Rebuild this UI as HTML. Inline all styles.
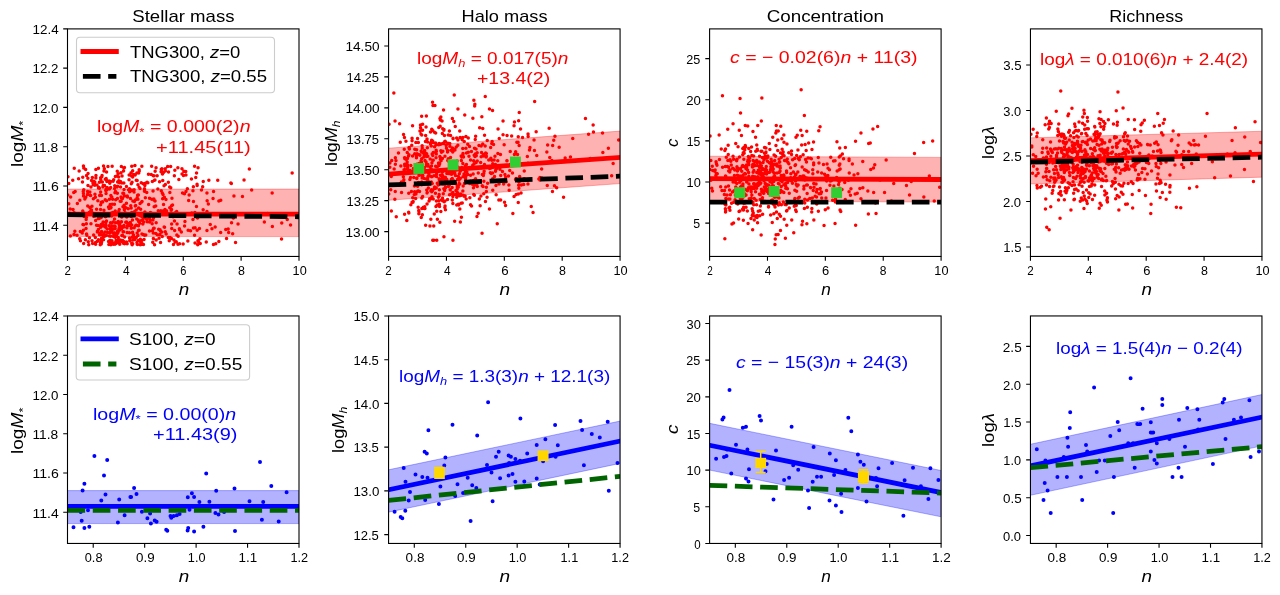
<!DOCTYPE html>
<html><head><meta charset="utf-8"><title>Figure</title>
<style>
html,body{margin:0;padding:0;background:#fff;}
body{width:1280px;height:595px;overflow:hidden;font-family:"Liberation Sans", sans-serif;}
svg{display:block;font-family:"Liberation Sans", sans-serif;will-change:transform;}
</style></head>
<body>
<svg width="1280" height="595" viewBox="0 0 1280 595">
<rect width="1280" height="595" fill="#fff"/>
<defs>
<clipPath id="c00"><rect x="67.5" y="28.9" width="231.5" height="227.55"/></clipPath>
<clipPath id="c01"><rect x="388.57" y="28.9" width="231.5" height="227.55"/></clipPath>
<clipPath id="c02"><rect x="709.6" y="28.9" width="231.5" height="227.55"/></clipPath>
<clipPath id="c03"><rect x="1030.45" y="28.9" width="231.5" height="227.55"/></clipPath>
<clipPath id="c10"><rect x="67.5" y="315.95" width="231.5" height="227.5"/></clipPath>
<clipPath id="c11"><rect x="388.57" y="315.95" width="231.5" height="227.5"/></clipPath>
<clipPath id="c12"><rect x="709.6" y="315.95" width="231.5" height="227.5"/></clipPath>
<clipPath id="c13"><rect x="1030.45" y="315.95" width="231.5" height="227.5"/></clipPath>
</defs>
<path d="M125.2 227.7a1.75 1.75 0 1 0 3.5 0a1.75 1.75 0 1 0 -3.5 0M193.3 227.8a1.75 1.75 0 1 0 3.5 0a1.75 1.75 0 1 0 -3.5 0M165.9 166.5a1.75 1.75 0 1 0 3.5 0a1.75 1.75 0 1 0 -3.5 0M96.2 225.6a1.75 1.75 0 1 0 3.5 0a1.75 1.75 0 1 0 -3.5 0M98.3 233.1a1.75 1.75 0 1 0 3.5 0a1.75 1.75 0 1 0 -3.5 0M184.0 171.5a1.75 1.75 0 1 0 3.5 0a1.75 1.75 0 1 0 -3.5 0M78.0 238.7a1.75 1.75 0 1 0 3.5 0a1.75 1.75 0 1 0 -3.5 0M180.2 168.8a1.75 1.75 0 1 0 3.5 0a1.75 1.75 0 1 0 -3.5 0M153.2 180.1a1.75 1.75 0 1 0 3.5 0a1.75 1.75 0 1 0 -3.5 0M114.0 199.7a1.75 1.75 0 1 0 3.5 0a1.75 1.75 0 1 0 -3.5 0M97.5 218.5a1.75 1.75 0 1 0 3.5 0a1.75 1.75 0 1 0 -3.5 0M101.5 235.2a1.75 1.75 0 1 0 3.5 0a1.75 1.75 0 1 0 -3.5 0M108.0 240.5a1.75 1.75 0 1 0 3.5 0a1.75 1.75 0 1 0 -3.5 0M110.2 240.7a1.75 1.75 0 1 0 3.5 0a1.75 1.75 0 1 0 -3.5 0M126.1 224.6a1.75 1.75 0 1 0 3.5 0a1.75 1.75 0 1 0 -3.5 0M130.7 220.1a1.75 1.75 0 1 0 3.5 0a1.75 1.75 0 1 0 -3.5 0M290.4 173.1a1.75 1.75 0 1 0 3.5 0a1.75 1.75 0 1 0 -3.5 0M163.3 209.5a1.75 1.75 0 1 0 3.5 0a1.75 1.75 0 1 0 -3.5 0M130.0 166.3a1.75 1.75 0 1 0 3.5 0a1.75 1.75 0 1 0 -3.5 0M270.4 192.9a1.75 1.75 0 1 0 3.5 0a1.75 1.75 0 1 0 -3.5 0M99.8 238.3a1.75 1.75 0 1 0 3.5 0a1.75 1.75 0 1 0 -3.5 0M108.9 208.0a1.75 1.75 0 1 0 3.5 0a1.75 1.75 0 1 0 -3.5 0M134.5 237.5a1.75 1.75 0 1 0 3.5 0a1.75 1.75 0 1 0 -3.5 0M81.9 243.6a1.75 1.75 0 1 0 3.5 0a1.75 1.75 0 1 0 -3.5 0M77.4 171.1a1.75 1.75 0 1 0 3.5 0a1.75 1.75 0 1 0 -3.5 0M128.1 225.4a1.75 1.75 0 1 0 3.5 0a1.75 1.75 0 1 0 -3.5 0M120.5 235.7a1.75 1.75 0 1 0 3.5 0a1.75 1.75 0 1 0 -3.5 0M196.2 240.8a1.75 1.75 0 1 0 3.5 0a1.75 1.75 0 1 0 -3.5 0M136.2 199.2a1.75 1.75 0 1 0 3.5 0a1.75 1.75 0 1 0 -3.5 0M126.0 215.8a1.75 1.75 0 1 0 3.5 0a1.75 1.75 0 1 0 -3.5 0M130.2 244.6a1.75 1.75 0 1 0 3.5 0a1.75 1.75 0 1 0 -3.5 0M104.3 193.4a1.75 1.75 0 1 0 3.5 0a1.75 1.75 0 1 0 -3.5 0M73.1 231.3a1.75 1.75 0 1 0 3.5 0a1.75 1.75 0 1 0 -3.5 0M97.1 187.2a1.75 1.75 0 1 0 3.5 0a1.75 1.75 0 1 0 -3.5 0M140.1 213.5a1.75 1.75 0 1 0 3.5 0a1.75 1.75 0 1 0 -3.5 0M98.8 209.5a1.75 1.75 0 1 0 3.5 0a1.75 1.75 0 1 0 -3.5 0M109.9 216.1a1.75 1.75 0 1 0 3.5 0a1.75 1.75 0 1 0 -3.5 0M68.9 197.0a1.75 1.75 0 1 0 3.5 0a1.75 1.75 0 1 0 -3.5 0M168.9 166.4a1.75 1.75 0 1 0 3.5 0a1.75 1.75 0 1 0 -3.5 0M101.4 185.6a1.75 1.75 0 1 0 3.5 0a1.75 1.75 0 1 0 -3.5 0M99.8 242.4a1.75 1.75 0 1 0 3.5 0a1.75 1.75 0 1 0 -3.5 0M190.0 213.0a1.75 1.75 0 1 0 3.5 0a1.75 1.75 0 1 0 -3.5 0M127.7 232.8a1.75 1.75 0 1 0 3.5 0a1.75 1.75 0 1 0 -3.5 0M167.5 240.7a1.75 1.75 0 1 0 3.5 0a1.75 1.75 0 1 0 -3.5 0M142.9 235.3a1.75 1.75 0 1 0 3.5 0a1.75 1.75 0 1 0 -3.5 0M163.5 231.8a1.75 1.75 0 1 0 3.5 0a1.75 1.75 0 1 0 -3.5 0M83.9 169.5a1.75 1.75 0 1 0 3.5 0a1.75 1.75 0 1 0 -3.5 0M129.5 190.6a1.75 1.75 0 1 0 3.5 0a1.75 1.75 0 1 0 -3.5 0M134.5 180.2a1.75 1.75 0 1 0 3.5 0a1.75 1.75 0 1 0 -3.5 0M187.4 194.9a1.75 1.75 0 1 0 3.5 0a1.75 1.75 0 1 0 -3.5 0M122.0 227.1a1.75 1.75 0 1 0 3.5 0a1.75 1.75 0 1 0 -3.5 0M136.9 221.4a1.75 1.75 0 1 0 3.5 0a1.75 1.75 0 1 0 -3.5 0M84.7 217.4a1.75 1.75 0 1 0 3.5 0a1.75 1.75 0 1 0 -3.5 0M119.8 228.7a1.75 1.75 0 1 0 3.5 0a1.75 1.75 0 1 0 -3.5 0M112.8 219.0a1.75 1.75 0 1 0 3.5 0a1.75 1.75 0 1 0 -3.5 0M96.7 188.1a1.75 1.75 0 1 0 3.5 0a1.75 1.75 0 1 0 -3.5 0M173.4 242.1a1.75 1.75 0 1 0 3.5 0a1.75 1.75 0 1 0 -3.5 0M117.9 229.9a1.75 1.75 0 1 0 3.5 0a1.75 1.75 0 1 0 -3.5 0M267.4 214.3a1.75 1.75 0 1 0 3.5 0a1.75 1.75 0 1 0 -3.5 0M125.7 197.0a1.75 1.75 0 1 0 3.5 0a1.75 1.75 0 1 0 -3.5 0M133.9 199.8a1.75 1.75 0 1 0 3.5 0a1.75 1.75 0 1 0 -3.5 0M145.0 192.5a1.75 1.75 0 1 0 3.5 0a1.75 1.75 0 1 0 -3.5 0M140.0 240.6a1.75 1.75 0 1 0 3.5 0a1.75 1.75 0 1 0 -3.5 0M108.8 236.2a1.75 1.75 0 1 0 3.5 0a1.75 1.75 0 1 0 -3.5 0M119.2 227.6a1.75 1.75 0 1 0 3.5 0a1.75 1.75 0 1 0 -3.5 0M96.6 229.5a1.75 1.75 0 1 0 3.5 0a1.75 1.75 0 1 0 -3.5 0M122.3 189.6a1.75 1.75 0 1 0 3.5 0a1.75 1.75 0 1 0 -3.5 0M81.7 166.0a1.75 1.75 0 1 0 3.5 0a1.75 1.75 0 1 0 -3.5 0M240.7 196.4a1.75 1.75 0 1 0 3.5 0a1.75 1.75 0 1 0 -3.5 0M99.5 243.9a1.75 1.75 0 1 0 3.5 0a1.75 1.75 0 1 0 -3.5 0M151.7 228.4a1.75 1.75 0 1 0 3.5 0a1.75 1.75 0 1 0 -3.5 0M95.2 185.1a1.75 1.75 0 1 0 3.5 0a1.75 1.75 0 1 0 -3.5 0M194.8 173.1a1.75 1.75 0 1 0 3.5 0a1.75 1.75 0 1 0 -3.5 0M146.9 204.4a1.75 1.75 0 1 0 3.5 0a1.75 1.75 0 1 0 -3.5 0M81.2 224.6a1.75 1.75 0 1 0 3.5 0a1.75 1.75 0 1 0 -3.5 0M175.3 224.1a1.75 1.75 0 1 0 3.5 0a1.75 1.75 0 1 0 -3.5 0M217.1 200.9a1.75 1.75 0 1 0 3.5 0a1.75 1.75 0 1 0 -3.5 0M189.7 179.1a1.75 1.75 0 1 0 3.5 0a1.75 1.75 0 1 0 -3.5 0M134.3 225.2a1.75 1.75 0 1 0 3.5 0a1.75 1.75 0 1 0 -3.5 0M104.5 235.6a1.75 1.75 0 1 0 3.5 0a1.75 1.75 0 1 0 -3.5 0M109.1 244.8a1.75 1.75 0 1 0 3.5 0a1.75 1.75 0 1 0 -3.5 0M198.2 238.8a1.75 1.75 0 1 0 3.5 0a1.75 1.75 0 1 0 -3.5 0M135.4 180.4a1.75 1.75 0 1 0 3.5 0a1.75 1.75 0 1 0 -3.5 0M100.6 201.7a1.75 1.75 0 1 0 3.5 0a1.75 1.75 0 1 0 -3.5 0M192.8 166.3a1.75 1.75 0 1 0 3.5 0a1.75 1.75 0 1 0 -3.5 0M151.0 242.3a1.75 1.75 0 1 0 3.5 0a1.75 1.75 0 1 0 -3.5 0M138.0 223.3a1.75 1.75 0 1 0 3.5 0a1.75 1.75 0 1 0 -3.5 0M113.0 185.8a1.75 1.75 0 1 0 3.5 0a1.75 1.75 0 1 0 -3.5 0M115.7 198.4a1.75 1.75 0 1 0 3.5 0a1.75 1.75 0 1 0 -3.5 0M108.3 242.5a1.75 1.75 0 1 0 3.5 0a1.75 1.75 0 1 0 -3.5 0M93.9 220.6a1.75 1.75 0 1 0 3.5 0a1.75 1.75 0 1 0 -3.5 0M186.9 200.5a1.75 1.75 0 1 0 3.5 0a1.75 1.75 0 1 0 -3.5 0M122.8 196.0a1.75 1.75 0 1 0 3.5 0a1.75 1.75 0 1 0 -3.5 0M129.5 216.5a1.75 1.75 0 1 0 3.5 0a1.75 1.75 0 1 0 -3.5 0M114.6 235.8a1.75 1.75 0 1 0 3.5 0a1.75 1.75 0 1 0 -3.5 0M163.5 168.8a1.75 1.75 0 1 0 3.5 0a1.75 1.75 0 1 0 -3.5 0M72.6 215.3a1.75 1.75 0 1 0 3.5 0a1.75 1.75 0 1 0 -3.5 0M115.6 193.2a1.75 1.75 0 1 0 3.5 0a1.75 1.75 0 1 0 -3.5 0M71.3 209.6a1.75 1.75 0 1 0 3.5 0a1.75 1.75 0 1 0 -3.5 0M86.5 241.8a1.75 1.75 0 1 0 3.5 0a1.75 1.75 0 1 0 -3.5 0M226.9 232.6a1.75 1.75 0 1 0 3.5 0a1.75 1.75 0 1 0 -3.5 0M139.0 242.6a1.75 1.75 0 1 0 3.5 0a1.75 1.75 0 1 0 -3.5 0M120.1 235.6a1.75 1.75 0 1 0 3.5 0a1.75 1.75 0 1 0 -3.5 0M131.8 235.0a1.75 1.75 0 1 0 3.5 0a1.75 1.75 0 1 0 -3.5 0M191.2 219.5a1.75 1.75 0 1 0 3.5 0a1.75 1.75 0 1 0 -3.5 0M120.8 226.6a1.75 1.75 0 1 0 3.5 0a1.75 1.75 0 1 0 -3.5 0M127.0 223.6a1.75 1.75 0 1 0 3.5 0a1.75 1.75 0 1 0 -3.5 0M141.5 183.7a1.75 1.75 0 1 0 3.5 0a1.75 1.75 0 1 0 -3.5 0M113.2 244.3a1.75 1.75 0 1 0 3.5 0a1.75 1.75 0 1 0 -3.5 0M128.0 240.7a1.75 1.75 0 1 0 3.5 0a1.75 1.75 0 1 0 -3.5 0M163.6 184.6a1.75 1.75 0 1 0 3.5 0a1.75 1.75 0 1 0 -3.5 0M201.4 209.7a1.75 1.75 0 1 0 3.5 0a1.75 1.75 0 1 0 -3.5 0M99.4 217.6a1.75 1.75 0 1 0 3.5 0a1.75 1.75 0 1 0 -3.5 0M205.2 230.5a1.75 1.75 0 1 0 3.5 0a1.75 1.75 0 1 0 -3.5 0M68.4 208.9a1.75 1.75 0 1 0 3.5 0a1.75 1.75 0 1 0 -3.5 0M154.1 233.6a1.75 1.75 0 1 0 3.5 0a1.75 1.75 0 1 0 -3.5 0M177.1 179.6a1.75 1.75 0 1 0 3.5 0a1.75 1.75 0 1 0 -3.5 0M91.2 183.0a1.75 1.75 0 1 0 3.5 0a1.75 1.75 0 1 0 -3.5 0M113.4 226.6a1.75 1.75 0 1 0 3.5 0a1.75 1.75 0 1 0 -3.5 0M176.2 244.2a1.75 1.75 0 1 0 3.5 0a1.75 1.75 0 1 0 -3.5 0M66.2 176.7a1.75 1.75 0 1 0 3.5 0a1.75 1.75 0 1 0 -3.5 0M129.5 228.3a1.75 1.75 0 1 0 3.5 0a1.75 1.75 0 1 0 -3.5 0M160.9 198.8a1.75 1.75 0 1 0 3.5 0a1.75 1.75 0 1 0 -3.5 0M127.3 179.7a1.75 1.75 0 1 0 3.5 0a1.75 1.75 0 1 0 -3.5 0M143.1 185.5a1.75 1.75 0 1 0 3.5 0a1.75 1.75 0 1 0 -3.5 0M103.5 179.2a1.75 1.75 0 1 0 3.5 0a1.75 1.75 0 1 0 -3.5 0M103.2 213.5a1.75 1.75 0 1 0 3.5 0a1.75 1.75 0 1 0 -3.5 0M111.4 181.2a1.75 1.75 0 1 0 3.5 0a1.75 1.75 0 1 0 -3.5 0M104.9 215.8a1.75 1.75 0 1 0 3.5 0a1.75 1.75 0 1 0 -3.5 0M110.3 230.8a1.75 1.75 0 1 0 3.5 0a1.75 1.75 0 1 0 -3.5 0M224.5 214.1a1.75 1.75 0 1 0 3.5 0a1.75 1.75 0 1 0 -3.5 0M126.6 225.6a1.75 1.75 0 1 0 3.5 0a1.75 1.75 0 1 0 -3.5 0M112.8 188.5a1.75 1.75 0 1 0 3.5 0a1.75 1.75 0 1 0 -3.5 0M97.6 182.3a1.75 1.75 0 1 0 3.5 0a1.75 1.75 0 1 0 -3.5 0M224.8 238.6a1.75 1.75 0 1 0 3.5 0a1.75 1.75 0 1 0 -3.5 0M113.3 237.2a1.75 1.75 0 1 0 3.5 0a1.75 1.75 0 1 0 -3.5 0M262.6 221.9a1.75 1.75 0 1 0 3.5 0a1.75 1.75 0 1 0 -3.5 0M138.0 215.6a1.75 1.75 0 1 0 3.5 0a1.75 1.75 0 1 0 -3.5 0M137.4 169.8a1.75 1.75 0 1 0 3.5 0a1.75 1.75 0 1 0 -3.5 0M182.1 171.3a1.75 1.75 0 1 0 3.5 0a1.75 1.75 0 1 0 -3.5 0M160.1 168.7a1.75 1.75 0 1 0 3.5 0a1.75 1.75 0 1 0 -3.5 0M132.3 192.0a1.75 1.75 0 1 0 3.5 0a1.75 1.75 0 1 0 -3.5 0M119.3 196.9a1.75 1.75 0 1 0 3.5 0a1.75 1.75 0 1 0 -3.5 0M186.4 230.3a1.75 1.75 0 1 0 3.5 0a1.75 1.75 0 1 0 -3.5 0M113.9 222.8a1.75 1.75 0 1 0 3.5 0a1.75 1.75 0 1 0 -3.5 0M196.0 244.8a1.75 1.75 0 1 0 3.5 0a1.75 1.75 0 1 0 -3.5 0M80.7 182.1a1.75 1.75 0 1 0 3.5 0a1.75 1.75 0 1 0 -3.5 0M117.1 229.9a1.75 1.75 0 1 0 3.5 0a1.75 1.75 0 1 0 -3.5 0M124.7 241.9a1.75 1.75 0 1 0 3.5 0a1.75 1.75 0 1 0 -3.5 0M213.4 227.1a1.75 1.75 0 1 0 3.5 0a1.75 1.75 0 1 0 -3.5 0M99.5 226.5a1.75 1.75 0 1 0 3.5 0a1.75 1.75 0 1 0 -3.5 0M168.1 192.6a1.75 1.75 0 1 0 3.5 0a1.75 1.75 0 1 0 -3.5 0M138.5 244.7a1.75 1.75 0 1 0 3.5 0a1.75 1.75 0 1 0 -3.5 0M151.5 233.1a1.75 1.75 0 1 0 3.5 0a1.75 1.75 0 1 0 -3.5 0M129.9 175.9a1.75 1.75 0 1 0 3.5 0a1.75 1.75 0 1 0 -3.5 0M242.3 180.0a1.75 1.75 0 1 0 3.5 0a1.75 1.75 0 1 0 -3.5 0M119.4 201.3a1.75 1.75 0 1 0 3.5 0a1.75 1.75 0 1 0 -3.5 0M109.3 207.5a1.75 1.75 0 1 0 3.5 0a1.75 1.75 0 1 0 -3.5 0M98.2 233.6a1.75 1.75 0 1 0 3.5 0a1.75 1.75 0 1 0 -3.5 0M94.1 178.0a1.75 1.75 0 1 0 3.5 0a1.75 1.75 0 1 0 -3.5 0M107.7 189.1a1.75 1.75 0 1 0 3.5 0a1.75 1.75 0 1 0 -3.5 0M205.2 211.5a1.75 1.75 0 1 0 3.5 0a1.75 1.75 0 1 0 -3.5 0M168.4 237.4a1.75 1.75 0 1 0 3.5 0a1.75 1.75 0 1 0 -3.5 0M84.8 234.0a1.75 1.75 0 1 0 3.5 0a1.75 1.75 0 1 0 -3.5 0M124.0 222.3a1.75 1.75 0 1 0 3.5 0a1.75 1.75 0 1 0 -3.5 0M112.3 225.9a1.75 1.75 0 1 0 3.5 0a1.75 1.75 0 1 0 -3.5 0M124.0 242.7a1.75 1.75 0 1 0 3.5 0a1.75 1.75 0 1 0 -3.5 0M139.9 220.2a1.75 1.75 0 1 0 3.5 0a1.75 1.75 0 1 0 -3.5 0M103.8 216.8a1.75 1.75 0 1 0 3.5 0a1.75 1.75 0 1 0 -3.5 0M226.4 229.1a1.75 1.75 0 1 0 3.5 0a1.75 1.75 0 1 0 -3.5 0M111.4 221.9a1.75 1.75 0 1 0 3.5 0a1.75 1.75 0 1 0 -3.5 0M136.7 225.8a1.75 1.75 0 1 0 3.5 0a1.75 1.75 0 1 0 -3.5 0M128.5 222.5a1.75 1.75 0 1 0 3.5 0a1.75 1.75 0 1 0 -3.5 0M99.5 202.2a1.75 1.75 0 1 0 3.5 0a1.75 1.75 0 1 0 -3.5 0M81.5 212.8a1.75 1.75 0 1 0 3.5 0a1.75 1.75 0 1 0 -3.5 0M120.7 235.2a1.75 1.75 0 1 0 3.5 0a1.75 1.75 0 1 0 -3.5 0M162.3 185.8a1.75 1.75 0 1 0 3.5 0a1.75 1.75 0 1 0 -3.5 0M174.9 211.4a1.75 1.75 0 1 0 3.5 0a1.75 1.75 0 1 0 -3.5 0M147.0 216.0a1.75 1.75 0 1 0 3.5 0a1.75 1.75 0 1 0 -3.5 0M81.7 193.6a1.75 1.75 0 1 0 3.5 0a1.75 1.75 0 1 0 -3.5 0M199.7 189.9a1.75 1.75 0 1 0 3.5 0a1.75 1.75 0 1 0 -3.5 0M161.0 180.6a1.75 1.75 0 1 0 3.5 0a1.75 1.75 0 1 0 -3.5 0M195.3 184.3a1.75 1.75 0 1 0 3.5 0a1.75 1.75 0 1 0 -3.5 0M135.4 197.7a1.75 1.75 0 1 0 3.5 0a1.75 1.75 0 1 0 -3.5 0M205.2 192.9a1.75 1.75 0 1 0 3.5 0a1.75 1.75 0 1 0 -3.5 0M87.7 237.7a1.75 1.75 0 1 0 3.5 0a1.75 1.75 0 1 0 -3.5 0M66.0 194.9a1.75 1.75 0 1 0 3.5 0a1.75 1.75 0 1 0 -3.5 0M78.6 231.4a1.75 1.75 0 1 0 3.5 0a1.75 1.75 0 1 0 -3.5 0M95.7 231.2a1.75 1.75 0 1 0 3.5 0a1.75 1.75 0 1 0 -3.5 0M96.6 239.8a1.75 1.75 0 1 0 3.5 0a1.75 1.75 0 1 0 -3.5 0M104.7 220.9a1.75 1.75 0 1 0 3.5 0a1.75 1.75 0 1 0 -3.5 0M135.4 244.3a1.75 1.75 0 1 0 3.5 0a1.75 1.75 0 1 0 -3.5 0M91.6 198.8a1.75 1.75 0 1 0 3.5 0a1.75 1.75 0 1 0 -3.5 0M130.2 190.3a1.75 1.75 0 1 0 3.5 0a1.75 1.75 0 1 0 -3.5 0M97.2 187.7a1.75 1.75 0 1 0 3.5 0a1.75 1.75 0 1 0 -3.5 0M138.6 239.3a1.75 1.75 0 1 0 3.5 0a1.75 1.75 0 1 0 -3.5 0M78.1 200.2a1.75 1.75 0 1 0 3.5 0a1.75 1.75 0 1 0 -3.5 0M108.8 181.6a1.75 1.75 0 1 0 3.5 0a1.75 1.75 0 1 0 -3.5 0M214.0 243.8a1.75 1.75 0 1 0 3.5 0a1.75 1.75 0 1 0 -3.5 0M136.2 235.4a1.75 1.75 0 1 0 3.5 0a1.75 1.75 0 1 0 -3.5 0M172.9 230.5a1.75 1.75 0 1 0 3.5 0a1.75 1.75 0 1 0 -3.5 0M142.6 215.7a1.75 1.75 0 1 0 3.5 0a1.75 1.75 0 1 0 -3.5 0M130.9 236.8a1.75 1.75 0 1 0 3.5 0a1.75 1.75 0 1 0 -3.5 0M94.8 209.2a1.75 1.75 0 1 0 3.5 0a1.75 1.75 0 1 0 -3.5 0M130.0 225.0a1.75 1.75 0 1 0 3.5 0a1.75 1.75 0 1 0 -3.5 0M83.1 199.0a1.75 1.75 0 1 0 3.5 0a1.75 1.75 0 1 0 -3.5 0M162.9 209.9a1.75 1.75 0 1 0 3.5 0a1.75 1.75 0 1 0 -3.5 0M232.2 196.1a1.75 1.75 0 1 0 3.5 0a1.75 1.75 0 1 0 -3.5 0M179.6 232.0a1.75 1.75 0 1 0 3.5 0a1.75 1.75 0 1 0 -3.5 0M93.2 194.2a1.75 1.75 0 1 0 3.5 0a1.75 1.75 0 1 0 -3.5 0M113.7 191.6a1.75 1.75 0 1 0 3.5 0a1.75 1.75 0 1 0 -3.5 0M113.2 192.8a1.75 1.75 0 1 0 3.5 0a1.75 1.75 0 1 0 -3.5 0M93.8 242.4a1.75 1.75 0 1 0 3.5 0a1.75 1.75 0 1 0 -3.5 0M130.9 170.8a1.75 1.75 0 1 0 3.5 0a1.75 1.75 0 1 0 -3.5 0M154.0 205.9a1.75 1.75 0 1 0 3.5 0a1.75 1.75 0 1 0 -3.5 0M109.8 230.2a1.75 1.75 0 1 0 3.5 0a1.75 1.75 0 1 0 -3.5 0M195.8 218.0a1.75 1.75 0 1 0 3.5 0a1.75 1.75 0 1 0 -3.5 0M160.9 211.1a1.75 1.75 0 1 0 3.5 0a1.75 1.75 0 1 0 -3.5 0M81.0 211.0a1.75 1.75 0 1 0 3.5 0a1.75 1.75 0 1 0 -3.5 0M160.0 231.9a1.75 1.75 0 1 0 3.5 0a1.75 1.75 0 1 0 -3.5 0M188.8 230.7a1.75 1.75 0 1 0 3.5 0a1.75 1.75 0 1 0 -3.5 0M101.0 223.5a1.75 1.75 0 1 0 3.5 0a1.75 1.75 0 1 0 -3.5 0M137.4 187.2a1.75 1.75 0 1 0 3.5 0a1.75 1.75 0 1 0 -3.5 0M151.8 217.7a1.75 1.75 0 1 0 3.5 0a1.75 1.75 0 1 0 -3.5 0M125.4 243.7a1.75 1.75 0 1 0 3.5 0a1.75 1.75 0 1 0 -3.5 0M82.4 216.5a1.75 1.75 0 1 0 3.5 0a1.75 1.75 0 1 0 -3.5 0M144.0 234.9a1.75 1.75 0 1 0 3.5 0a1.75 1.75 0 1 0 -3.5 0M135.7 244.6a1.75 1.75 0 1 0 3.5 0a1.75 1.75 0 1 0 -3.5 0M176.1 167.7a1.75 1.75 0 1 0 3.5 0a1.75 1.75 0 1 0 -3.5 0M177.6 228.7a1.75 1.75 0 1 0 3.5 0a1.75 1.75 0 1 0 -3.5 0M117.5 209.4a1.75 1.75 0 1 0 3.5 0a1.75 1.75 0 1 0 -3.5 0M141.1 223.9a1.75 1.75 0 1 0 3.5 0a1.75 1.75 0 1 0 -3.5 0M193.3 243.1a1.75 1.75 0 1 0 3.5 0a1.75 1.75 0 1 0 -3.5 0M181.7 175.4a1.75 1.75 0 1 0 3.5 0a1.75 1.75 0 1 0 -3.5 0M104.8 171.9a1.75 1.75 0 1 0 3.5 0a1.75 1.75 0 1 0 -3.5 0M68.6 235.9a1.75 1.75 0 1 0 3.5 0a1.75 1.75 0 1 0 -3.5 0M144.9 219.2a1.75 1.75 0 1 0 3.5 0a1.75 1.75 0 1 0 -3.5 0M108.8 222.7a1.75 1.75 0 1 0 3.5 0a1.75 1.75 0 1 0 -3.5 0M131.4 237.1a1.75 1.75 0 1 0 3.5 0a1.75 1.75 0 1 0 -3.5 0M211.3 198.4a1.75 1.75 0 1 0 3.5 0a1.75 1.75 0 1 0 -3.5 0M115.4 187.1a1.75 1.75 0 1 0 3.5 0a1.75 1.75 0 1 0 -3.5 0M104.2 189.2a1.75 1.75 0 1 0 3.5 0a1.75 1.75 0 1 0 -3.5 0M110.0 197.1a1.75 1.75 0 1 0 3.5 0a1.75 1.75 0 1 0 -3.5 0M141.7 244.4a1.75 1.75 0 1 0 3.5 0a1.75 1.75 0 1 0 -3.5 0M80.5 233.1a1.75 1.75 0 1 0 3.5 0a1.75 1.75 0 1 0 -3.5 0M117.0 211.3a1.75 1.75 0 1 0 3.5 0a1.75 1.75 0 1 0 -3.5 0M85.7 194.6a1.75 1.75 0 1 0 3.5 0a1.75 1.75 0 1 0 -3.5 0M145.4 221.7a1.75 1.75 0 1 0 3.5 0a1.75 1.75 0 1 0 -3.5 0M171.3 216.7a1.75 1.75 0 1 0 3.5 0a1.75 1.75 0 1 0 -3.5 0M118.7 181.4a1.75 1.75 0 1 0 3.5 0a1.75 1.75 0 1 0 -3.5 0M111.7 244.2a1.75 1.75 0 1 0 3.5 0a1.75 1.75 0 1 0 -3.5 0M136.7 230.4a1.75 1.75 0 1 0 3.5 0a1.75 1.75 0 1 0 -3.5 0M108.6 228.9a1.75 1.75 0 1 0 3.5 0a1.75 1.75 0 1 0 -3.5 0M101.8 166.1a1.75 1.75 0 1 0 3.5 0a1.75 1.75 0 1 0 -3.5 0M115.9 233.2a1.75 1.75 0 1 0 3.5 0a1.75 1.75 0 1 0 -3.5 0M121.6 243.3a1.75 1.75 0 1 0 3.5 0a1.75 1.75 0 1 0 -3.5 0M84.4 219.4a1.75 1.75 0 1 0 3.5 0a1.75 1.75 0 1 0 -3.5 0M164.2 199.5a1.75 1.75 0 1 0 3.5 0a1.75 1.75 0 1 0 -3.5 0M127.8 237.9a1.75 1.75 0 1 0 3.5 0a1.75 1.75 0 1 0 -3.5 0M105.1 181.5a1.75 1.75 0 1 0 3.5 0a1.75 1.75 0 1 0 -3.5 0M85.1 235.2a1.75 1.75 0 1 0 3.5 0a1.75 1.75 0 1 0 -3.5 0M161.3 194.4a1.75 1.75 0 1 0 3.5 0a1.75 1.75 0 1 0 -3.5 0M93.6 237.4a1.75 1.75 0 1 0 3.5 0a1.75 1.75 0 1 0 -3.5 0M81.0 177.3a1.75 1.75 0 1 0 3.5 0a1.75 1.75 0 1 0 -3.5 0M91.9 234.9a1.75 1.75 0 1 0 3.5 0a1.75 1.75 0 1 0 -3.5 0M88.1 191.9a1.75 1.75 0 1 0 3.5 0a1.75 1.75 0 1 0 -3.5 0M201.5 181.6a1.75 1.75 0 1 0 3.5 0a1.75 1.75 0 1 0 -3.5 0M99.8 231.4a1.75 1.75 0 1 0 3.5 0a1.75 1.75 0 1 0 -3.5 0M95.7 241.2a1.75 1.75 0 1 0 3.5 0a1.75 1.75 0 1 0 -3.5 0M170.8 205.1a1.75 1.75 0 1 0 3.5 0a1.75 1.75 0 1 0 -3.5 0M132.6 212.6a1.75 1.75 0 1 0 3.5 0a1.75 1.75 0 1 0 -3.5 0M96.1 214.3a1.75 1.75 0 1 0 3.5 0a1.75 1.75 0 1 0 -3.5 0M118.8 187.1a1.75 1.75 0 1 0 3.5 0a1.75 1.75 0 1 0 -3.5 0M195.4 215.6a1.75 1.75 0 1 0 3.5 0a1.75 1.75 0 1 0 -3.5 0M123.3 212.8a1.75 1.75 0 1 0 3.5 0a1.75 1.75 0 1 0 -3.5 0M151.0 213.6a1.75 1.75 0 1 0 3.5 0a1.75 1.75 0 1 0 -3.5 0M91.9 216.3a1.75 1.75 0 1 0 3.5 0a1.75 1.75 0 1 0 -3.5 0M140.7 220.2a1.75 1.75 0 1 0 3.5 0a1.75 1.75 0 1 0 -3.5 0M166.6 237.4a1.75 1.75 0 1 0 3.5 0a1.75 1.75 0 1 0 -3.5 0M170.0 228.5a1.75 1.75 0 1 0 3.5 0a1.75 1.75 0 1 0 -3.5 0M150.7 230.7a1.75 1.75 0 1 0 3.5 0a1.75 1.75 0 1 0 -3.5 0M121.9 231.8a1.75 1.75 0 1 0 3.5 0a1.75 1.75 0 1 0 -3.5 0M89.2 187.0a1.75 1.75 0 1 0 3.5 0a1.75 1.75 0 1 0 -3.5 0M131.2 240.1a1.75 1.75 0 1 0 3.5 0a1.75 1.75 0 1 0 -3.5 0M155.5 234.7a1.75 1.75 0 1 0 3.5 0a1.75 1.75 0 1 0 -3.5 0M102.2 210.3a1.75 1.75 0 1 0 3.5 0a1.75 1.75 0 1 0 -3.5 0M98.9 227.3a1.75 1.75 0 1 0 3.5 0a1.75 1.75 0 1 0 -3.5 0M125.4 232.4a1.75 1.75 0 1 0 3.5 0a1.75 1.75 0 1 0 -3.5 0M154.4 222.7a1.75 1.75 0 1 0 3.5 0a1.75 1.75 0 1 0 -3.5 0M193.1 212.4a1.75 1.75 0 1 0 3.5 0a1.75 1.75 0 1 0 -3.5 0M93.6 197.2a1.75 1.75 0 1 0 3.5 0a1.75 1.75 0 1 0 -3.5 0M96.7 168.2a1.75 1.75 0 1 0 3.5 0a1.75 1.75 0 1 0 -3.5 0M152.8 180.2a1.75 1.75 0 1 0 3.5 0a1.75 1.75 0 1 0 -3.5 0M141.9 218.3a1.75 1.75 0 1 0 3.5 0a1.75 1.75 0 1 0 -3.5 0M140.0 216.5a1.75 1.75 0 1 0 3.5 0a1.75 1.75 0 1 0 -3.5 0M285.5 219.4a1.75 1.75 0 1 0 3.5 0a1.75 1.75 0 1 0 -3.5 0M218.9 232.5a1.75 1.75 0 1 0 3.5 0a1.75 1.75 0 1 0 -3.5 0M173.1 170.3a1.75 1.75 0 1 0 3.5 0a1.75 1.75 0 1 0 -3.5 0M158.8 242.4a1.75 1.75 0 1 0 3.5 0a1.75 1.75 0 1 0 -3.5 0M112.1 234.7a1.75 1.75 0 1 0 3.5 0a1.75 1.75 0 1 0 -3.5 0M147.7 198.3a1.75 1.75 0 1 0 3.5 0a1.75 1.75 0 1 0 -3.5 0M98.9 204.8a1.75 1.75 0 1 0 3.5 0a1.75 1.75 0 1 0 -3.5 0M158.3 229.7a1.75 1.75 0 1 0 3.5 0a1.75 1.75 0 1 0 -3.5 0M159.3 171.8a1.75 1.75 0 1 0 3.5 0a1.75 1.75 0 1 0 -3.5 0M151.2 219.9a1.75 1.75 0 1 0 3.5 0a1.75 1.75 0 1 0 -3.5 0M112.7 204.2a1.75 1.75 0 1 0 3.5 0a1.75 1.75 0 1 0 -3.5 0M119.6 241.3a1.75 1.75 0 1 0 3.5 0a1.75 1.75 0 1 0 -3.5 0M113.6 176.4a1.75 1.75 0 1 0 3.5 0a1.75 1.75 0 1 0 -3.5 0M78.7 240.7a1.75 1.75 0 1 0 3.5 0a1.75 1.75 0 1 0 -3.5 0M172.7 221.1a1.75 1.75 0 1 0 3.5 0a1.75 1.75 0 1 0 -3.5 0M130.9 176.9a1.75 1.75 0 1 0 3.5 0a1.75 1.75 0 1 0 -3.5 0M121.8 171.0a1.75 1.75 0 1 0 3.5 0a1.75 1.75 0 1 0 -3.5 0M133.4 175.1a1.75 1.75 0 1 0 3.5 0a1.75 1.75 0 1 0 -3.5 0M139.5 182.7a1.75 1.75 0 1 0 3.5 0a1.75 1.75 0 1 0 -3.5 0M111.1 232.8a1.75 1.75 0 1 0 3.5 0a1.75 1.75 0 1 0 -3.5 0M181.4 243.9a1.75 1.75 0 1 0 3.5 0a1.75 1.75 0 1 0 -3.5 0M196.4 216.5a1.75 1.75 0 1 0 3.5 0a1.75 1.75 0 1 0 -3.5 0M113.5 242.6a1.75 1.75 0 1 0 3.5 0a1.75 1.75 0 1 0 -3.5 0M94.1 169.4a1.75 1.75 0 1 0 3.5 0a1.75 1.75 0 1 0 -3.5 0M152.8 244.7a1.75 1.75 0 1 0 3.5 0a1.75 1.75 0 1 0 -3.5 0M270.6 226.4a1.75 1.75 0 1 0 3.5 0a1.75 1.75 0 1 0 -3.5 0M97.8 234.8a1.75 1.75 0 1 0 3.5 0a1.75 1.75 0 1 0 -3.5 0M139.3 244.5a1.75 1.75 0 1 0 3.5 0a1.75 1.75 0 1 0 -3.5 0M173.9 212.6a1.75 1.75 0 1 0 3.5 0a1.75 1.75 0 1 0 -3.5 0M204.5 242.0a1.75 1.75 0 1 0 3.5 0a1.75 1.75 0 1 0 -3.5 0M84.8 175.5a1.75 1.75 0 1 0 3.5 0a1.75 1.75 0 1 0 -3.5 0M81.8 196.0a1.75 1.75 0 1 0 3.5 0a1.75 1.75 0 1 0 -3.5 0M280.0 223.0a1.75 1.75 0 1 0 3.5 0a1.75 1.75 0 1 0 -3.5 0M91.9 181.3a1.75 1.75 0 1 0 3.5 0a1.75 1.75 0 1 0 -3.5 0M102.8 185.6a1.75 1.75 0 1 0 3.5 0a1.75 1.75 0 1 0 -3.5 0M125.6 226.3a1.75 1.75 0 1 0 3.5 0a1.75 1.75 0 1 0 -3.5 0M117.0 180.7a1.75 1.75 0 1 0 3.5 0a1.75 1.75 0 1 0 -3.5 0M161.7 172.5a1.75 1.75 0 1 0 3.5 0a1.75 1.75 0 1 0 -3.5 0M100.9 202.1a1.75 1.75 0 1 0 3.5 0a1.75 1.75 0 1 0 -3.5 0M208.5 224.4a1.75 1.75 0 1 0 3.5 0a1.75 1.75 0 1 0 -3.5 0M100.3 175.4a1.75 1.75 0 1 0 3.5 0a1.75 1.75 0 1 0 -3.5 0M160.0 171.2a1.75 1.75 0 1 0 3.5 0a1.75 1.75 0 1 0 -3.5 0M81.9 224.7a1.75 1.75 0 1 0 3.5 0a1.75 1.75 0 1 0 -3.5 0M117.3 241.5a1.75 1.75 0 1 0 3.5 0a1.75 1.75 0 1 0 -3.5 0M76.8 178.7a1.75 1.75 0 1 0 3.5 0a1.75 1.75 0 1 0 -3.5 0M119.7 198.1a1.75 1.75 0 1 0 3.5 0a1.75 1.75 0 1 0 -3.5 0M112.9 232.9a1.75 1.75 0 1 0 3.5 0a1.75 1.75 0 1 0 -3.5 0M152.4 206.8a1.75 1.75 0 1 0 3.5 0a1.75 1.75 0 1 0 -3.5 0M119.6 227.6a1.75 1.75 0 1 0 3.5 0a1.75 1.75 0 1 0 -3.5 0M86.3 173.6a1.75 1.75 0 1 0 3.5 0a1.75 1.75 0 1 0 -3.5 0M288.8 225.1a1.75 1.75 0 1 0 3.5 0a1.75 1.75 0 1 0 -3.5 0M192.8 235.3a1.75 1.75 0 1 0 3.5 0a1.75 1.75 0 1 0 -3.5 0M198.5 243.5a1.75 1.75 0 1 0 3.5 0a1.75 1.75 0 1 0 -3.5 0M103.9 225.1a1.75 1.75 0 1 0 3.5 0a1.75 1.75 0 1 0 -3.5 0M119.6 166.4a1.75 1.75 0 1 0 3.5 0a1.75 1.75 0 1 0 -3.5 0M102.2 233.8a1.75 1.75 0 1 0 3.5 0a1.75 1.75 0 1 0 -3.5 0M92.9 216.0a1.75 1.75 0 1 0 3.5 0a1.75 1.75 0 1 0 -3.5 0M72.5 168.2a1.75 1.75 0 1 0 3.5 0a1.75 1.75 0 1 0 -3.5 0M130.4 244.7a1.75 1.75 0 1 0 3.5 0a1.75 1.75 0 1 0 -3.5 0M84.3 228.6a1.75 1.75 0 1 0 3.5 0a1.75 1.75 0 1 0 -3.5 0M108.0 183.3a1.75 1.75 0 1 0 3.5 0a1.75 1.75 0 1 0 -3.5 0M186.1 241.1a1.75 1.75 0 1 0 3.5 0a1.75 1.75 0 1 0 -3.5 0M119.2 172.7a1.75 1.75 0 1 0 3.5 0a1.75 1.75 0 1 0 -3.5 0M100.6 182.0a1.75 1.75 0 1 0 3.5 0a1.75 1.75 0 1 0 -3.5 0M151.6 238.5a1.75 1.75 0 1 0 3.5 0a1.75 1.75 0 1 0 -3.5 0M108.4 204.6a1.75 1.75 0 1 0 3.5 0a1.75 1.75 0 1 0 -3.5 0M124.1 207.8a1.75 1.75 0 1 0 3.5 0a1.75 1.75 0 1 0 -3.5 0M109.1 195.4a1.75 1.75 0 1 0 3.5 0a1.75 1.75 0 1 0 -3.5 0M132.4 227.7a1.75 1.75 0 1 0 3.5 0a1.75 1.75 0 1 0 -3.5 0M124.7 221.9a1.75 1.75 0 1 0 3.5 0a1.75 1.75 0 1 0 -3.5 0M130.8 232.3a1.75 1.75 0 1 0 3.5 0a1.75 1.75 0 1 0 -3.5 0M109.9 228.8a1.75 1.75 0 1 0 3.5 0a1.75 1.75 0 1 0 -3.5 0M160.5 236.5a1.75 1.75 0 1 0 3.5 0a1.75 1.75 0 1 0 -3.5 0M184.2 175.1a1.75 1.75 0 1 0 3.5 0a1.75 1.75 0 1 0 -3.5 0M100.0 176.8a1.75 1.75 0 1 0 3.5 0a1.75 1.75 0 1 0 -3.5 0M84.6 223.8a1.75 1.75 0 1 0 3.5 0a1.75 1.75 0 1 0 -3.5 0M88.9 195.5a1.75 1.75 0 1 0 3.5 0a1.75 1.75 0 1 0 -3.5 0M265.7 213.4a1.75 1.75 0 1 0 3.5 0a1.75 1.75 0 1 0 -3.5 0M224.0 229.6a1.75 1.75 0 1 0 3.5 0a1.75 1.75 0 1 0 -3.5 0M99.4 224.6a1.75 1.75 0 1 0 3.5 0a1.75 1.75 0 1 0 -3.5 0M247.6 168.9a1.75 1.75 0 1 0 3.5 0a1.75 1.75 0 1 0 -3.5 0M94.8 225.2a1.75 1.75 0 1 0 3.5 0a1.75 1.75 0 1 0 -3.5 0M129.0 205.8a1.75 1.75 0 1 0 3.5 0a1.75 1.75 0 1 0 -3.5 0M137.5 171.0a1.75 1.75 0 1 0 3.5 0a1.75 1.75 0 1 0 -3.5 0M197.7 228.4a1.75 1.75 0 1 0 3.5 0a1.75 1.75 0 1 0 -3.5 0M92.8 184.5a1.75 1.75 0 1 0 3.5 0a1.75 1.75 0 1 0 -3.5 0M118.6 240.1a1.75 1.75 0 1 0 3.5 0a1.75 1.75 0 1 0 -3.5 0M127.9 191.7a1.75 1.75 0 1 0 3.5 0a1.75 1.75 0 1 0 -3.5 0M91.5 184.7a1.75 1.75 0 1 0 3.5 0a1.75 1.75 0 1 0 -3.5 0M98.9 181.7a1.75 1.75 0 1 0 3.5 0a1.75 1.75 0 1 0 -3.5 0M122.1 167.9a1.75 1.75 0 1 0 3.5 0a1.75 1.75 0 1 0 -3.5 0M182.7 193.8a1.75 1.75 0 1 0 3.5 0a1.75 1.75 0 1 0 -3.5 0M154.3 167.7a1.75 1.75 0 1 0 3.5 0a1.75 1.75 0 1 0 -3.5 0M177.9 229.8a1.75 1.75 0 1 0 3.5 0a1.75 1.75 0 1 0 -3.5 0M159.1 210.7a1.75 1.75 0 1 0 3.5 0a1.75 1.75 0 1 0 -3.5 0M140.2 234.1a1.75 1.75 0 1 0 3.5 0a1.75 1.75 0 1 0 -3.5 0M174.5 241.7a1.75 1.75 0 1 0 3.5 0a1.75 1.75 0 1 0 -3.5 0M142.4 217.6a1.75 1.75 0 1 0 3.5 0a1.75 1.75 0 1 0 -3.5 0M160.5 193.0a1.75 1.75 0 1 0 3.5 0a1.75 1.75 0 1 0 -3.5 0M105.4 187.4a1.75 1.75 0 1 0 3.5 0a1.75 1.75 0 1 0 -3.5 0M107.1 244.4a1.75 1.75 0 1 0 3.5 0a1.75 1.75 0 1 0 -3.5 0M153.4 171.2a1.75 1.75 0 1 0 3.5 0a1.75 1.75 0 1 0 -3.5 0M103.3 231.9a1.75 1.75 0 1 0 3.5 0a1.75 1.75 0 1 0 -3.5 0M210.2 228.8a1.75 1.75 0 1 0 3.5 0a1.75 1.75 0 1 0 -3.5 0M130.3 182.2a1.75 1.75 0 1 0 3.5 0a1.75 1.75 0 1 0 -3.5 0M120.3 176.1a1.75 1.75 0 1 0 3.5 0a1.75 1.75 0 1 0 -3.5 0M211.8 191.4a1.75 1.75 0 1 0 3.5 0a1.75 1.75 0 1 0 -3.5 0M107.3 225.8a1.75 1.75 0 1 0 3.5 0a1.75 1.75 0 1 0 -3.5 0M132.0 215.6a1.75 1.75 0 1 0 3.5 0a1.75 1.75 0 1 0 -3.5 0M93.1 182.0a1.75 1.75 0 1 0 3.5 0a1.75 1.75 0 1 0 -3.5 0M236.3 224.0a1.75 1.75 0 1 0 3.5 0a1.75 1.75 0 1 0 -3.5 0M136.2 184.8a1.75 1.75 0 1 0 3.5 0a1.75 1.75 0 1 0 -3.5 0M167.9 187.1a1.75 1.75 0 1 0 3.5 0a1.75 1.75 0 1 0 -3.5 0M105.0 215.1a1.75 1.75 0 1 0 3.5 0a1.75 1.75 0 1 0 -3.5 0M155.4 175.8a1.75 1.75 0 1 0 3.5 0a1.75 1.75 0 1 0 -3.5 0M141.9 221.9a1.75 1.75 0 1 0 3.5 0a1.75 1.75 0 1 0 -3.5 0M142.8 190.1a1.75 1.75 0 1 0 3.5 0a1.75 1.75 0 1 0 -3.5 0M219.0 200.3a1.75 1.75 0 1 0 3.5 0a1.75 1.75 0 1 0 -3.5 0M118.2 225.9a1.75 1.75 0 1 0 3.5 0a1.75 1.75 0 1 0 -3.5 0M122.6 209.8a1.75 1.75 0 1 0 3.5 0a1.75 1.75 0 1 0 -3.5 0M138.3 203.4a1.75 1.75 0 1 0 3.5 0a1.75 1.75 0 1 0 -3.5 0M169.8 209.4a1.75 1.75 0 1 0 3.5 0a1.75 1.75 0 1 0 -3.5 0M114.4 240.3a1.75 1.75 0 1 0 3.5 0a1.75 1.75 0 1 0 -3.5 0M149.9 166.2a1.75 1.75 0 1 0 3.5 0a1.75 1.75 0 1 0 -3.5 0M102.6 168.8a1.75 1.75 0 1 0 3.5 0a1.75 1.75 0 1 0 -3.5 0M131.0 243.7a1.75 1.75 0 1 0 3.5 0a1.75 1.75 0 1 0 -3.5 0M163.6 171.0a1.75 1.75 0 1 0 3.5 0a1.75 1.75 0 1 0 -3.5 0M89.7 209.9a1.75 1.75 0 1 0 3.5 0a1.75 1.75 0 1 0 -3.5 0M142.3 239.5a1.75 1.75 0 1 0 3.5 0a1.75 1.75 0 1 0 -3.5 0M67.0 183.4a1.75 1.75 0 1 0 3.5 0a1.75 1.75 0 1 0 -3.5 0M231.6 218.1a1.75 1.75 0 1 0 3.5 0a1.75 1.75 0 1 0 -3.5 0M121.9 193.6a1.75 1.75 0 1 0 3.5 0a1.75 1.75 0 1 0 -3.5 0M117.8 182.7a1.75 1.75 0 1 0 3.5 0a1.75 1.75 0 1 0 -3.5 0M138.9 209.3a1.75 1.75 0 1 0 3.5 0a1.75 1.75 0 1 0 -3.5 0M130.0 243.2a1.75 1.75 0 1 0 3.5 0a1.75 1.75 0 1 0 -3.5 0M143.7 183.2a1.75 1.75 0 1 0 3.5 0a1.75 1.75 0 1 0 -3.5 0M88.6 195.4a1.75 1.75 0 1 0 3.5 0a1.75 1.75 0 1 0 -3.5 0M132.1 174.5a1.75 1.75 0 1 0 3.5 0a1.75 1.75 0 1 0 -3.5 0M137.4 230.3a1.75 1.75 0 1 0 3.5 0a1.75 1.75 0 1 0 -3.5 0M200.9 186.8a1.75 1.75 0 1 0 3.5 0a1.75 1.75 0 1 0 -3.5 0M86.1 178.2a1.75 1.75 0 1 0 3.5 0a1.75 1.75 0 1 0 -3.5 0M118.0 224.1a1.75 1.75 0 1 0 3.5 0a1.75 1.75 0 1 0 -3.5 0M136.4 219.9a1.75 1.75 0 1 0 3.5 0a1.75 1.75 0 1 0 -3.5 0M133.8 225.7a1.75 1.75 0 1 0 3.5 0a1.75 1.75 0 1 0 -3.5 0M87.0 244.7a1.75 1.75 0 1 0 3.5 0a1.75 1.75 0 1 0 -3.5 0M135.4 233.0a1.75 1.75 0 1 0 3.5 0a1.75 1.75 0 1 0 -3.5 0M101.7 225.9a1.75 1.75 0 1 0 3.5 0a1.75 1.75 0 1 0 -3.5 0M108.6 240.4a1.75 1.75 0 1 0 3.5 0a1.75 1.75 0 1 0 -3.5 0M185.6 188.7a1.75 1.75 0 1 0 3.5 0a1.75 1.75 0 1 0 -3.5 0M96.5 218.5a1.75 1.75 0 1 0 3.5 0a1.75 1.75 0 1 0 -3.5 0M121.2 206.7a1.75 1.75 0 1 0 3.5 0a1.75 1.75 0 1 0 -3.5 0M156.9 229.3a1.75 1.75 0 1 0 3.5 0a1.75 1.75 0 1 0 -3.5 0M150.4 223.7a1.75 1.75 0 1 0 3.5 0a1.75 1.75 0 1 0 -3.5 0M132.4 189.8a1.75 1.75 0 1 0 3.5 0a1.75 1.75 0 1 0 -3.5 0M174.4 215.1a1.75 1.75 0 1 0 3.5 0a1.75 1.75 0 1 0 -3.5 0M110.4 204.2a1.75 1.75 0 1 0 3.5 0a1.75 1.75 0 1 0 -3.5 0M135.0 218.9a1.75 1.75 0 1 0 3.5 0a1.75 1.75 0 1 0 -3.5 0M168.0 207.7a1.75 1.75 0 1 0 3.5 0a1.75 1.75 0 1 0 -3.5 0M152.1 175.8a1.75 1.75 0 1 0 3.5 0a1.75 1.75 0 1 0 -3.5 0M150.8 230.5a1.75 1.75 0 1 0 3.5 0a1.75 1.75 0 1 0 -3.5 0M113.5 210.9a1.75 1.75 0 1 0 3.5 0a1.75 1.75 0 1 0 -3.5 0M125.5 196.0a1.75 1.75 0 1 0 3.5 0a1.75 1.75 0 1 0 -3.5 0M122.0 241.5a1.75 1.75 0 1 0 3.5 0a1.75 1.75 0 1 0 -3.5 0M159.5 169.2a1.75 1.75 0 1 0 3.5 0a1.75 1.75 0 1 0 -3.5 0M111.0 212.6a1.75 1.75 0 1 0 3.5 0a1.75 1.75 0 1 0 -3.5 0M116.4 232.0a1.75 1.75 0 1 0 3.5 0a1.75 1.75 0 1 0 -3.5 0M156.1 189.1a1.75 1.75 0 1 0 3.5 0a1.75 1.75 0 1 0 -3.5 0M129.5 183.8a1.75 1.75 0 1 0 3.5 0a1.75 1.75 0 1 0 -3.5 0M118.4 201.2a1.75 1.75 0 1 0 3.5 0a1.75 1.75 0 1 0 -3.5 0M180.3 173.9a1.75 1.75 0 1 0 3.5 0a1.75 1.75 0 1 0 -3.5 0M120.7 241.4a1.75 1.75 0 1 0 3.5 0a1.75 1.75 0 1 0 -3.5 0M169.4 210.2a1.75 1.75 0 1 0 3.5 0a1.75 1.75 0 1 0 -3.5 0M159.5 190.8a1.75 1.75 0 1 0 3.5 0a1.75 1.75 0 1 0 -3.5 0M116.3 173.8a1.75 1.75 0 1 0 3.5 0a1.75 1.75 0 1 0 -3.5 0M152.4 200.2a1.75 1.75 0 1 0 3.5 0a1.75 1.75 0 1 0 -3.5 0M67.0 203.7a1.75 1.75 0 1 0 3.5 0a1.75 1.75 0 1 0 -3.5 0M116.5 221.6a1.75 1.75 0 1 0 3.5 0a1.75 1.75 0 1 0 -3.5 0M194.7 206.4a1.75 1.75 0 1 0 3.5 0a1.75 1.75 0 1 0 -3.5 0M129.4 207.9a1.75 1.75 0 1 0 3.5 0a1.75 1.75 0 1 0 -3.5 0M127.4 175.0a1.75 1.75 0 1 0 3.5 0a1.75 1.75 0 1 0 -3.5 0M146.1 182.7a1.75 1.75 0 1 0 3.5 0a1.75 1.75 0 1 0 -3.5 0M142.7 191.3a1.75 1.75 0 1 0 3.5 0a1.75 1.75 0 1 0 -3.5 0M137.0 173.1a1.75 1.75 0 1 0 3.5 0a1.75 1.75 0 1 0 -3.5 0M110.4 242.5a1.75 1.75 0 1 0 3.5 0a1.75 1.75 0 1 0 -3.5 0M97.7 188.3a1.75 1.75 0 1 0 3.5 0a1.75 1.75 0 1 0 -3.5 0M95.9 215.6a1.75 1.75 0 1 0 3.5 0a1.75 1.75 0 1 0 -3.5 0M105.0 190.0a1.75 1.75 0 1 0 3.5 0a1.75 1.75 0 1 0 -3.5 0M113.4 228.5a1.75 1.75 0 1 0 3.5 0a1.75 1.75 0 1 0 -3.5 0M295.8 215.3a1.75 1.75 0 1 0 3.5 0a1.75 1.75 0 1 0 -3.5 0M122.1 183.0a1.75 1.75 0 1 0 3.5 0a1.75 1.75 0 1 0 -3.5 0M122.7 243.8a1.75 1.75 0 1 0 3.5 0a1.75 1.75 0 1 0 -3.5 0M112.9 228.8a1.75 1.75 0 1 0 3.5 0a1.75 1.75 0 1 0 -3.5 0M123.6 213.5a1.75 1.75 0 1 0 3.5 0a1.75 1.75 0 1 0 -3.5 0M216.0 180.3a1.75 1.75 0 1 0 3.5 0a1.75 1.75 0 1 0 -3.5 0M195.4 230.3a1.75 1.75 0 1 0 3.5 0a1.75 1.75 0 1 0 -3.5 0M120.2 183.1a1.75 1.75 0 1 0 3.5 0a1.75 1.75 0 1 0 -3.5 0M95.6 232.1a1.75 1.75 0 1 0 3.5 0a1.75 1.75 0 1 0 -3.5 0M191.7 228.0a1.75 1.75 0 1 0 3.5 0a1.75 1.75 0 1 0 -3.5 0M136.9 208.0a1.75 1.75 0 1 0 3.5 0a1.75 1.75 0 1 0 -3.5 0M152.1 199.1a1.75 1.75 0 1 0 3.5 0a1.75 1.75 0 1 0 -3.5 0M90.6 177.5a1.75 1.75 0 1 0 3.5 0a1.75 1.75 0 1 0 -3.5 0M194.0 177.6a1.75 1.75 0 1 0 3.5 0a1.75 1.75 0 1 0 -3.5 0M121.3 231.7a1.75 1.75 0 1 0 3.5 0a1.75 1.75 0 1 0 -3.5 0M128.8 190.5a1.75 1.75 0 1 0 3.5 0a1.75 1.75 0 1 0 -3.5 0M96.1 200.8a1.75 1.75 0 1 0 3.5 0a1.75 1.75 0 1 0 -3.5 0M119.7 221.8a1.75 1.75 0 1 0 3.5 0a1.75 1.75 0 1 0 -3.5 0M169.0 187.7a1.75 1.75 0 1 0 3.5 0a1.75 1.75 0 1 0 -3.5 0M172.6 175.8a1.75 1.75 0 1 0 3.5 0a1.75 1.75 0 1 0 -3.5 0M123.6 214.3a1.75 1.75 0 1 0 3.5 0a1.75 1.75 0 1 0 -3.5 0M160.7 173.9a1.75 1.75 0 1 0 3.5 0a1.75 1.75 0 1 0 -3.5 0M116.7 239.4a1.75 1.75 0 1 0 3.5 0a1.75 1.75 0 1 0 -3.5 0M122.9 237.1a1.75 1.75 0 1 0 3.5 0a1.75 1.75 0 1 0 -3.5 0M127.7 188.8a1.75 1.75 0 1 0 3.5 0a1.75 1.75 0 1 0 -3.5 0M109.1 227.8a1.75 1.75 0 1 0 3.5 0a1.75 1.75 0 1 0 -3.5 0M122.4 205.2a1.75 1.75 0 1 0 3.5 0a1.75 1.75 0 1 0 -3.5 0M143.4 212.8a1.75 1.75 0 1 0 3.5 0a1.75 1.75 0 1 0 -3.5 0M157.3 238.3a1.75 1.75 0 1 0 3.5 0a1.75 1.75 0 1 0 -3.5 0M82.0 189.7a1.75 1.75 0 1 0 3.5 0a1.75 1.75 0 1 0 -3.5 0M151.3 190.9a1.75 1.75 0 1 0 3.5 0a1.75 1.75 0 1 0 -3.5 0M169.7 238.4a1.75 1.75 0 1 0 3.5 0a1.75 1.75 0 1 0 -3.5 0M109.3 231.0a1.75 1.75 0 1 0 3.5 0a1.75 1.75 0 1 0 -3.5 0M93.1 185.3a1.75 1.75 0 1 0 3.5 0a1.75 1.75 0 1 0 -3.5 0M146.7 174.3a1.75 1.75 0 1 0 3.5 0a1.75 1.75 0 1 0 -3.5 0M104.4 178.5a1.75 1.75 0 1 0 3.5 0a1.75 1.75 0 1 0 -3.5 0M148.7 212.4a1.75 1.75 0 1 0 3.5 0a1.75 1.75 0 1 0 -3.5 0M109.8 223.2a1.75 1.75 0 1 0 3.5 0a1.75 1.75 0 1 0 -3.5 0M125.0 217.1a1.75 1.75 0 1 0 3.5 0a1.75 1.75 0 1 0 -3.5 0M101.9 236.5a1.75 1.75 0 1 0 3.5 0a1.75 1.75 0 1 0 -3.5 0M109.9 212.9a1.75 1.75 0 1 0 3.5 0a1.75 1.75 0 1 0 -3.5 0M130.9 233.0a1.75 1.75 0 1 0 3.5 0a1.75 1.75 0 1 0 -3.5 0M134.3 237.4a1.75 1.75 0 1 0 3.5 0a1.75 1.75 0 1 0 -3.5 0M104.2 222.2a1.75 1.75 0 1 0 3.5 0a1.75 1.75 0 1 0 -3.5 0M233.8 242.6a1.75 1.75 0 1 0 3.5 0a1.75 1.75 0 1 0 -3.5 0M95.4 215.0a1.75 1.75 0 1 0 3.5 0a1.75 1.75 0 1 0 -3.5 0M98.1 195.2a1.75 1.75 0 1 0 3.5 0a1.75 1.75 0 1 0 -3.5 0M107.7 199.3a1.75 1.75 0 1 0 3.5 0a1.75 1.75 0 1 0 -3.5 0M82.0 167.9a1.75 1.75 0 1 0 3.5 0a1.75 1.75 0 1 0 -3.5 0M116.9 176.9a1.75 1.75 0 1 0 3.5 0a1.75 1.75 0 1 0 -3.5 0M153.3 200.9a1.75 1.75 0 1 0 3.5 0a1.75 1.75 0 1 0 -3.5 0M151.7 175.7a1.75 1.75 0 1 0 3.5 0a1.75 1.75 0 1 0 -3.5 0M97.2 217.1a1.75 1.75 0 1 0 3.5 0a1.75 1.75 0 1 0 -3.5 0M86.2 185.5a1.75 1.75 0 1 0 3.5 0a1.75 1.75 0 1 0 -3.5 0M117.1 229.3a1.75 1.75 0 1 0 3.5 0a1.75 1.75 0 1 0 -3.5 0M163.0 210.3a1.75 1.75 0 1 0 3.5 0a1.75 1.75 0 1 0 -3.5 0M122.7 167.4a1.75 1.75 0 1 0 3.5 0a1.75 1.75 0 1 0 -3.5 0M206.6 204.0a1.75 1.75 0 1 0 3.5 0a1.75 1.75 0 1 0 -3.5 0M143.1 212.0a1.75 1.75 0 1 0 3.5 0a1.75 1.75 0 1 0 -3.5 0M124.7 186.6a1.75 1.75 0 1 0 3.5 0a1.75 1.75 0 1 0 -3.5 0M162.8 227.3a1.75 1.75 0 1 0 3.5 0a1.75 1.75 0 1 0 -3.5 0M166.6 182.3a1.75 1.75 0 1 0 3.5 0a1.75 1.75 0 1 0 -3.5 0M109.4 244.4a1.75 1.75 0 1 0 3.5 0a1.75 1.75 0 1 0 -3.5 0M105.9 232.5a1.75 1.75 0 1 0 3.5 0a1.75 1.75 0 1 0 -3.5 0M111.7 236.4a1.75 1.75 0 1 0 3.5 0a1.75 1.75 0 1 0 -3.5 0M115.8 231.2a1.75 1.75 0 1 0 3.5 0a1.75 1.75 0 1 0 -3.5 0M102.2 170.9a1.75 1.75 0 1 0 3.5 0a1.75 1.75 0 1 0 -3.5 0M118.0 244.2a1.75 1.75 0 1 0 3.5 0a1.75 1.75 0 1 0 -3.5 0M152.4 228.3a1.75 1.75 0 1 0 3.5 0a1.75 1.75 0 1 0 -3.5 0M90.2 206.2a1.75 1.75 0 1 0 3.5 0a1.75 1.75 0 1 0 -3.5 0M85.9 194.5a1.75 1.75 0 1 0 3.5 0a1.75 1.75 0 1 0 -3.5 0M105.0 187.9a1.75 1.75 0 1 0 3.5 0a1.75 1.75 0 1 0 -3.5 0M101.4 222.0a1.75 1.75 0 1 0 3.5 0a1.75 1.75 0 1 0 -3.5 0M230.9 233.7a1.75 1.75 0 1 0 3.5 0a1.75 1.75 0 1 0 -3.5 0M71.0 180.2a1.75 1.75 0 1 0 3.5 0a1.75 1.75 0 1 0 -3.5 0M101.8 239.7a1.75 1.75 0 1 0 3.5 0a1.75 1.75 0 1 0 -3.5 0M98.8 242.6a1.75 1.75 0 1 0 3.5 0a1.75 1.75 0 1 0 -3.5 0M112.7 233.0a1.75 1.75 0 1 0 3.5 0a1.75 1.75 0 1 0 -3.5 0M67.9 213.2a1.75 1.75 0 1 0 3.5 0a1.75 1.75 0 1 0 -3.5 0M115.5 171.3a1.75 1.75 0 1 0 3.5 0a1.75 1.75 0 1 0 -3.5 0M98.9 192.1a1.75 1.75 0 1 0 3.5 0a1.75 1.75 0 1 0 -3.5 0M106.8 207.1a1.75 1.75 0 1 0 3.5 0a1.75 1.75 0 1 0 -3.5 0M164.8 210.7a1.75 1.75 0 1 0 3.5 0a1.75 1.75 0 1 0 -3.5 0M99.7 195.4a1.75 1.75 0 1 0 3.5 0a1.75 1.75 0 1 0 -3.5 0M132.6 201.5a1.75 1.75 0 1 0 3.5 0a1.75 1.75 0 1 0 -3.5 0M122.2 225.5a1.75 1.75 0 1 0 3.5 0a1.75 1.75 0 1 0 -3.5 0M114.4 241.2a1.75 1.75 0 1 0 3.5 0a1.75 1.75 0 1 0 -3.5 0M175.1 235.0a1.75 1.75 0 1 0 3.5 0a1.75 1.75 0 1 0 -3.5 0M101.1 187.0a1.75 1.75 0 1 0 3.5 0a1.75 1.75 0 1 0 -3.5 0M205.4 200.8a1.75 1.75 0 1 0 3.5 0a1.75 1.75 0 1 0 -3.5 0M195.4 185.6a1.75 1.75 0 1 0 3.5 0a1.75 1.75 0 1 0 -3.5 0M140.1 243.4a1.75 1.75 0 1 0 3.5 0a1.75 1.75 0 1 0 -3.5 0M94.2 175.4a1.75 1.75 0 1 0 3.5 0a1.75 1.75 0 1 0 -3.5 0M147.7 222.1a1.75 1.75 0 1 0 3.5 0a1.75 1.75 0 1 0 -3.5 0M135.1 172.9a1.75 1.75 0 1 0 3.5 0a1.75 1.75 0 1 0 -3.5 0M161.8 204.4a1.75 1.75 0 1 0 3.5 0a1.75 1.75 0 1 0 -3.5 0M107.3 208.5a1.75 1.75 0 1 0 3.5 0a1.75 1.75 0 1 0 -3.5 0M229.6 183.6a1.75 1.75 0 1 0 3.5 0a1.75 1.75 0 1 0 -3.5 0M191.7 201.6a1.75 1.75 0 1 0 3.5 0a1.75 1.75 0 1 0 -3.5 0M84.0 197.2a1.75 1.75 0 1 0 3.5 0a1.75 1.75 0 1 0 -3.5 0M116.5 237.6a1.75 1.75 0 1 0 3.5 0a1.75 1.75 0 1 0 -3.5 0M75.6 203.5a1.75 1.75 0 1 0 3.5 0a1.75 1.75 0 1 0 -3.5 0M169.9 224.0a1.75 1.75 0 1 0 3.5 0a1.75 1.75 0 1 0 -3.5 0M196.9 242.1a1.75 1.75 0 1 0 3.5 0a1.75 1.75 0 1 0 -3.5 0M279.8 239.0a1.75 1.75 0 1 0 3.5 0a1.75 1.75 0 1 0 -3.5 0M135.3 214.2a1.75 1.75 0 1 0 3.5 0a1.75 1.75 0 1 0 -3.5 0M147.7 230.9a1.75 1.75 0 1 0 3.5 0a1.75 1.75 0 1 0 -3.5 0M142.7 188.7a1.75 1.75 0 1 0 3.5 0a1.75 1.75 0 1 0 -3.5 0M133.1 239.6a1.75 1.75 0 1 0 3.5 0a1.75 1.75 0 1 0 -3.5 0M211.7 244.5a1.75 1.75 0 1 0 3.5 0a1.75 1.75 0 1 0 -3.5 0M133.2 165.6a1.75 1.75 0 1 0 3.5 0a1.75 1.75 0 1 0 -3.5 0M117.5 227.3a1.75 1.75 0 1 0 3.5 0a1.75 1.75 0 1 0 -3.5 0M132.6 211.7a1.75 1.75 0 1 0 3.5 0a1.75 1.75 0 1 0 -3.5 0M72.2 234.4a1.75 1.75 0 1 0 3.5 0a1.75 1.75 0 1 0 -3.5 0M141.4 234.5a1.75 1.75 0 1 0 3.5 0a1.75 1.75 0 1 0 -3.5 0M148.6 220.5a1.75 1.75 0 1 0 3.5 0a1.75 1.75 0 1 0 -3.5 0M115.9 186.3a1.75 1.75 0 1 0 3.5 0a1.75 1.75 0 1 0 -3.5 0M177.8 243.7a1.75 1.75 0 1 0 3.5 0a1.75 1.75 0 1 0 -3.5 0M157.8 181.7a1.75 1.75 0 1 0 3.5 0a1.75 1.75 0 1 0 -3.5 0M110.4 166.3a1.75 1.75 0 1 0 3.5 0a1.75 1.75 0 1 0 -3.5 0M88.1 207.5a1.75 1.75 0 1 0 3.5 0a1.75 1.75 0 1 0 -3.5 0M89.2 223.8a1.75 1.75 0 1 0 3.5 0a1.75 1.75 0 1 0 -3.5 0M108.0 232.8a1.75 1.75 0 1 0 3.5 0a1.75 1.75 0 1 0 -3.5 0M107.5 236.1a1.75 1.75 0 1 0 3.5 0a1.75 1.75 0 1 0 -3.5 0M110.0 226.5a1.75 1.75 0 1 0 3.5 0a1.75 1.75 0 1 0 -3.5 0M207.1 180.3a1.75 1.75 0 1 0 3.5 0a1.75 1.75 0 1 0 -3.5 0M98.5 244.8a1.75 1.75 0 1 0 3.5 0a1.75 1.75 0 1 0 -3.5 0M191.6 186.7a1.75 1.75 0 1 0 3.5 0a1.75 1.75 0 1 0 -3.5 0M143.6 197.8a1.75 1.75 0 1 0 3.5 0a1.75 1.75 0 1 0 -3.5 0M171.7 244.4a1.75 1.75 0 1 0 3.5 0a1.75 1.75 0 1 0 -3.5 0M116.2 242.3a1.75 1.75 0 1 0 3.5 0a1.75 1.75 0 1 0 -3.5 0M73.4 191.5a1.75 1.75 0 1 0 3.5 0a1.75 1.75 0 1 0 -3.5 0M162.6 197.3a1.75 1.75 0 1 0 3.5 0a1.75 1.75 0 1 0 -3.5 0M103.9 227.2a1.75 1.75 0 1 0 3.5 0a1.75 1.75 0 1 0 -3.5 0M104.5 179.4a1.75 1.75 0 1 0 3.5 0a1.75 1.75 0 1 0 -3.5 0M158.1 234.4a1.75 1.75 0 1 0 3.5 0a1.75 1.75 0 1 0 -3.5 0M147.9 218.5a1.75 1.75 0 1 0 3.5 0a1.75 1.75 0 1 0 -3.5 0M99.7 240.1a1.75 1.75 0 1 0 3.5 0a1.75 1.75 0 1 0 -3.5 0M103.5 199.8a1.75 1.75 0 1 0 3.5 0a1.75 1.75 0 1 0 -3.5 0M217.1 241.5a1.75 1.75 0 1 0 3.5 0a1.75 1.75 0 1 0 -3.5 0M102.8 236.3a1.75 1.75 0 1 0 3.5 0a1.75 1.75 0 1 0 -3.5 0M138.3 188.6a1.75 1.75 0 1 0 3.5 0a1.75 1.75 0 1 0 -3.5 0M87.4 212.5a1.75 1.75 0 1 0 3.5 0a1.75 1.75 0 1 0 -3.5 0M170.2 198.3a1.75 1.75 0 1 0 3.5 0a1.75 1.75 0 1 0 -3.5 0M85.8 191.6a1.75 1.75 0 1 0 3.5 0a1.75 1.75 0 1 0 -3.5 0M124.7 203.3a1.75 1.75 0 1 0 3.5 0a1.75 1.75 0 1 0 -3.5 0M75.3 235.2a1.75 1.75 0 1 0 3.5 0a1.75 1.75 0 1 0 -3.5 0M136.6 195.0a1.75 1.75 0 1 0 3.5 0a1.75 1.75 0 1 0 -3.5 0M172.2 240.0a1.75 1.75 0 1 0 3.5 0a1.75 1.75 0 1 0 -3.5 0M81.7 230.3a1.75 1.75 0 1 0 3.5 0a1.75 1.75 0 1 0 -3.5 0M103.7 216.8a1.75 1.75 0 1 0 3.5 0a1.75 1.75 0 1 0 -3.5 0M154.4 240.1a1.75 1.75 0 1 0 3.5 0a1.75 1.75 0 1 0 -3.5 0M136.5 240.5a1.75 1.75 0 1 0 3.5 0a1.75 1.75 0 1 0 -3.5 0M110.9 199.2a1.75 1.75 0 1 0 3.5 0a1.75 1.75 0 1 0 -3.5 0M128.9 190.9a1.75 1.75 0 1 0 3.5 0a1.75 1.75 0 1 0 -3.5 0M116.3 222.9a1.75 1.75 0 1 0 3.5 0a1.75 1.75 0 1 0 -3.5 0M183.2 221.5a1.75 1.75 0 1 0 3.5 0a1.75 1.75 0 1 0 -3.5 0M99.3 234.5a1.75 1.75 0 1 0 3.5 0a1.75 1.75 0 1 0 -3.5 0M156.5 210.7a1.75 1.75 0 1 0 3.5 0a1.75 1.75 0 1 0 -3.5 0M133.9 205.6a1.75 1.75 0 1 0 3.5 0a1.75 1.75 0 1 0 -3.5 0M166.8 172.1a1.75 1.75 0 1 0 3.5 0a1.75 1.75 0 1 0 -3.5 0M114.4 243.6a1.75 1.75 0 1 0 3.5 0a1.75 1.75 0 1 0 -3.5 0M149.5 174.6a1.75 1.75 0 1 0 3.5 0a1.75 1.75 0 1 0 -3.5 0M140.1 166.3a1.75 1.75 0 1 0 3.5 0a1.75 1.75 0 1 0 -3.5 0M117.5 224.8a1.75 1.75 0 1 0 3.5 0a1.75 1.75 0 1 0 -3.5 0M72.0 192.4a1.75 1.75 0 1 0 3.5 0a1.75 1.75 0 1 0 -3.5 0M229.1 182.9a1.75 1.75 0 1 0 3.5 0a1.75 1.75 0 1 0 -3.5 0M150.0 199.3a1.75 1.75 0 1 0 3.5 0a1.75 1.75 0 1 0 -3.5 0M105.5 229.0a1.75 1.75 0 1 0 3.5 0a1.75 1.75 0 1 0 -3.5 0M140.0 201.9a1.75 1.75 0 1 0 3.5 0a1.75 1.75 0 1 0 -3.5 0M98.9 177.8a1.75 1.75 0 1 0 3.5 0a1.75 1.75 0 1 0 -3.5 0M121.0 240.5a1.75 1.75 0 1 0 3.5 0a1.75 1.75 0 1 0 -3.5 0M195.9 214.2a1.75 1.75 0 1 0 3.5 0a1.75 1.75 0 1 0 -3.5 0M118.0 244.3a1.75 1.75 0 1 0 3.5 0a1.75 1.75 0 1 0 -3.5 0M107.3 181.0a1.75 1.75 0 1 0 3.5 0a1.75 1.75 0 1 0 -3.5 0M108.9 187.4a1.75 1.75 0 1 0 3.5 0a1.75 1.75 0 1 0 -3.5 0M90.9 243.4a1.75 1.75 0 1 0 3.5 0a1.75 1.75 0 1 0 -3.5 0M104.0 190.5a1.75 1.75 0 1 0 3.5 0a1.75 1.75 0 1 0 -3.5 0M97.9 195.6a1.75 1.75 0 1 0 3.5 0a1.75 1.75 0 1 0 -3.5 0M100.0 239.4a1.75 1.75 0 1 0 3.5 0a1.75 1.75 0 1 0 -3.5 0M89.2 210.4a1.75 1.75 0 1 0 3.5 0a1.75 1.75 0 1 0 -3.5 0M122.6 195.8a1.75 1.75 0 1 0 3.5 0a1.75 1.75 0 1 0 -3.5 0M99.1 225.6a1.75 1.75 0 1 0 3.5 0a1.75 1.75 0 1 0 -3.5 0M158.3 212.2a1.75 1.75 0 1 0 3.5 0a1.75 1.75 0 1 0 -3.5 0M196.3 167.8a1.75 1.75 0 1 0 3.5 0a1.75 1.75 0 1 0 -3.5 0M104.8 200.7a1.75 1.75 0 1 0 3.5 0a1.75 1.75 0 1 0 -3.5 0M130.0 212.4a1.75 1.75 0 1 0 3.5 0a1.75 1.75 0 1 0 -3.5 0M135.2 242.5a1.75 1.75 0 1 0 3.5 0a1.75 1.75 0 1 0 -3.5 0M83.6 239.7a1.75 1.75 0 1 0 3.5 0a1.75 1.75 0 1 0 -3.5 0M89.8 180.4a1.75 1.75 0 1 0 3.5 0a1.75 1.75 0 1 0 -3.5 0M191.2 190.8a1.75 1.75 0 1 0 3.5 0a1.75 1.75 0 1 0 -3.5 0M115.9 181.9a1.75 1.75 0 1 0 3.5 0a1.75 1.75 0 1 0 -3.5 0M169.8 205.8a1.75 1.75 0 1 0 3.5 0a1.75 1.75 0 1 0 -3.5 0M86.0 206.0a1.75 1.75 0 1 0 3.5 0a1.75 1.75 0 1 0 -3.5 0M134.4 210.0a1.75 1.75 0 1 0 3.5 0a1.75 1.75 0 1 0 -3.5 0M184.2 191.5a1.75 1.75 0 1 0 3.5 0a1.75 1.75 0 1 0 -3.5 0M182.8 226.0a1.75 1.75 0 1 0 3.5 0a1.75 1.75 0 1 0 -3.5 0M72.4 212.8a1.75 1.75 0 1 0 3.5 0a1.75 1.75 0 1 0 -3.5 0M127.0 215.1a1.75 1.75 0 1 0 3.5 0a1.75 1.75 0 1 0 -3.5 0M120.7 198.4a1.75 1.75 0 1 0 3.5 0a1.75 1.75 0 1 0 -3.5 0M164.4 234.0a1.75 1.75 0 1 0 3.5 0a1.75 1.75 0 1 0 -3.5 0M93.9 244.2a1.75 1.75 0 1 0 3.5 0a1.75 1.75 0 1 0 -3.5 0M106.8 241.4a1.75 1.75 0 1 0 3.5 0a1.75 1.75 0 1 0 -3.5 0M176.4 236.3a1.75 1.75 0 1 0 3.5 0a1.75 1.75 0 1 0 -3.5 0M111.9 179.8a1.75 1.75 0 1 0 3.5 0a1.75 1.75 0 1 0 -3.5 0M121.1 193.3a1.75 1.75 0 1 0 3.5 0a1.75 1.75 0 1 0 -3.5 0M249.9 190.1a1.75 1.75 0 1 0 3.5 0a1.75 1.75 0 1 0 -3.5 0M120.0 217.1a1.75 1.75 0 1 0 3.5 0a1.75 1.75 0 1 0 -3.5 0M90.3 240.7a1.75 1.75 0 1 0 3.5 0a1.75 1.75 0 1 0 -3.5 0M121.2 215.4a1.75 1.75 0 1 0 3.5 0a1.75 1.75 0 1 0 -3.5 0M99.0 179.2a1.75 1.75 0 1 0 3.5 0a1.75 1.75 0 1 0 -3.5 0M89.9 211.8a1.75 1.75 0 1 0 3.5 0a1.75 1.75 0 1 0 -3.5 0M131.1 201.1a1.75 1.75 0 1 0 3.5 0a1.75 1.75 0 1 0 -3.5 0M229.8 222.7a1.75 1.75 0 1 0 3.5 0a1.75 1.75 0 1 0 -3.5 0M128.4 238.1a1.75 1.75 0 1 0 3.5 0a1.75 1.75 0 1 0 -3.5 0M140.3 201.5a1.75 1.75 0 1 0 3.5 0a1.75 1.75 0 1 0 -3.5 0M116.3 213.8a1.75 1.75 0 1 0 3.5 0a1.75 1.75 0 1 0 -3.5 0M129.0 224.9a1.75 1.75 0 1 0 3.5 0a1.75 1.75 0 1 0 -3.5 0M158.7 231.1a1.75 1.75 0 1 0 3.5 0a1.75 1.75 0 1 0 -3.5 0M135.9 195.2a1.75 1.75 0 1 0 3.5 0a1.75 1.75 0 1 0 -3.5 0M162.4 226.9a1.75 1.75 0 1 0 3.5 0a1.75 1.75 0 1 0 -3.5 0M133.5 206.0a1.75 1.75 0 1 0 3.5 0a1.75 1.75 0 1 0 -3.5 0M108.9 231.0a1.75 1.75 0 1 0 3.5 0a1.75 1.75 0 1 0 -3.5 0M126.8 189.8a1.75 1.75 0 1 0 3.5 0a1.75 1.75 0 1 0 -3.5 0M116.5 222.6a1.75 1.75 0 1 0 3.5 0a1.75 1.75 0 1 0 -3.5 0M96.0 214.3a1.75 1.75 0 1 0 3.5 0a1.75 1.75 0 1 0 -3.5 0M129.3 172.7a1.75 1.75 0 1 0 3.5 0a1.75 1.75 0 1 0 -3.5 0M180.8 193.1a1.75 1.75 0 1 0 3.5 0a1.75 1.75 0 1 0 -3.5 0M81.5 191.4a1.75 1.75 0 1 0 3.5 0a1.75 1.75 0 1 0 -3.5 0M134.6 225.3a1.75 1.75 0 1 0 3.5 0a1.75 1.75 0 1 0 -3.5 0M150.6 181.4a1.75 1.75 0 1 0 3.5 0a1.75 1.75 0 1 0 -3.5 0M116.5 221.8a1.75 1.75 0 1 0 3.5 0a1.75 1.75 0 1 0 -3.5 0M106.2 166.5a1.75 1.75 0 1 0 3.5 0a1.75 1.75 0 1 0 -3.5 0M115.5 175.9a1.75 1.75 0 1 0 3.5 0a1.75 1.75 0 1 0 -3.5 0M128.7 198.6a1.75 1.75 0 1 0 3.5 0a1.75 1.75 0 1 0 -3.5 0M145.4 182.3a1.75 1.75 0 1 0 3.5 0a1.75 1.75 0 1 0 -3.5 0M126.4 208.8a1.75 1.75 0 1 0 3.5 0a1.75 1.75 0 1 0 -3.5 0" fill="#ff0000" clip-path="url(#c00)"/>
<polygon points="67.5,236.58 299,236.58 299,189.08 67.5,189.08" fill="#ff0000" fill-opacity="0.3" stroke="#ff0000" stroke-opacity="0.3" stroke-width="1" clip-path="url(#c00)"/>
<path d="M67.5 214.01L299 214.01" stroke="#ff0000" stroke-width="4.77" fill="none" stroke-linecap="square" clip-path="url(#c00)"/>
<path d="M67.5 214.6L299 216.76" stroke="#000000" stroke-width="4.77" fill="none" stroke-linecap="butt" stroke-dasharray="17.65 7.63" clip-path="url(#c00)"/>
<path d="M446.2 143.2a1.75 1.75 0 1 0 3.5 0a1.75 1.75 0 1 0 -3.5 0M514.4 178.5a1.75 1.75 0 1 0 3.5 0a1.75 1.75 0 1 0 -3.5 0M487.0 159.9a1.75 1.75 0 1 0 3.5 0a1.75 1.75 0 1 0 -3.5 0M417.2 211.8a1.75 1.75 0 1 0 3.5 0a1.75 1.75 0 1 0 -3.5 0M419.4 151.1a1.75 1.75 0 1 0 3.5 0a1.75 1.75 0 1 0 -3.5 0M505.1 160.7a1.75 1.75 0 1 0 3.5 0a1.75 1.75 0 1 0 -3.5 0M399.1 183.2a1.75 1.75 0 1 0 3.5 0a1.75 1.75 0 1 0 -3.5 0M501.3 134.8a1.75 1.75 0 1 0 3.5 0a1.75 1.75 0 1 0 -3.5 0M474.3 149.0a1.75 1.75 0 1 0 3.5 0a1.75 1.75 0 1 0 -3.5 0M435.0 240.2a1.75 1.75 0 1 0 3.5 0a1.75 1.75 0 1 0 -3.5 0M418.5 169.9a1.75 1.75 0 1 0 3.5 0a1.75 1.75 0 1 0 -3.5 0M422.6 208.5a1.75 1.75 0 1 0 3.5 0a1.75 1.75 0 1 0 -3.5 0M429.1 142.5a1.75 1.75 0 1 0 3.5 0a1.75 1.75 0 1 0 -3.5 0M431.2 105.4a1.75 1.75 0 1 0 3.5 0a1.75 1.75 0 1 0 -3.5 0M447.2 182.4a1.75 1.75 0 1 0 3.5 0a1.75 1.75 0 1 0 -3.5 0M451.7 166.6a1.75 1.75 0 1 0 3.5 0a1.75 1.75 0 1 0 -3.5 0M611.4 163.5a1.75 1.75 0 1 0 3.5 0a1.75 1.75 0 1 0 -3.5 0M484.4 157.1a1.75 1.75 0 1 0 3.5 0a1.75 1.75 0 1 0 -3.5 0M451.0 151.9a1.75 1.75 0 1 0 3.5 0a1.75 1.75 0 1 0 -3.5 0M591.4 125.0a1.75 1.75 0 1 0 3.5 0a1.75 1.75 0 1 0 -3.5 0M420.9 196.5a1.75 1.75 0 1 0 3.5 0a1.75 1.75 0 1 0 -3.5 0M430.0 129.3a1.75 1.75 0 1 0 3.5 0a1.75 1.75 0 1 0 -3.5 0M455.6 192.5a1.75 1.75 0 1 0 3.5 0a1.75 1.75 0 1 0 -3.5 0M403.0 164.9a1.75 1.75 0 1 0 3.5 0a1.75 1.75 0 1 0 -3.5 0M398.5 142.3a1.75 1.75 0 1 0 3.5 0a1.75 1.75 0 1 0 -3.5 0M449.2 150.2a1.75 1.75 0 1 0 3.5 0a1.75 1.75 0 1 0 -3.5 0M441.5 193.7a1.75 1.75 0 1 0 3.5 0a1.75 1.75 0 1 0 -3.5 0M517.2 182.0a1.75 1.75 0 1 0 3.5 0a1.75 1.75 0 1 0 -3.5 0M457.3 180.2a1.75 1.75 0 1 0 3.5 0a1.75 1.75 0 1 0 -3.5 0M447.0 170.2a1.75 1.75 0 1 0 3.5 0a1.75 1.75 0 1 0 -3.5 0M451.3 138.8a1.75 1.75 0 1 0 3.5 0a1.75 1.75 0 1 0 -3.5 0M425.3 204.1a1.75 1.75 0 1 0 3.5 0a1.75 1.75 0 1 0 -3.5 0M394.2 160.6a1.75 1.75 0 1 0 3.5 0a1.75 1.75 0 1 0 -3.5 0M418.2 155.2a1.75 1.75 0 1 0 3.5 0a1.75 1.75 0 1 0 -3.5 0M461.2 153.4a1.75 1.75 0 1 0 3.5 0a1.75 1.75 0 1 0 -3.5 0M419.9 158.8a1.75 1.75 0 1 0 3.5 0a1.75 1.75 0 1 0 -3.5 0M431.0 130.6a1.75 1.75 0 1 0 3.5 0a1.75 1.75 0 1 0 -3.5 0M390.0 160.4a1.75 1.75 0 1 0 3.5 0a1.75 1.75 0 1 0 -3.5 0M490.0 143.5a1.75 1.75 0 1 0 3.5 0a1.75 1.75 0 1 0 -3.5 0M422.5 156.1a1.75 1.75 0 1 0 3.5 0a1.75 1.75 0 1 0 -3.5 0M420.9 124.2a1.75 1.75 0 1 0 3.5 0a1.75 1.75 0 1 0 -3.5 0M511.1 213.6a1.75 1.75 0 1 0 3.5 0a1.75 1.75 0 1 0 -3.5 0M448.8 135.5a1.75 1.75 0 1 0 3.5 0a1.75 1.75 0 1 0 -3.5 0M488.6 172.7a1.75 1.75 0 1 0 3.5 0a1.75 1.75 0 1 0 -3.5 0M464.0 175.0a1.75 1.75 0 1 0 3.5 0a1.75 1.75 0 1 0 -3.5 0M484.6 191.4a1.75 1.75 0 1 0 3.5 0a1.75 1.75 0 1 0 -3.5 0M405.0 220.5a1.75 1.75 0 1 0 3.5 0a1.75 1.75 0 1 0 -3.5 0M450.5 178.6a1.75 1.75 0 1 0 3.5 0a1.75 1.75 0 1 0 -3.5 0M455.6 186.1a1.75 1.75 0 1 0 3.5 0a1.75 1.75 0 1 0 -3.5 0M508.5 151.6a1.75 1.75 0 1 0 3.5 0a1.75 1.75 0 1 0 -3.5 0M443.1 207.5a1.75 1.75 0 1 0 3.5 0a1.75 1.75 0 1 0 -3.5 0M458.0 130.9a1.75 1.75 0 1 0 3.5 0a1.75 1.75 0 1 0 -3.5 0M405.8 164.8a1.75 1.75 0 1 0 3.5 0a1.75 1.75 0 1 0 -3.5 0M440.9 175.8a1.75 1.75 0 1 0 3.5 0a1.75 1.75 0 1 0 -3.5 0M433.9 188.3a1.75 1.75 0 1 0 3.5 0a1.75 1.75 0 1 0 -3.5 0M417.8 191.5a1.75 1.75 0 1 0 3.5 0a1.75 1.75 0 1 0 -3.5 0M494.4 194.8a1.75 1.75 0 1 0 3.5 0a1.75 1.75 0 1 0 -3.5 0M438.9 183.6a1.75 1.75 0 1 0 3.5 0a1.75 1.75 0 1 0 -3.5 0M588.5 158.5a1.75 1.75 0 1 0 3.5 0a1.75 1.75 0 1 0 -3.5 0M446.8 173.5a1.75 1.75 0 1 0 3.5 0a1.75 1.75 0 1 0 -3.5 0M455.0 205.1a1.75 1.75 0 1 0 3.5 0a1.75 1.75 0 1 0 -3.5 0M466.0 174.4a1.75 1.75 0 1 0 3.5 0a1.75 1.75 0 1 0 -3.5 0M461.1 191.1a1.75 1.75 0 1 0 3.5 0a1.75 1.75 0 1 0 -3.5 0M429.8 166.0a1.75 1.75 0 1 0 3.5 0a1.75 1.75 0 1 0 -3.5 0M440.3 120.9a1.75 1.75 0 1 0 3.5 0a1.75 1.75 0 1 0 -3.5 0M417.6 154.8a1.75 1.75 0 1 0 3.5 0a1.75 1.75 0 1 0 -3.5 0M443.3 177.3a1.75 1.75 0 1 0 3.5 0a1.75 1.75 0 1 0 -3.5 0M402.8 214.3a1.75 1.75 0 1 0 3.5 0a1.75 1.75 0 1 0 -3.5 0M561.8 197.3a1.75 1.75 0 1 0 3.5 0a1.75 1.75 0 1 0 -3.5 0M420.6 214.7a1.75 1.75 0 1 0 3.5 0a1.75 1.75 0 1 0 -3.5 0M472.7 148.2a1.75 1.75 0 1 0 3.5 0a1.75 1.75 0 1 0 -3.5 0M416.2 191.0a1.75 1.75 0 1 0 3.5 0a1.75 1.75 0 1 0 -3.5 0M515.9 162.3a1.75 1.75 0 1 0 3.5 0a1.75 1.75 0 1 0 -3.5 0M468.0 183.5a1.75 1.75 0 1 0 3.5 0a1.75 1.75 0 1 0 -3.5 0M402.3 169.8a1.75 1.75 0 1 0 3.5 0a1.75 1.75 0 1 0 -3.5 0M496.3 128.9a1.75 1.75 0 1 0 3.5 0a1.75 1.75 0 1 0 -3.5 0M538.1 180.1a1.75 1.75 0 1 0 3.5 0a1.75 1.75 0 1 0 -3.5 0M510.7 173.1a1.75 1.75 0 1 0 3.5 0a1.75 1.75 0 1 0 -3.5 0M455.4 189.3a1.75 1.75 0 1 0 3.5 0a1.75 1.75 0 1 0 -3.5 0M425.6 147.7a1.75 1.75 0 1 0 3.5 0a1.75 1.75 0 1 0 -3.5 0M430.2 196.8a1.75 1.75 0 1 0 3.5 0a1.75 1.75 0 1 0 -3.5 0M519.3 193.1a1.75 1.75 0 1 0 3.5 0a1.75 1.75 0 1 0 -3.5 0M456.5 204.3a1.75 1.75 0 1 0 3.5 0a1.75 1.75 0 1 0 -3.5 0M421.7 207.3a1.75 1.75 0 1 0 3.5 0a1.75 1.75 0 1 0 -3.5 0M513.9 151.8a1.75 1.75 0 1 0 3.5 0a1.75 1.75 0 1 0 -3.5 0M472.1 100.3a1.75 1.75 0 1 0 3.5 0a1.75 1.75 0 1 0 -3.5 0M459.0 193.9a1.75 1.75 0 1 0 3.5 0a1.75 1.75 0 1 0 -3.5 0M434.1 145.1a1.75 1.75 0 1 0 3.5 0a1.75 1.75 0 1 0 -3.5 0M436.8 163.1a1.75 1.75 0 1 0 3.5 0a1.75 1.75 0 1 0 -3.5 0M429.4 198.8a1.75 1.75 0 1 0 3.5 0a1.75 1.75 0 1 0 -3.5 0M415.0 178.4a1.75 1.75 0 1 0 3.5 0a1.75 1.75 0 1 0 -3.5 0M508.0 170.5a1.75 1.75 0 1 0 3.5 0a1.75 1.75 0 1 0 -3.5 0M443.8 187.1a1.75 1.75 0 1 0 3.5 0a1.75 1.75 0 1 0 -3.5 0M450.6 118.5a1.75 1.75 0 1 0 3.5 0a1.75 1.75 0 1 0 -3.5 0M435.6 219.3a1.75 1.75 0 1 0 3.5 0a1.75 1.75 0 1 0 -3.5 0M484.6 156.3a1.75 1.75 0 1 0 3.5 0a1.75 1.75 0 1 0 -3.5 0M393.6 164.2a1.75 1.75 0 1 0 3.5 0a1.75 1.75 0 1 0 -3.5 0M436.7 184.7a1.75 1.75 0 1 0 3.5 0a1.75 1.75 0 1 0 -3.5 0M392.4 169.0a1.75 1.75 0 1 0 3.5 0a1.75 1.75 0 1 0 -3.5 0M407.6 149.0a1.75 1.75 0 1 0 3.5 0a1.75 1.75 0 1 0 -3.5 0M548.0 157.6a1.75 1.75 0 1 0 3.5 0a1.75 1.75 0 1 0 -3.5 0M460.0 157.1a1.75 1.75 0 1 0 3.5 0a1.75 1.75 0 1 0 -3.5 0M441.1 151.3a1.75 1.75 0 1 0 3.5 0a1.75 1.75 0 1 0 -3.5 0M452.9 221.3a1.75 1.75 0 1 0 3.5 0a1.75 1.75 0 1 0 -3.5 0M512.3 125.8a1.75 1.75 0 1 0 3.5 0a1.75 1.75 0 1 0 -3.5 0M441.8 110.1a1.75 1.75 0 1 0 3.5 0a1.75 1.75 0 1 0 -3.5 0M448.0 143.4a1.75 1.75 0 1 0 3.5 0a1.75 1.75 0 1 0 -3.5 0M462.5 141.4a1.75 1.75 0 1 0 3.5 0a1.75 1.75 0 1 0 -3.5 0M434.2 206.4a1.75 1.75 0 1 0 3.5 0a1.75 1.75 0 1 0 -3.5 0M449.1 171.8a1.75 1.75 0 1 0 3.5 0a1.75 1.75 0 1 0 -3.5 0M484.6 187.3a1.75 1.75 0 1 0 3.5 0a1.75 1.75 0 1 0 -3.5 0M522.5 178.7a1.75 1.75 0 1 0 3.5 0a1.75 1.75 0 1 0 -3.5 0M420.4 145.7a1.75 1.75 0 1 0 3.5 0a1.75 1.75 0 1 0 -3.5 0M526.2 184.0a1.75 1.75 0 1 0 3.5 0a1.75 1.75 0 1 0 -3.5 0M389.5 176.5a1.75 1.75 0 1 0 3.5 0a1.75 1.75 0 1 0 -3.5 0M475.2 216.5a1.75 1.75 0 1 0 3.5 0a1.75 1.75 0 1 0 -3.5 0M498.2 169.3a1.75 1.75 0 1 0 3.5 0a1.75 1.75 0 1 0 -3.5 0M412.2 169.1a1.75 1.75 0 1 0 3.5 0a1.75 1.75 0 1 0 -3.5 0M434.5 188.1a1.75 1.75 0 1 0 3.5 0a1.75 1.75 0 1 0 -3.5 0M497.3 184.0a1.75 1.75 0 1 0 3.5 0a1.75 1.75 0 1 0 -3.5 0M387.3 124.2a1.75 1.75 0 1 0 3.5 0a1.75 1.75 0 1 0 -3.5 0M450.5 200.1a1.75 1.75 0 1 0 3.5 0a1.75 1.75 0 1 0 -3.5 0M482.0 193.7a1.75 1.75 0 1 0 3.5 0a1.75 1.75 0 1 0 -3.5 0M448.4 189.8a1.75 1.75 0 1 0 3.5 0a1.75 1.75 0 1 0 -3.5 0M464.2 136.5a1.75 1.75 0 1 0 3.5 0a1.75 1.75 0 1 0 -3.5 0M424.6 115.9a1.75 1.75 0 1 0 3.5 0a1.75 1.75 0 1 0 -3.5 0M424.3 161.9a1.75 1.75 0 1 0 3.5 0a1.75 1.75 0 1 0 -3.5 0M432.5 188.6a1.75 1.75 0 1 0 3.5 0a1.75 1.75 0 1 0 -3.5 0M426.0 181.6a1.75 1.75 0 1 0 3.5 0a1.75 1.75 0 1 0 -3.5 0M431.4 142.4a1.75 1.75 0 1 0 3.5 0a1.75 1.75 0 1 0 -3.5 0M545.5 185.4a1.75 1.75 0 1 0 3.5 0a1.75 1.75 0 1 0 -3.5 0M447.6 131.1a1.75 1.75 0 1 0 3.5 0a1.75 1.75 0 1 0 -3.5 0M433.9 133.1a1.75 1.75 0 1 0 3.5 0a1.75 1.75 0 1 0 -3.5 0M418.7 169.1a1.75 1.75 0 1 0 3.5 0a1.75 1.75 0 1 0 -3.5 0M545.9 144.9a1.75 1.75 0 1 0 3.5 0a1.75 1.75 0 1 0 -3.5 0M434.4 150.3a1.75 1.75 0 1 0 3.5 0a1.75 1.75 0 1 0 -3.5 0M583.7 118.6a1.75 1.75 0 1 0 3.5 0a1.75 1.75 0 1 0 -3.5 0M459.0 195.4a1.75 1.75 0 1 0 3.5 0a1.75 1.75 0 1 0 -3.5 0M458.4 137.4a1.75 1.75 0 1 0 3.5 0a1.75 1.75 0 1 0 -3.5 0M503.2 174.6a1.75 1.75 0 1 0 3.5 0a1.75 1.75 0 1 0 -3.5 0M481.2 186.4a1.75 1.75 0 1 0 3.5 0a1.75 1.75 0 1 0 -3.5 0M453.4 165.8a1.75 1.75 0 1 0 3.5 0a1.75 1.75 0 1 0 -3.5 0M440.4 175.0a1.75 1.75 0 1 0 3.5 0a1.75 1.75 0 1 0 -3.5 0M507.4 190.2a1.75 1.75 0 1 0 3.5 0a1.75 1.75 0 1 0 -3.5 0M435.0 211.3a1.75 1.75 0 1 0 3.5 0a1.75 1.75 0 1 0 -3.5 0M517.1 188.3a1.75 1.75 0 1 0 3.5 0a1.75 1.75 0 1 0 -3.5 0M401.8 134.5a1.75 1.75 0 1 0 3.5 0a1.75 1.75 0 1 0 -3.5 0M438.2 118.6a1.75 1.75 0 1 0 3.5 0a1.75 1.75 0 1 0 -3.5 0M445.8 152.1a1.75 1.75 0 1 0 3.5 0a1.75 1.75 0 1 0 -3.5 0M534.4 131.7a1.75 1.75 0 1 0 3.5 0a1.75 1.75 0 1 0 -3.5 0M420.6 184.3a1.75 1.75 0 1 0 3.5 0a1.75 1.75 0 1 0 -3.5 0M489.1 167.9a1.75 1.75 0 1 0 3.5 0a1.75 1.75 0 1 0 -3.5 0M459.6 160.6a1.75 1.75 0 1 0 3.5 0a1.75 1.75 0 1 0 -3.5 0M472.6 195.2a1.75 1.75 0 1 0 3.5 0a1.75 1.75 0 1 0 -3.5 0M451.0 194.3a1.75 1.75 0 1 0 3.5 0a1.75 1.75 0 1 0 -3.5 0M563.4 157.9a1.75 1.75 0 1 0 3.5 0a1.75 1.75 0 1 0 -3.5 0M440.5 177.7a1.75 1.75 0 1 0 3.5 0a1.75 1.75 0 1 0 -3.5 0M430.4 197.8a1.75 1.75 0 1 0 3.5 0a1.75 1.75 0 1 0 -3.5 0M419.3 160.9a1.75 1.75 0 1 0 3.5 0a1.75 1.75 0 1 0 -3.5 0M415.2 178.1a1.75 1.75 0 1 0 3.5 0a1.75 1.75 0 1 0 -3.5 0M428.7 143.7a1.75 1.75 0 1 0 3.5 0a1.75 1.75 0 1 0 -3.5 0M526.2 163.3a1.75 1.75 0 1 0 3.5 0a1.75 1.75 0 1 0 -3.5 0M489.4 173.6a1.75 1.75 0 1 0 3.5 0a1.75 1.75 0 1 0 -3.5 0M405.9 168.6a1.75 1.75 0 1 0 3.5 0a1.75 1.75 0 1 0 -3.5 0M445.1 173.5a1.75 1.75 0 1 0 3.5 0a1.75 1.75 0 1 0 -3.5 0M433.4 187.3a1.75 1.75 0 1 0 3.5 0a1.75 1.75 0 1 0 -3.5 0M445.1 179.5a1.75 1.75 0 1 0 3.5 0a1.75 1.75 0 1 0 -3.5 0M461.0 148.4a1.75 1.75 0 1 0 3.5 0a1.75 1.75 0 1 0 -3.5 0M424.9 153.7a1.75 1.75 0 1 0 3.5 0a1.75 1.75 0 1 0 -3.5 0M547.4 128.2a1.75 1.75 0 1 0 3.5 0a1.75 1.75 0 1 0 -3.5 0M432.5 214.0a1.75 1.75 0 1 0 3.5 0a1.75 1.75 0 1 0 -3.5 0M457.8 178.3a1.75 1.75 0 1 0 3.5 0a1.75 1.75 0 1 0 -3.5 0M449.5 179.5a1.75 1.75 0 1 0 3.5 0a1.75 1.75 0 1 0 -3.5 0M420.6 166.4a1.75 1.75 0 1 0 3.5 0a1.75 1.75 0 1 0 -3.5 0M402.5 183.9a1.75 1.75 0 1 0 3.5 0a1.75 1.75 0 1 0 -3.5 0M441.7 182.6a1.75 1.75 0 1 0 3.5 0a1.75 1.75 0 1 0 -3.5 0M483.4 145.9a1.75 1.75 0 1 0 3.5 0a1.75 1.75 0 1 0 -3.5 0M496.0 160.7a1.75 1.75 0 1 0 3.5 0a1.75 1.75 0 1 0 -3.5 0M468.1 197.7a1.75 1.75 0 1 0 3.5 0a1.75 1.75 0 1 0 -3.5 0M402.7 137.5a1.75 1.75 0 1 0 3.5 0a1.75 1.75 0 1 0 -3.5 0M520.8 137.6a1.75 1.75 0 1 0 3.5 0a1.75 1.75 0 1 0 -3.5 0M482.1 181.3a1.75 1.75 0 1 0 3.5 0a1.75 1.75 0 1 0 -3.5 0M516.3 142.3a1.75 1.75 0 1 0 3.5 0a1.75 1.75 0 1 0 -3.5 0M456.5 187.3a1.75 1.75 0 1 0 3.5 0a1.75 1.75 0 1 0 -3.5 0M526.3 133.9a1.75 1.75 0 1 0 3.5 0a1.75 1.75 0 1 0 -3.5 0M408.8 177.4a1.75 1.75 0 1 0 3.5 0a1.75 1.75 0 1 0 -3.5 0M387.0 194.1a1.75 1.75 0 1 0 3.5 0a1.75 1.75 0 1 0 -3.5 0M399.7 182.0a1.75 1.75 0 1 0 3.5 0a1.75 1.75 0 1 0 -3.5 0M416.7 191.0a1.75 1.75 0 1 0 3.5 0a1.75 1.75 0 1 0 -3.5 0M417.6 166.1a1.75 1.75 0 1 0 3.5 0a1.75 1.75 0 1 0 -3.5 0M425.8 165.9a1.75 1.75 0 1 0 3.5 0a1.75 1.75 0 1 0 -3.5 0M456.4 167.3a1.75 1.75 0 1 0 3.5 0a1.75 1.75 0 1 0 -3.5 0M412.7 185.9a1.75 1.75 0 1 0 3.5 0a1.75 1.75 0 1 0 -3.5 0M451.2 240.2a1.75 1.75 0 1 0 3.5 0a1.75 1.75 0 1 0 -3.5 0M418.3 168.6a1.75 1.75 0 1 0 3.5 0a1.75 1.75 0 1 0 -3.5 0M459.7 217.3a1.75 1.75 0 1 0 3.5 0a1.75 1.75 0 1 0 -3.5 0M399.1 166.0a1.75 1.75 0 1 0 3.5 0a1.75 1.75 0 1 0 -3.5 0M429.9 140.8a1.75 1.75 0 1 0 3.5 0a1.75 1.75 0 1 0 -3.5 0M535.0 155.4a1.75 1.75 0 1 0 3.5 0a1.75 1.75 0 1 0 -3.5 0M457.2 178.3a1.75 1.75 0 1 0 3.5 0a1.75 1.75 0 1 0 -3.5 0M493.9 170.2a1.75 1.75 0 1 0 3.5 0a1.75 1.75 0 1 0 -3.5 0M463.7 171.2a1.75 1.75 0 1 0 3.5 0a1.75 1.75 0 1 0 -3.5 0M452.0 182.8a1.75 1.75 0 1 0 3.5 0a1.75 1.75 0 1 0 -3.5 0M415.9 186.3a1.75 1.75 0 1 0 3.5 0a1.75 1.75 0 1 0 -3.5 0M451.1 192.6a1.75 1.75 0 1 0 3.5 0a1.75 1.75 0 1 0 -3.5 0M404.2 141.2a1.75 1.75 0 1 0 3.5 0a1.75 1.75 0 1 0 -3.5 0M483.9 166.6a1.75 1.75 0 1 0 3.5 0a1.75 1.75 0 1 0 -3.5 0M553.2 136.3a1.75 1.75 0 1 0 3.5 0a1.75 1.75 0 1 0 -3.5 0M500.7 171.5a1.75 1.75 0 1 0 3.5 0a1.75 1.75 0 1 0 -3.5 0M414.3 169.4a1.75 1.75 0 1 0 3.5 0a1.75 1.75 0 1 0 -3.5 0M434.8 174.2a1.75 1.75 0 1 0 3.5 0a1.75 1.75 0 1 0 -3.5 0M434.3 157.8a1.75 1.75 0 1 0 3.5 0a1.75 1.75 0 1 0 -3.5 0M414.9 149.8a1.75 1.75 0 1 0 3.5 0a1.75 1.75 0 1 0 -3.5 0M452.0 162.3a1.75 1.75 0 1 0 3.5 0a1.75 1.75 0 1 0 -3.5 0M475.0 184.4a1.75 1.75 0 1 0 3.5 0a1.75 1.75 0 1 0 -3.5 0M430.9 190.4a1.75 1.75 0 1 0 3.5 0a1.75 1.75 0 1 0 -3.5 0M516.9 120.7a1.75 1.75 0 1 0 3.5 0a1.75 1.75 0 1 0 -3.5 0M482.0 173.6a1.75 1.75 0 1 0 3.5 0a1.75 1.75 0 1 0 -3.5 0M402.1 179.7a1.75 1.75 0 1 0 3.5 0a1.75 1.75 0 1 0 -3.5 0M481.0 128.4a1.75 1.75 0 1 0 3.5 0a1.75 1.75 0 1 0 -3.5 0M509.9 136.1a1.75 1.75 0 1 0 3.5 0a1.75 1.75 0 1 0 -3.5 0M422.1 156.9a1.75 1.75 0 1 0 3.5 0a1.75 1.75 0 1 0 -3.5 0M458.5 178.5a1.75 1.75 0 1 0 3.5 0a1.75 1.75 0 1 0 -3.5 0M472.9 105.9a1.75 1.75 0 1 0 3.5 0a1.75 1.75 0 1 0 -3.5 0M446.5 158.7a1.75 1.75 0 1 0 3.5 0a1.75 1.75 0 1 0 -3.5 0M403.5 157.9a1.75 1.75 0 1 0 3.5 0a1.75 1.75 0 1 0 -3.5 0M465.1 172.0a1.75 1.75 0 1 0 3.5 0a1.75 1.75 0 1 0 -3.5 0M456.8 205.0a1.75 1.75 0 1 0 3.5 0a1.75 1.75 0 1 0 -3.5 0M497.1 200.0a1.75 1.75 0 1 0 3.5 0a1.75 1.75 0 1 0 -3.5 0M498.7 154.6a1.75 1.75 0 1 0 3.5 0a1.75 1.75 0 1 0 -3.5 0M438.6 159.3a1.75 1.75 0 1 0 3.5 0a1.75 1.75 0 1 0 -3.5 0M462.2 174.0a1.75 1.75 0 1 0 3.5 0a1.75 1.75 0 1 0 -3.5 0M514.4 194.5a1.75 1.75 0 1 0 3.5 0a1.75 1.75 0 1 0 -3.5 0M502.8 202.3a1.75 1.75 0 1 0 3.5 0a1.75 1.75 0 1 0 -3.5 0M425.9 179.0a1.75 1.75 0 1 0 3.5 0a1.75 1.75 0 1 0 -3.5 0M389.6 210.9a1.75 1.75 0 1 0 3.5 0a1.75 1.75 0 1 0 -3.5 0M466.0 144.2a1.75 1.75 0 1 0 3.5 0a1.75 1.75 0 1 0 -3.5 0M429.9 140.2a1.75 1.75 0 1 0 3.5 0a1.75 1.75 0 1 0 -3.5 0M452.5 95.0a1.75 1.75 0 1 0 3.5 0a1.75 1.75 0 1 0 -3.5 0M532.3 139.9a1.75 1.75 0 1 0 3.5 0a1.75 1.75 0 1 0 -3.5 0M436.4 185.1a1.75 1.75 0 1 0 3.5 0a1.75 1.75 0 1 0 -3.5 0M425.3 193.1a1.75 1.75 0 1 0 3.5 0a1.75 1.75 0 1 0 -3.5 0M431.0 240.2a1.75 1.75 0 1 0 3.5 0a1.75 1.75 0 1 0 -3.5 0M462.8 183.2a1.75 1.75 0 1 0 3.5 0a1.75 1.75 0 1 0 -3.5 0M401.6 176.8a1.75 1.75 0 1 0 3.5 0a1.75 1.75 0 1 0 -3.5 0M438.0 144.4a1.75 1.75 0 1 0 3.5 0a1.75 1.75 0 1 0 -3.5 0M406.8 155.9a1.75 1.75 0 1 0 3.5 0a1.75 1.75 0 1 0 -3.5 0M466.5 152.2a1.75 1.75 0 1 0 3.5 0a1.75 1.75 0 1 0 -3.5 0M492.4 160.1a1.75 1.75 0 1 0 3.5 0a1.75 1.75 0 1 0 -3.5 0M439.7 152.3a1.75 1.75 0 1 0 3.5 0a1.75 1.75 0 1 0 -3.5 0M432.7 132.3a1.75 1.75 0 1 0 3.5 0a1.75 1.75 0 1 0 -3.5 0M457.8 195.8a1.75 1.75 0 1 0 3.5 0a1.75 1.75 0 1 0 -3.5 0M429.6 182.1a1.75 1.75 0 1 0 3.5 0a1.75 1.75 0 1 0 -3.5 0M422.9 206.7a1.75 1.75 0 1 0 3.5 0a1.75 1.75 0 1 0 -3.5 0M437.0 127.6a1.75 1.75 0 1 0 3.5 0a1.75 1.75 0 1 0 -3.5 0M442.7 135.5a1.75 1.75 0 1 0 3.5 0a1.75 1.75 0 1 0 -3.5 0M405.5 152.4a1.75 1.75 0 1 0 3.5 0a1.75 1.75 0 1 0 -3.5 0M485.3 197.3a1.75 1.75 0 1 0 3.5 0a1.75 1.75 0 1 0 -3.5 0M448.9 164.3a1.75 1.75 0 1 0 3.5 0a1.75 1.75 0 1 0 -3.5 0M426.2 176.5a1.75 1.75 0 1 0 3.5 0a1.75 1.75 0 1 0 -3.5 0M406.1 169.8a1.75 1.75 0 1 0 3.5 0a1.75 1.75 0 1 0 -3.5 0M482.4 171.2a1.75 1.75 0 1 0 3.5 0a1.75 1.75 0 1 0 -3.5 0M414.7 157.8a1.75 1.75 0 1 0 3.5 0a1.75 1.75 0 1 0 -3.5 0M402.1 182.4a1.75 1.75 0 1 0 3.5 0a1.75 1.75 0 1 0 -3.5 0M413.0 149.2a1.75 1.75 0 1 0 3.5 0a1.75 1.75 0 1 0 -3.5 0M409.1 165.4a1.75 1.75 0 1 0 3.5 0a1.75 1.75 0 1 0 -3.5 0M522.5 171.0a1.75 1.75 0 1 0 3.5 0a1.75 1.75 0 1 0 -3.5 0M420.8 173.7a1.75 1.75 0 1 0 3.5 0a1.75 1.75 0 1 0 -3.5 0M416.8 182.6a1.75 1.75 0 1 0 3.5 0a1.75 1.75 0 1 0 -3.5 0M491.8 144.5a1.75 1.75 0 1 0 3.5 0a1.75 1.75 0 1 0 -3.5 0M453.7 175.5a1.75 1.75 0 1 0 3.5 0a1.75 1.75 0 1 0 -3.5 0M417.2 163.4a1.75 1.75 0 1 0 3.5 0a1.75 1.75 0 1 0 -3.5 0M439.9 179.6a1.75 1.75 0 1 0 3.5 0a1.75 1.75 0 1 0 -3.5 0M516.5 202.5a1.75 1.75 0 1 0 3.5 0a1.75 1.75 0 1 0 -3.5 0M444.4 145.6a1.75 1.75 0 1 0 3.5 0a1.75 1.75 0 1 0 -3.5 0M472.0 194.6a1.75 1.75 0 1 0 3.5 0a1.75 1.75 0 1 0 -3.5 0M413.0 153.7a1.75 1.75 0 1 0 3.5 0a1.75 1.75 0 1 0 -3.5 0M461.7 156.9a1.75 1.75 0 1 0 3.5 0a1.75 1.75 0 1 0 -3.5 0M487.7 209.0a1.75 1.75 0 1 0 3.5 0a1.75 1.75 0 1 0 -3.5 0M491.0 190.3a1.75 1.75 0 1 0 3.5 0a1.75 1.75 0 1 0 -3.5 0M471.7 180.5a1.75 1.75 0 1 0 3.5 0a1.75 1.75 0 1 0 -3.5 0M442.9 190.5a1.75 1.75 0 1 0 3.5 0a1.75 1.75 0 1 0 -3.5 0M410.3 202.3a1.75 1.75 0 1 0 3.5 0a1.75 1.75 0 1 0 -3.5 0M452.2 149.3a1.75 1.75 0 1 0 3.5 0a1.75 1.75 0 1 0 -3.5 0M476.5 173.0a1.75 1.75 0 1 0 3.5 0a1.75 1.75 0 1 0 -3.5 0M423.3 160.6a1.75 1.75 0 1 0 3.5 0a1.75 1.75 0 1 0 -3.5 0M420.0 182.1a1.75 1.75 0 1 0 3.5 0a1.75 1.75 0 1 0 -3.5 0M446.5 161.0a1.75 1.75 0 1 0 3.5 0a1.75 1.75 0 1 0 -3.5 0M475.5 186.4a1.75 1.75 0 1 0 3.5 0a1.75 1.75 0 1 0 -3.5 0M514.2 164.7a1.75 1.75 0 1 0 3.5 0a1.75 1.75 0 1 0 -3.5 0M414.6 156.1a1.75 1.75 0 1 0 3.5 0a1.75 1.75 0 1 0 -3.5 0M417.8 169.9a1.75 1.75 0 1 0 3.5 0a1.75 1.75 0 1 0 -3.5 0M473.8 178.8a1.75 1.75 0 1 0 3.5 0a1.75 1.75 0 1 0 -3.5 0M463.0 196.0a1.75 1.75 0 1 0 3.5 0a1.75 1.75 0 1 0 -3.5 0M461.1 163.5a1.75 1.75 0 1 0 3.5 0a1.75 1.75 0 1 0 -3.5 0M606.6 148.3a1.75 1.75 0 1 0 3.5 0a1.75 1.75 0 1 0 -3.5 0M539.9 168.9a1.75 1.75 0 1 0 3.5 0a1.75 1.75 0 1 0 -3.5 0M494.2 185.5a1.75 1.75 0 1 0 3.5 0a1.75 1.75 0 1 0 -3.5 0M479.8 152.4a1.75 1.75 0 1 0 3.5 0a1.75 1.75 0 1 0 -3.5 0M433.2 105.4a1.75 1.75 0 1 0 3.5 0a1.75 1.75 0 1 0 -3.5 0M468.8 175.2a1.75 1.75 0 1 0 3.5 0a1.75 1.75 0 1 0 -3.5 0M419.9 162.1a1.75 1.75 0 1 0 3.5 0a1.75 1.75 0 1 0 -3.5 0M479.4 156.8a1.75 1.75 0 1 0 3.5 0a1.75 1.75 0 1 0 -3.5 0M480.3 233.2a1.75 1.75 0 1 0 3.5 0a1.75 1.75 0 1 0 -3.5 0M472.2 163.9a1.75 1.75 0 1 0 3.5 0a1.75 1.75 0 1 0 -3.5 0M433.8 188.2a1.75 1.75 0 1 0 3.5 0a1.75 1.75 0 1 0 -3.5 0M440.6 133.4a1.75 1.75 0 1 0 3.5 0a1.75 1.75 0 1 0 -3.5 0M434.7 176.4a1.75 1.75 0 1 0 3.5 0a1.75 1.75 0 1 0 -3.5 0M399.8 192.6a1.75 1.75 0 1 0 3.5 0a1.75 1.75 0 1 0 -3.5 0M493.8 171.2a1.75 1.75 0 1 0 3.5 0a1.75 1.75 0 1 0 -3.5 0M452.0 164.2a1.75 1.75 0 1 0 3.5 0a1.75 1.75 0 1 0 -3.5 0M442.9 183.8a1.75 1.75 0 1 0 3.5 0a1.75 1.75 0 1 0 -3.5 0M454.4 169.7a1.75 1.75 0 1 0 3.5 0a1.75 1.75 0 1 0 -3.5 0M460.5 203.1a1.75 1.75 0 1 0 3.5 0a1.75 1.75 0 1 0 -3.5 0M432.2 175.8a1.75 1.75 0 1 0 3.5 0a1.75 1.75 0 1 0 -3.5 0M502.4 144.7a1.75 1.75 0 1 0 3.5 0a1.75 1.75 0 1 0 -3.5 0M517.5 112.6a1.75 1.75 0 1 0 3.5 0a1.75 1.75 0 1 0 -3.5 0M434.6 151.5a1.75 1.75 0 1 0 3.5 0a1.75 1.75 0 1 0 -3.5 0M415.2 164.2a1.75 1.75 0 1 0 3.5 0a1.75 1.75 0 1 0 -3.5 0M473.9 136.2a1.75 1.75 0 1 0 3.5 0a1.75 1.75 0 1 0 -3.5 0M591.7 131.9a1.75 1.75 0 1 0 3.5 0a1.75 1.75 0 1 0 -3.5 0M418.8 127.7a1.75 1.75 0 1 0 3.5 0a1.75 1.75 0 1 0 -3.5 0M460.4 139.8a1.75 1.75 0 1 0 3.5 0a1.75 1.75 0 1 0 -3.5 0M494.9 168.5a1.75 1.75 0 1 0 3.5 0a1.75 1.75 0 1 0 -3.5 0M525.6 156.5a1.75 1.75 0 1 0 3.5 0a1.75 1.75 0 1 0 -3.5 0M405.9 167.2a1.75 1.75 0 1 0 3.5 0a1.75 1.75 0 1 0 -3.5 0M402.9 164.3a1.75 1.75 0 1 0 3.5 0a1.75 1.75 0 1 0 -3.5 0M601.1 152.5a1.75 1.75 0 1 0 3.5 0a1.75 1.75 0 1 0 -3.5 0M412.9 191.7a1.75 1.75 0 1 0 3.5 0a1.75 1.75 0 1 0 -3.5 0M423.9 225.3a1.75 1.75 0 1 0 3.5 0a1.75 1.75 0 1 0 -3.5 0M446.7 186.4a1.75 1.75 0 1 0 3.5 0a1.75 1.75 0 1 0 -3.5 0M438.1 222.2a1.75 1.75 0 1 0 3.5 0a1.75 1.75 0 1 0 -3.5 0M482.7 164.5a1.75 1.75 0 1 0 3.5 0a1.75 1.75 0 1 0 -3.5 0M422.0 170.6a1.75 1.75 0 1 0 3.5 0a1.75 1.75 0 1 0 -3.5 0M529.5 206.5a1.75 1.75 0 1 0 3.5 0a1.75 1.75 0 1 0 -3.5 0M421.4 152.9a1.75 1.75 0 1 0 3.5 0a1.75 1.75 0 1 0 -3.5 0M481.0 143.9a1.75 1.75 0 1 0 3.5 0a1.75 1.75 0 1 0 -3.5 0M402.9 169.6a1.75 1.75 0 1 0 3.5 0a1.75 1.75 0 1 0 -3.5 0M438.4 126.2a1.75 1.75 0 1 0 3.5 0a1.75 1.75 0 1 0 -3.5 0M397.9 123.8a1.75 1.75 0 1 0 3.5 0a1.75 1.75 0 1 0 -3.5 0M440.8 200.7a1.75 1.75 0 1 0 3.5 0a1.75 1.75 0 1 0 -3.5 0M433.9 142.9a1.75 1.75 0 1 0 3.5 0a1.75 1.75 0 1 0 -3.5 0M473.5 155.5a1.75 1.75 0 1 0 3.5 0a1.75 1.75 0 1 0 -3.5 0M440.6 158.5a1.75 1.75 0 1 0 3.5 0a1.75 1.75 0 1 0 -3.5 0M407.4 147.5a1.75 1.75 0 1 0 3.5 0a1.75 1.75 0 1 0 -3.5 0M609.9 175.8a1.75 1.75 0 1 0 3.5 0a1.75 1.75 0 1 0 -3.5 0M513.8 179.4a1.75 1.75 0 1 0 3.5 0a1.75 1.75 0 1 0 -3.5 0M519.6 185.1a1.75 1.75 0 1 0 3.5 0a1.75 1.75 0 1 0 -3.5 0M425.0 190.1a1.75 1.75 0 1 0 3.5 0a1.75 1.75 0 1 0 -3.5 0M440.6 171.9a1.75 1.75 0 1 0 3.5 0a1.75 1.75 0 1 0 -3.5 0M423.2 208.4a1.75 1.75 0 1 0 3.5 0a1.75 1.75 0 1 0 -3.5 0M413.9 198.5a1.75 1.75 0 1 0 3.5 0a1.75 1.75 0 1 0 -3.5 0M393.6 157.8a1.75 1.75 0 1 0 3.5 0a1.75 1.75 0 1 0 -3.5 0M451.4 170.4a1.75 1.75 0 1 0 3.5 0a1.75 1.75 0 1 0 -3.5 0M405.4 162.0a1.75 1.75 0 1 0 3.5 0a1.75 1.75 0 1 0 -3.5 0M429.1 219.3a1.75 1.75 0 1 0 3.5 0a1.75 1.75 0 1 0 -3.5 0M507.1 184.9a1.75 1.75 0 1 0 3.5 0a1.75 1.75 0 1 0 -3.5 0M440.3 183.8a1.75 1.75 0 1 0 3.5 0a1.75 1.75 0 1 0 -3.5 0M421.7 169.9a1.75 1.75 0 1 0 3.5 0a1.75 1.75 0 1 0 -3.5 0M472.7 182.3a1.75 1.75 0 1 0 3.5 0a1.75 1.75 0 1 0 -3.5 0M429.5 145.9a1.75 1.75 0 1 0 3.5 0a1.75 1.75 0 1 0 -3.5 0M445.1 170.6a1.75 1.75 0 1 0 3.5 0a1.75 1.75 0 1 0 -3.5 0M430.1 169.7a1.75 1.75 0 1 0 3.5 0a1.75 1.75 0 1 0 -3.5 0M453.4 168.1a1.75 1.75 0 1 0 3.5 0a1.75 1.75 0 1 0 -3.5 0M445.8 150.6a1.75 1.75 0 1 0 3.5 0a1.75 1.75 0 1 0 -3.5 0M451.9 180.8a1.75 1.75 0 1 0 3.5 0a1.75 1.75 0 1 0 -3.5 0M430.9 140.9a1.75 1.75 0 1 0 3.5 0a1.75 1.75 0 1 0 -3.5 0M481.6 154.4a1.75 1.75 0 1 0 3.5 0a1.75 1.75 0 1 0 -3.5 0M505.3 160.7a1.75 1.75 0 1 0 3.5 0a1.75 1.75 0 1 0 -3.5 0M421.1 169.7a1.75 1.75 0 1 0 3.5 0a1.75 1.75 0 1 0 -3.5 0M405.7 158.4a1.75 1.75 0 1 0 3.5 0a1.75 1.75 0 1 0 -3.5 0M410.0 145.2a1.75 1.75 0 1 0 3.5 0a1.75 1.75 0 1 0 -3.5 0M586.8 134.2a1.75 1.75 0 1 0 3.5 0a1.75 1.75 0 1 0 -3.5 0M545.1 152.0a1.75 1.75 0 1 0 3.5 0a1.75 1.75 0 1 0 -3.5 0M420.5 148.1a1.75 1.75 0 1 0 3.5 0a1.75 1.75 0 1 0 -3.5 0M568.7 157.0a1.75 1.75 0 1 0 3.5 0a1.75 1.75 0 1 0 -3.5 0M415.8 138.6a1.75 1.75 0 1 0 3.5 0a1.75 1.75 0 1 0 -3.5 0M450.1 169.4a1.75 1.75 0 1 0 3.5 0a1.75 1.75 0 1 0 -3.5 0M458.6 222.0a1.75 1.75 0 1 0 3.5 0a1.75 1.75 0 1 0 -3.5 0M518.8 128.9a1.75 1.75 0 1 0 3.5 0a1.75 1.75 0 1 0 -3.5 0M413.9 168.5a1.75 1.75 0 1 0 3.5 0a1.75 1.75 0 1 0 -3.5 0M439.7 199.9a1.75 1.75 0 1 0 3.5 0a1.75 1.75 0 1 0 -3.5 0M448.9 173.9a1.75 1.75 0 1 0 3.5 0a1.75 1.75 0 1 0 -3.5 0M412.5 194.4a1.75 1.75 0 1 0 3.5 0a1.75 1.75 0 1 0 -3.5 0M419.9 116.3a1.75 1.75 0 1 0 3.5 0a1.75 1.75 0 1 0 -3.5 0M443.2 156.3a1.75 1.75 0 1 0 3.5 0a1.75 1.75 0 1 0 -3.5 0M503.8 205.5a1.75 1.75 0 1 0 3.5 0a1.75 1.75 0 1 0 -3.5 0M475.4 152.7a1.75 1.75 0 1 0 3.5 0a1.75 1.75 0 1 0 -3.5 0M499.0 175.5a1.75 1.75 0 1 0 3.5 0a1.75 1.75 0 1 0 -3.5 0M480.1 116.7a1.75 1.75 0 1 0 3.5 0a1.75 1.75 0 1 0 -3.5 0M461.3 195.2a1.75 1.75 0 1 0 3.5 0a1.75 1.75 0 1 0 -3.5 0M495.5 223.8a1.75 1.75 0 1 0 3.5 0a1.75 1.75 0 1 0 -3.5 0M463.5 166.0a1.75 1.75 0 1 0 3.5 0a1.75 1.75 0 1 0 -3.5 0M481.6 175.4a1.75 1.75 0 1 0 3.5 0a1.75 1.75 0 1 0 -3.5 0M426.5 181.2a1.75 1.75 0 1 0 3.5 0a1.75 1.75 0 1 0 -3.5 0M428.2 225.9a1.75 1.75 0 1 0 3.5 0a1.75 1.75 0 1 0 -3.5 0M474.5 155.8a1.75 1.75 0 1 0 3.5 0a1.75 1.75 0 1 0 -3.5 0M424.3 127.1a1.75 1.75 0 1 0 3.5 0a1.75 1.75 0 1 0 -3.5 0M531.3 212.4a1.75 1.75 0 1 0 3.5 0a1.75 1.75 0 1 0 -3.5 0M451.3 138.2a1.75 1.75 0 1 0 3.5 0a1.75 1.75 0 1 0 -3.5 0M441.4 184.1a1.75 1.75 0 1 0 3.5 0a1.75 1.75 0 1 0 -3.5 0M532.9 101.6a1.75 1.75 0 1 0 3.5 0a1.75 1.75 0 1 0 -3.5 0M428.4 158.9a1.75 1.75 0 1 0 3.5 0a1.75 1.75 0 1 0 -3.5 0M453.1 173.3a1.75 1.75 0 1 0 3.5 0a1.75 1.75 0 1 0 -3.5 0M414.1 142.6a1.75 1.75 0 1 0 3.5 0a1.75 1.75 0 1 0 -3.5 0M557.4 147.2a1.75 1.75 0 1 0 3.5 0a1.75 1.75 0 1 0 -3.5 0M457.3 183.6a1.75 1.75 0 1 0 3.5 0a1.75 1.75 0 1 0 -3.5 0M488.9 147.4a1.75 1.75 0 1 0 3.5 0a1.75 1.75 0 1 0 -3.5 0M426.1 183.7a1.75 1.75 0 1 0 3.5 0a1.75 1.75 0 1 0 -3.5 0M476.5 213.2a1.75 1.75 0 1 0 3.5 0a1.75 1.75 0 1 0 -3.5 0M463.0 115.0a1.75 1.75 0 1 0 3.5 0a1.75 1.75 0 1 0 -3.5 0M463.9 176.8a1.75 1.75 0 1 0 3.5 0a1.75 1.75 0 1 0 -3.5 0M540.1 178.0a1.75 1.75 0 1 0 3.5 0a1.75 1.75 0 1 0 -3.5 0M439.3 160.7a1.75 1.75 0 1 0 3.5 0a1.75 1.75 0 1 0 -3.5 0M443.7 209.7a1.75 1.75 0 1 0 3.5 0a1.75 1.75 0 1 0 -3.5 0M459.3 203.2a1.75 1.75 0 1 0 3.5 0a1.75 1.75 0 1 0 -3.5 0M490.9 178.7a1.75 1.75 0 1 0 3.5 0a1.75 1.75 0 1 0 -3.5 0M435.5 183.3a1.75 1.75 0 1 0 3.5 0a1.75 1.75 0 1 0 -3.5 0M471.0 165.3a1.75 1.75 0 1 0 3.5 0a1.75 1.75 0 1 0 -3.5 0M423.7 141.4a1.75 1.75 0 1 0 3.5 0a1.75 1.75 0 1 0 -3.5 0M452.1 180.9a1.75 1.75 0 1 0 3.5 0a1.75 1.75 0 1 0 -3.5 0M484.6 153.4a1.75 1.75 0 1 0 3.5 0a1.75 1.75 0 1 0 -3.5 0M410.8 155.9a1.75 1.75 0 1 0 3.5 0a1.75 1.75 0 1 0 -3.5 0M463.4 195.9a1.75 1.75 0 1 0 3.5 0a1.75 1.75 0 1 0 -3.5 0M388.1 167.3a1.75 1.75 0 1 0 3.5 0a1.75 1.75 0 1 0 -3.5 0M552.7 185.7a1.75 1.75 0 1 0 3.5 0a1.75 1.75 0 1 0 -3.5 0M443.0 141.6a1.75 1.75 0 1 0 3.5 0a1.75 1.75 0 1 0 -3.5 0M438.9 157.7a1.75 1.75 0 1 0 3.5 0a1.75 1.75 0 1 0 -3.5 0M459.9 167.5a1.75 1.75 0 1 0 3.5 0a1.75 1.75 0 1 0 -3.5 0M451.1 203.4a1.75 1.75 0 1 0 3.5 0a1.75 1.75 0 1 0 -3.5 0M464.7 164.6a1.75 1.75 0 1 0 3.5 0a1.75 1.75 0 1 0 -3.5 0M409.7 191.6a1.75 1.75 0 1 0 3.5 0a1.75 1.75 0 1 0 -3.5 0M453.2 150.1a1.75 1.75 0 1 0 3.5 0a1.75 1.75 0 1 0 -3.5 0M458.5 171.2a1.75 1.75 0 1 0 3.5 0a1.75 1.75 0 1 0 -3.5 0M521.9 184.6a1.75 1.75 0 1 0 3.5 0a1.75 1.75 0 1 0 -3.5 0M407.2 147.8a1.75 1.75 0 1 0 3.5 0a1.75 1.75 0 1 0 -3.5 0M439.1 150.7a1.75 1.75 0 1 0 3.5 0a1.75 1.75 0 1 0 -3.5 0M457.5 183.6a1.75 1.75 0 1 0 3.5 0a1.75 1.75 0 1 0 -3.5 0M454.9 138.1a1.75 1.75 0 1 0 3.5 0a1.75 1.75 0 1 0 -3.5 0M408.1 179.5a1.75 1.75 0 1 0 3.5 0a1.75 1.75 0 1 0 -3.5 0M456.5 176.3a1.75 1.75 0 1 0 3.5 0a1.75 1.75 0 1 0 -3.5 0M422.8 167.5a1.75 1.75 0 1 0 3.5 0a1.75 1.75 0 1 0 -3.5 0M429.7 189.7a1.75 1.75 0 1 0 3.5 0a1.75 1.75 0 1 0 -3.5 0M506.7 176.1a1.75 1.75 0 1 0 3.5 0a1.75 1.75 0 1 0 -3.5 0M417.6 175.2a1.75 1.75 0 1 0 3.5 0a1.75 1.75 0 1 0 -3.5 0M442.2 129.5a1.75 1.75 0 1 0 3.5 0a1.75 1.75 0 1 0 -3.5 0M477.9 127.7a1.75 1.75 0 1 0 3.5 0a1.75 1.75 0 1 0 -3.5 0M471.4 173.9a1.75 1.75 0 1 0 3.5 0a1.75 1.75 0 1 0 -3.5 0M453.5 126.6a1.75 1.75 0 1 0 3.5 0a1.75 1.75 0 1 0 -3.5 0M495.5 166.5a1.75 1.75 0 1 0 3.5 0a1.75 1.75 0 1 0 -3.5 0M431.5 160.2a1.75 1.75 0 1 0 3.5 0a1.75 1.75 0 1 0 -3.5 0M456.1 145.3a1.75 1.75 0 1 0 3.5 0a1.75 1.75 0 1 0 -3.5 0M489.1 158.3a1.75 1.75 0 1 0 3.5 0a1.75 1.75 0 1 0 -3.5 0M473.1 104.3a1.75 1.75 0 1 0 3.5 0a1.75 1.75 0 1 0 -3.5 0M471.9 160.8a1.75 1.75 0 1 0 3.5 0a1.75 1.75 0 1 0 -3.5 0M434.6 200.9a1.75 1.75 0 1 0 3.5 0a1.75 1.75 0 1 0 -3.5 0M446.5 135.0a1.75 1.75 0 1 0 3.5 0a1.75 1.75 0 1 0 -3.5 0M443.0 179.9a1.75 1.75 0 1 0 3.5 0a1.75 1.75 0 1 0 -3.5 0M480.6 174.4a1.75 1.75 0 1 0 3.5 0a1.75 1.75 0 1 0 -3.5 0M432.0 240.2a1.75 1.75 0 1 0 3.5 0a1.75 1.75 0 1 0 -3.5 0M437.4 143.6a1.75 1.75 0 1 0 3.5 0a1.75 1.75 0 1 0 -3.5 0M477.2 145.5a1.75 1.75 0 1 0 3.5 0a1.75 1.75 0 1 0 -3.5 0M450.6 147.9a1.75 1.75 0 1 0 3.5 0a1.75 1.75 0 1 0 -3.5 0M439.5 144.0a1.75 1.75 0 1 0 3.5 0a1.75 1.75 0 1 0 -3.5 0M501.3 121.0a1.75 1.75 0 1 0 3.5 0a1.75 1.75 0 1 0 -3.5 0M441.8 170.5a1.75 1.75 0 1 0 3.5 0a1.75 1.75 0 1 0 -3.5 0M490.4 141.4a1.75 1.75 0 1 0 3.5 0a1.75 1.75 0 1 0 -3.5 0M480.5 185.8a1.75 1.75 0 1 0 3.5 0a1.75 1.75 0 1 0 -3.5 0M437.3 178.8a1.75 1.75 0 1 0 3.5 0a1.75 1.75 0 1 0 -3.5 0M473.5 139.5a1.75 1.75 0 1 0 3.5 0a1.75 1.75 0 1 0 -3.5 0M388.1 163.0a1.75 1.75 0 1 0 3.5 0a1.75 1.75 0 1 0 -3.5 0M437.6 204.2a1.75 1.75 0 1 0 3.5 0a1.75 1.75 0 1 0 -3.5 0M515.8 154.5a1.75 1.75 0 1 0 3.5 0a1.75 1.75 0 1 0 -3.5 0M450.5 173.4a1.75 1.75 0 1 0 3.5 0a1.75 1.75 0 1 0 -3.5 0M448.5 190.1a1.75 1.75 0 1 0 3.5 0a1.75 1.75 0 1 0 -3.5 0M467.2 156.2a1.75 1.75 0 1 0 3.5 0a1.75 1.75 0 1 0 -3.5 0M463.8 178.2a1.75 1.75 0 1 0 3.5 0a1.75 1.75 0 1 0 -3.5 0M458.1 208.9a1.75 1.75 0 1 0 3.5 0a1.75 1.75 0 1 0 -3.5 0M431.5 198.9a1.75 1.75 0 1 0 3.5 0a1.75 1.75 0 1 0 -3.5 0M418.7 125.0a1.75 1.75 0 1 0 3.5 0a1.75 1.75 0 1 0 -3.5 0M417.0 210.5a1.75 1.75 0 1 0 3.5 0a1.75 1.75 0 1 0 -3.5 0M426.1 164.6a1.75 1.75 0 1 0 3.5 0a1.75 1.75 0 1 0 -3.5 0M434.5 154.0a1.75 1.75 0 1 0 3.5 0a1.75 1.75 0 1 0 -3.5 0M616.9 140.0a1.75 1.75 0 1 0 3.5 0a1.75 1.75 0 1 0 -3.5 0M443.2 201.0a1.75 1.75 0 1 0 3.5 0a1.75 1.75 0 1 0 -3.5 0M443.8 177.5a1.75 1.75 0 1 0 3.5 0a1.75 1.75 0 1 0 -3.5 0M433.9 166.2a1.75 1.75 0 1 0 3.5 0a1.75 1.75 0 1 0 -3.5 0M444.7 148.3a1.75 1.75 0 1 0 3.5 0a1.75 1.75 0 1 0 -3.5 0M537.1 179.1a1.75 1.75 0 1 0 3.5 0a1.75 1.75 0 1 0 -3.5 0M516.5 194.1a1.75 1.75 0 1 0 3.5 0a1.75 1.75 0 1 0 -3.5 0M441.3 143.3a1.75 1.75 0 1 0 3.5 0a1.75 1.75 0 1 0 -3.5 0M416.6 142.4a1.75 1.75 0 1 0 3.5 0a1.75 1.75 0 1 0 -3.5 0M512.7 154.5a1.75 1.75 0 1 0 3.5 0a1.75 1.75 0 1 0 -3.5 0M458.0 183.9a1.75 1.75 0 1 0 3.5 0a1.75 1.75 0 1 0 -3.5 0M473.2 156.4a1.75 1.75 0 1 0 3.5 0a1.75 1.75 0 1 0 -3.5 0M411.6 168.6a1.75 1.75 0 1 0 3.5 0a1.75 1.75 0 1 0 -3.5 0M515.1 142.2a1.75 1.75 0 1 0 3.5 0a1.75 1.75 0 1 0 -3.5 0M442.4 201.7a1.75 1.75 0 1 0 3.5 0a1.75 1.75 0 1 0 -3.5 0M449.9 165.7a1.75 1.75 0 1 0 3.5 0a1.75 1.75 0 1 0 -3.5 0M417.2 175.2a1.75 1.75 0 1 0 3.5 0a1.75 1.75 0 1 0 -3.5 0M440.8 198.2a1.75 1.75 0 1 0 3.5 0a1.75 1.75 0 1 0 -3.5 0M490.1 160.2a1.75 1.75 0 1 0 3.5 0a1.75 1.75 0 1 0 -3.5 0M493.7 164.6a1.75 1.75 0 1 0 3.5 0a1.75 1.75 0 1 0 -3.5 0M444.6 179.7a1.75 1.75 0 1 0 3.5 0a1.75 1.75 0 1 0 -3.5 0M481.7 156.1a1.75 1.75 0 1 0 3.5 0a1.75 1.75 0 1 0 -3.5 0M437.8 206.4a1.75 1.75 0 1 0 3.5 0a1.75 1.75 0 1 0 -3.5 0M443.9 170.5a1.75 1.75 0 1 0 3.5 0a1.75 1.75 0 1 0 -3.5 0M448.8 157.6a1.75 1.75 0 1 0 3.5 0a1.75 1.75 0 1 0 -3.5 0M430.2 162.8a1.75 1.75 0 1 0 3.5 0a1.75 1.75 0 1 0 -3.5 0M443.4 141.2a1.75 1.75 0 1 0 3.5 0a1.75 1.75 0 1 0 -3.5 0M464.4 198.9a1.75 1.75 0 1 0 3.5 0a1.75 1.75 0 1 0 -3.5 0M478.4 205.8a1.75 1.75 0 1 0 3.5 0a1.75 1.75 0 1 0 -3.5 0M403.1 165.9a1.75 1.75 0 1 0 3.5 0a1.75 1.75 0 1 0 -3.5 0M472.4 155.2a1.75 1.75 0 1 0 3.5 0a1.75 1.75 0 1 0 -3.5 0M490.8 110.6a1.75 1.75 0 1 0 3.5 0a1.75 1.75 0 1 0 -3.5 0M430.4 154.1a1.75 1.75 0 1 0 3.5 0a1.75 1.75 0 1 0 -3.5 0M414.2 194.0a1.75 1.75 0 1 0 3.5 0a1.75 1.75 0 1 0 -3.5 0M467.8 146.5a1.75 1.75 0 1 0 3.5 0a1.75 1.75 0 1 0 -3.5 0M425.5 192.5a1.75 1.75 0 1 0 3.5 0a1.75 1.75 0 1 0 -3.5 0M469.8 205.9a1.75 1.75 0 1 0 3.5 0a1.75 1.75 0 1 0 -3.5 0M430.8 102.3a1.75 1.75 0 1 0 3.5 0a1.75 1.75 0 1 0 -3.5 0M446.0 160.5a1.75 1.75 0 1 0 3.5 0a1.75 1.75 0 1 0 -3.5 0M423.0 152.1a1.75 1.75 0 1 0 3.5 0a1.75 1.75 0 1 0 -3.5 0M431.0 155.4a1.75 1.75 0 1 0 3.5 0a1.75 1.75 0 1 0 -3.5 0M452.0 121.5a1.75 1.75 0 1 0 3.5 0a1.75 1.75 0 1 0 -3.5 0M455.3 160.9a1.75 1.75 0 1 0 3.5 0a1.75 1.75 0 1 0 -3.5 0M425.3 138.9a1.75 1.75 0 1 0 3.5 0a1.75 1.75 0 1 0 -3.5 0M554.9 187.8a1.75 1.75 0 1 0 3.5 0a1.75 1.75 0 1 0 -3.5 0M416.4 207.3a1.75 1.75 0 1 0 3.5 0a1.75 1.75 0 1 0 -3.5 0M419.2 133.9a1.75 1.75 0 1 0 3.5 0a1.75 1.75 0 1 0 -3.5 0M428.7 131.9a1.75 1.75 0 1 0 3.5 0a1.75 1.75 0 1 0 -3.5 0M403.1 158.8a1.75 1.75 0 1 0 3.5 0a1.75 1.75 0 1 0 -3.5 0M437.9 163.7a1.75 1.75 0 1 0 3.5 0a1.75 1.75 0 1 0 -3.5 0M474.4 162.6a1.75 1.75 0 1 0 3.5 0a1.75 1.75 0 1 0 -3.5 0M472.8 184.9a1.75 1.75 0 1 0 3.5 0a1.75 1.75 0 1 0 -3.5 0M418.2 131.0a1.75 1.75 0 1 0 3.5 0a1.75 1.75 0 1 0 -3.5 0M407.2 154.7a1.75 1.75 0 1 0 3.5 0a1.75 1.75 0 1 0 -3.5 0M438.1 156.4a1.75 1.75 0 1 0 3.5 0a1.75 1.75 0 1 0 -3.5 0M484.0 156.4a1.75 1.75 0 1 0 3.5 0a1.75 1.75 0 1 0 -3.5 0M443.8 141.9a1.75 1.75 0 1 0 3.5 0a1.75 1.75 0 1 0 -3.5 0M527.7 149.9a1.75 1.75 0 1 0 3.5 0a1.75 1.75 0 1 0 -3.5 0M464.2 148.3a1.75 1.75 0 1 0 3.5 0a1.75 1.75 0 1 0 -3.5 0M445.8 199.4a1.75 1.75 0 1 0 3.5 0a1.75 1.75 0 1 0 -3.5 0M483.9 153.0a1.75 1.75 0 1 0 3.5 0a1.75 1.75 0 1 0 -3.5 0M487.7 109.1a1.75 1.75 0 1 0 3.5 0a1.75 1.75 0 1 0 -3.5 0M430.5 183.6a1.75 1.75 0 1 0 3.5 0a1.75 1.75 0 1 0 -3.5 0M427.0 173.7a1.75 1.75 0 1 0 3.5 0a1.75 1.75 0 1 0 -3.5 0M432.8 146.8a1.75 1.75 0 1 0 3.5 0a1.75 1.75 0 1 0 -3.5 0M436.9 144.8a1.75 1.75 0 1 0 3.5 0a1.75 1.75 0 1 0 -3.5 0M423.3 154.4a1.75 1.75 0 1 0 3.5 0a1.75 1.75 0 1 0 -3.5 0M439.1 211.5a1.75 1.75 0 1 0 3.5 0a1.75 1.75 0 1 0 -3.5 0M473.5 154.0a1.75 1.75 0 1 0 3.5 0a1.75 1.75 0 1 0 -3.5 0M411.2 202.3a1.75 1.75 0 1 0 3.5 0a1.75 1.75 0 1 0 -3.5 0M407.0 193.3a1.75 1.75 0 1 0 3.5 0a1.75 1.75 0 1 0 -3.5 0M426.1 156.2a1.75 1.75 0 1 0 3.5 0a1.75 1.75 0 1 0 -3.5 0M422.5 178.4a1.75 1.75 0 1 0 3.5 0a1.75 1.75 0 1 0 -3.5 0M552.0 140.2a1.75 1.75 0 1 0 3.5 0a1.75 1.75 0 1 0 -3.5 0M392.1 93.0a1.75 1.75 0 1 0 3.5 0a1.75 1.75 0 1 0 -3.5 0M422.9 150.5a1.75 1.75 0 1 0 3.5 0a1.75 1.75 0 1 0 -3.5 0M419.8 152.1a1.75 1.75 0 1 0 3.5 0a1.75 1.75 0 1 0 -3.5 0M433.7 193.2a1.75 1.75 0 1 0 3.5 0a1.75 1.75 0 1 0 -3.5 0M389.0 189.8a1.75 1.75 0 1 0 3.5 0a1.75 1.75 0 1 0 -3.5 0M436.6 197.3a1.75 1.75 0 1 0 3.5 0a1.75 1.75 0 1 0 -3.5 0M420.0 184.7a1.75 1.75 0 1 0 3.5 0a1.75 1.75 0 1 0 -3.5 0M427.9 198.7a1.75 1.75 0 1 0 3.5 0a1.75 1.75 0 1 0 -3.5 0M485.9 183.2a1.75 1.75 0 1 0 3.5 0a1.75 1.75 0 1 0 -3.5 0M420.7 176.2a1.75 1.75 0 1 0 3.5 0a1.75 1.75 0 1 0 -3.5 0M453.7 194.4a1.75 1.75 0 1 0 3.5 0a1.75 1.75 0 1 0 -3.5 0M443.3 206.1a1.75 1.75 0 1 0 3.5 0a1.75 1.75 0 1 0 -3.5 0M435.4 205.1a1.75 1.75 0 1 0 3.5 0a1.75 1.75 0 1 0 -3.5 0M496.1 153.5a1.75 1.75 0 1 0 3.5 0a1.75 1.75 0 1 0 -3.5 0M422.2 169.2a1.75 1.75 0 1 0 3.5 0a1.75 1.75 0 1 0 -3.5 0M526.4 136.5a1.75 1.75 0 1 0 3.5 0a1.75 1.75 0 1 0 -3.5 0M516.5 136.7a1.75 1.75 0 1 0 3.5 0a1.75 1.75 0 1 0 -3.5 0M461.2 176.7a1.75 1.75 0 1 0 3.5 0a1.75 1.75 0 1 0 -3.5 0M415.3 153.8a1.75 1.75 0 1 0 3.5 0a1.75 1.75 0 1 0 -3.5 0M468.8 204.8a1.75 1.75 0 1 0 3.5 0a1.75 1.75 0 1 0 -3.5 0M456.2 108.9a1.75 1.75 0 1 0 3.5 0a1.75 1.75 0 1 0 -3.5 0M482.8 135.2a1.75 1.75 0 1 0 3.5 0a1.75 1.75 0 1 0 -3.5 0M428.3 175.9a1.75 1.75 0 1 0 3.5 0a1.75 1.75 0 1 0 -3.5 0M550.7 191.6a1.75 1.75 0 1 0 3.5 0a1.75 1.75 0 1 0 -3.5 0M512.8 154.3a1.75 1.75 0 1 0 3.5 0a1.75 1.75 0 1 0 -3.5 0M405.1 220.6a1.75 1.75 0 1 0 3.5 0a1.75 1.75 0 1 0 -3.5 0M437.6 189.8a1.75 1.75 0 1 0 3.5 0a1.75 1.75 0 1 0 -3.5 0M396.7 153.1a1.75 1.75 0 1 0 3.5 0a1.75 1.75 0 1 0 -3.5 0M491.0 163.8a1.75 1.75 0 1 0 3.5 0a1.75 1.75 0 1 0 -3.5 0M517.9 176.5a1.75 1.75 0 1 0 3.5 0a1.75 1.75 0 1 0 -3.5 0M600.8 133.0a1.75 1.75 0 1 0 3.5 0a1.75 1.75 0 1 0 -3.5 0M456.4 195.2a1.75 1.75 0 1 0 3.5 0a1.75 1.75 0 1 0 -3.5 0M468.8 159.9a1.75 1.75 0 1 0 3.5 0a1.75 1.75 0 1 0 -3.5 0M463.8 180.6a1.75 1.75 0 1 0 3.5 0a1.75 1.75 0 1 0 -3.5 0M454.2 190.4a1.75 1.75 0 1 0 3.5 0a1.75 1.75 0 1 0 -3.5 0M532.7 150.6a1.75 1.75 0 1 0 3.5 0a1.75 1.75 0 1 0 -3.5 0M454.3 194.2a1.75 1.75 0 1 0 3.5 0a1.75 1.75 0 1 0 -3.5 0M438.6 120.1a1.75 1.75 0 1 0 3.5 0a1.75 1.75 0 1 0 -3.5 0M453.6 183.6a1.75 1.75 0 1 0 3.5 0a1.75 1.75 0 1 0 -3.5 0M393.3 121.1a1.75 1.75 0 1 0 3.5 0a1.75 1.75 0 1 0 -3.5 0M462.4 196.2a1.75 1.75 0 1 0 3.5 0a1.75 1.75 0 1 0 -3.5 0M469.7 151.5a1.75 1.75 0 1 0 3.5 0a1.75 1.75 0 1 0 -3.5 0M436.9 200.8a1.75 1.75 0 1 0 3.5 0a1.75 1.75 0 1 0 -3.5 0M498.9 200.0a1.75 1.75 0 1 0 3.5 0a1.75 1.75 0 1 0 -3.5 0M478.9 162.4a1.75 1.75 0 1 0 3.5 0a1.75 1.75 0 1 0 -3.5 0M431.5 152.4a1.75 1.75 0 1 0 3.5 0a1.75 1.75 0 1 0 -3.5 0M409.1 204.8a1.75 1.75 0 1 0 3.5 0a1.75 1.75 0 1 0 -3.5 0M410.3 140.8a1.75 1.75 0 1 0 3.5 0a1.75 1.75 0 1 0 -3.5 0M429.1 190.9a1.75 1.75 0 1 0 3.5 0a1.75 1.75 0 1 0 -3.5 0M428.6 166.8a1.75 1.75 0 1 0 3.5 0a1.75 1.75 0 1 0 -3.5 0M431.1 160.2a1.75 1.75 0 1 0 3.5 0a1.75 1.75 0 1 0 -3.5 0M528.2 147.6a1.75 1.75 0 1 0 3.5 0a1.75 1.75 0 1 0 -3.5 0M419.5 217.6a1.75 1.75 0 1 0 3.5 0a1.75 1.75 0 1 0 -3.5 0M512.7 122.1a1.75 1.75 0 1 0 3.5 0a1.75 1.75 0 1 0 -3.5 0M464.7 153.0a1.75 1.75 0 1 0 3.5 0a1.75 1.75 0 1 0 -3.5 0M492.8 176.6a1.75 1.75 0 1 0 3.5 0a1.75 1.75 0 1 0 -3.5 0M437.3 196.2a1.75 1.75 0 1 0 3.5 0a1.75 1.75 0 1 0 -3.5 0M394.5 216.7a1.75 1.75 0 1 0 3.5 0a1.75 1.75 0 1 0 -3.5 0M483.7 201.6a1.75 1.75 0 1 0 3.5 0a1.75 1.75 0 1 0 -3.5 0M425.0 156.4a1.75 1.75 0 1 0 3.5 0a1.75 1.75 0 1 0 -3.5 0M425.6 179.3a1.75 1.75 0 1 0 3.5 0a1.75 1.75 0 1 0 -3.5 0M479.2 196.0a1.75 1.75 0 1 0 3.5 0a1.75 1.75 0 1 0 -3.5 0M469.0 181.0a1.75 1.75 0 1 0 3.5 0a1.75 1.75 0 1 0 -3.5 0M420.8 130.2a1.75 1.75 0 1 0 3.5 0a1.75 1.75 0 1 0 -3.5 0M424.5 179.1a1.75 1.75 0 1 0 3.5 0a1.75 1.75 0 1 0 -3.5 0M538.2 177.5a1.75 1.75 0 1 0 3.5 0a1.75 1.75 0 1 0 -3.5 0M423.9 135.5a1.75 1.75 0 1 0 3.5 0a1.75 1.75 0 1 0 -3.5 0M459.4 156.0a1.75 1.75 0 1 0 3.5 0a1.75 1.75 0 1 0 -3.5 0M408.5 170.6a1.75 1.75 0 1 0 3.5 0a1.75 1.75 0 1 0 -3.5 0M491.3 181.5a1.75 1.75 0 1 0 3.5 0a1.75 1.75 0 1 0 -3.5 0M406.9 212.2a1.75 1.75 0 1 0 3.5 0a1.75 1.75 0 1 0 -3.5 0M445.8 199.4a1.75 1.75 0 1 0 3.5 0a1.75 1.75 0 1 0 -3.5 0M396.3 185.1a1.75 1.75 0 1 0 3.5 0a1.75 1.75 0 1 0 -3.5 0M457.6 173.8a1.75 1.75 0 1 0 3.5 0a1.75 1.75 0 1 0 -3.5 0M493.2 156.3a1.75 1.75 0 1 0 3.5 0a1.75 1.75 0 1 0 -3.5 0M402.8 157.8a1.75 1.75 0 1 0 3.5 0a1.75 1.75 0 1 0 -3.5 0M424.7 164.7a1.75 1.75 0 1 0 3.5 0a1.75 1.75 0 1 0 -3.5 0M475.5 161.1a1.75 1.75 0 1 0 3.5 0a1.75 1.75 0 1 0 -3.5 0M457.6 194.3a1.75 1.75 0 1 0 3.5 0a1.75 1.75 0 1 0 -3.5 0M432.0 226.0a1.75 1.75 0 1 0 3.5 0a1.75 1.75 0 1 0 -3.5 0M449.9 182.2a1.75 1.75 0 1 0 3.5 0a1.75 1.75 0 1 0 -3.5 0M437.4 194.4a1.75 1.75 0 1 0 3.5 0a1.75 1.75 0 1 0 -3.5 0M504.3 181.7a1.75 1.75 0 1 0 3.5 0a1.75 1.75 0 1 0 -3.5 0M420.4 178.0a1.75 1.75 0 1 0 3.5 0a1.75 1.75 0 1 0 -3.5 0M477.6 199.0a1.75 1.75 0 1 0 3.5 0a1.75 1.75 0 1 0 -3.5 0M455.0 197.2a1.75 1.75 0 1 0 3.5 0a1.75 1.75 0 1 0 -3.5 0M487.9 168.5a1.75 1.75 0 1 0 3.5 0a1.75 1.75 0 1 0 -3.5 0M435.5 166.7a1.75 1.75 0 1 0 3.5 0a1.75 1.75 0 1 0 -3.5 0M470.6 184.2a1.75 1.75 0 1 0 3.5 0a1.75 1.75 0 1 0 -3.5 0M461.2 154.9a1.75 1.75 0 1 0 3.5 0a1.75 1.75 0 1 0 -3.5 0M438.6 175.2a1.75 1.75 0 1 0 3.5 0a1.75 1.75 0 1 0 -3.5 0M393.1 199.3a1.75 1.75 0 1 0 3.5 0a1.75 1.75 0 1 0 -3.5 0M550.1 160.4a1.75 1.75 0 1 0 3.5 0a1.75 1.75 0 1 0 -3.5 0M471.1 118.3a1.75 1.75 0 1 0 3.5 0a1.75 1.75 0 1 0 -3.5 0M426.6 187.9a1.75 1.75 0 1 0 3.5 0a1.75 1.75 0 1 0 -3.5 0M461.1 137.6a1.75 1.75 0 1 0 3.5 0a1.75 1.75 0 1 0 -3.5 0M420.0 135.1a1.75 1.75 0 1 0 3.5 0a1.75 1.75 0 1 0 -3.5 0M442.1 130.3a1.75 1.75 0 1 0 3.5 0a1.75 1.75 0 1 0 -3.5 0M516.9 185.2a1.75 1.75 0 1 0 3.5 0a1.75 1.75 0 1 0 -3.5 0M439.1 117.1a1.75 1.75 0 1 0 3.5 0a1.75 1.75 0 1 0 -3.5 0M428.4 167.2a1.75 1.75 0 1 0 3.5 0a1.75 1.75 0 1 0 -3.5 0M430.0 176.7a1.75 1.75 0 1 0 3.5 0a1.75 1.75 0 1 0 -3.5 0M412.0 177.4a1.75 1.75 0 1 0 3.5 0a1.75 1.75 0 1 0 -3.5 0M425.1 154.9a1.75 1.75 0 1 0 3.5 0a1.75 1.75 0 1 0 -3.5 0M419.0 169.6a1.75 1.75 0 1 0 3.5 0a1.75 1.75 0 1 0 -3.5 0M421.1 175.4a1.75 1.75 0 1 0 3.5 0a1.75 1.75 0 1 0 -3.5 0M410.3 138.2a1.75 1.75 0 1 0 3.5 0a1.75 1.75 0 1 0 -3.5 0M443.6 187.9a1.75 1.75 0 1 0 3.5 0a1.75 1.75 0 1 0 -3.5 0M420.1 198.0a1.75 1.75 0 1 0 3.5 0a1.75 1.75 0 1 0 -3.5 0M479.4 146.0a1.75 1.75 0 1 0 3.5 0a1.75 1.75 0 1 0 -3.5 0M517.4 145.5a1.75 1.75 0 1 0 3.5 0a1.75 1.75 0 1 0 -3.5 0M425.8 142.0a1.75 1.75 0 1 0 3.5 0a1.75 1.75 0 1 0 -3.5 0M451.1 196.5a1.75 1.75 0 1 0 3.5 0a1.75 1.75 0 1 0 -3.5 0M456.2 140.1a1.75 1.75 0 1 0 3.5 0a1.75 1.75 0 1 0 -3.5 0M404.7 159.5a1.75 1.75 0 1 0 3.5 0a1.75 1.75 0 1 0 -3.5 0M410.8 125.7a1.75 1.75 0 1 0 3.5 0a1.75 1.75 0 1 0 -3.5 0M512.3 196.6a1.75 1.75 0 1 0 3.5 0a1.75 1.75 0 1 0 -3.5 0M436.9 164.0a1.75 1.75 0 1 0 3.5 0a1.75 1.75 0 1 0 -3.5 0M490.8 172.9a1.75 1.75 0 1 0 3.5 0a1.75 1.75 0 1 0 -3.5 0M407.1 213.1a1.75 1.75 0 1 0 3.5 0a1.75 1.75 0 1 0 -3.5 0M455.5 186.9a1.75 1.75 0 1 0 3.5 0a1.75 1.75 0 1 0 -3.5 0M505.3 135.4a1.75 1.75 0 1 0 3.5 0a1.75 1.75 0 1 0 -3.5 0M503.9 177.0a1.75 1.75 0 1 0 3.5 0a1.75 1.75 0 1 0 -3.5 0M393.5 191.6a1.75 1.75 0 1 0 3.5 0a1.75 1.75 0 1 0 -3.5 0M448.1 146.3a1.75 1.75 0 1 0 3.5 0a1.75 1.75 0 1 0 -3.5 0M441.8 143.6a1.75 1.75 0 1 0 3.5 0a1.75 1.75 0 1 0 -3.5 0M485.5 140.5a1.75 1.75 0 1 0 3.5 0a1.75 1.75 0 1 0 -3.5 0M415.0 191.8a1.75 1.75 0 1 0 3.5 0a1.75 1.75 0 1 0 -3.5 0M427.9 171.8a1.75 1.75 0 1 0 3.5 0a1.75 1.75 0 1 0 -3.5 0M497.5 138.5a1.75 1.75 0 1 0 3.5 0a1.75 1.75 0 1 0 -3.5 0M432.9 187.0a1.75 1.75 0 1 0 3.5 0a1.75 1.75 0 1 0 -3.5 0M442.1 188.7a1.75 1.75 0 1 0 3.5 0a1.75 1.75 0 1 0 -3.5 0M571.0 138.4a1.75 1.75 0 1 0 3.5 0a1.75 1.75 0 1 0 -3.5 0M441.0 128.7a1.75 1.75 0 1 0 3.5 0a1.75 1.75 0 1 0 -3.5 0M411.4 201.4a1.75 1.75 0 1 0 3.5 0a1.75 1.75 0 1 0 -3.5 0M442.2 236.8a1.75 1.75 0 1 0 3.5 0a1.75 1.75 0 1 0 -3.5 0M420.1 208.6a1.75 1.75 0 1 0 3.5 0a1.75 1.75 0 1 0 -3.5 0M411.0 197.8a1.75 1.75 0 1 0 3.5 0a1.75 1.75 0 1 0 -3.5 0M452.2 172.1a1.75 1.75 0 1 0 3.5 0a1.75 1.75 0 1 0 -3.5 0M550.9 145.4a1.75 1.75 0 1 0 3.5 0a1.75 1.75 0 1 0 -3.5 0M449.4 172.5a1.75 1.75 0 1 0 3.5 0a1.75 1.75 0 1 0 -3.5 0M461.4 186.1a1.75 1.75 0 1 0 3.5 0a1.75 1.75 0 1 0 -3.5 0M437.3 165.6a1.75 1.75 0 1 0 3.5 0a1.75 1.75 0 1 0 -3.5 0M450.0 193.7a1.75 1.75 0 1 0 3.5 0a1.75 1.75 0 1 0 -3.5 0M479.7 167.8a1.75 1.75 0 1 0 3.5 0a1.75 1.75 0 1 0 -3.5 0M457.0 184.9a1.75 1.75 0 1 0 3.5 0a1.75 1.75 0 1 0 -3.5 0M483.5 96.6a1.75 1.75 0 1 0 3.5 0a1.75 1.75 0 1 0 -3.5 0M454.5 147.1a1.75 1.75 0 1 0 3.5 0a1.75 1.75 0 1 0 -3.5 0M430.0 191.8a1.75 1.75 0 1 0 3.5 0a1.75 1.75 0 1 0 -3.5 0M447.8 194.8a1.75 1.75 0 1 0 3.5 0a1.75 1.75 0 1 0 -3.5 0M437.6 181.0a1.75 1.75 0 1 0 3.5 0a1.75 1.75 0 1 0 -3.5 0M417.1 213.8a1.75 1.75 0 1 0 3.5 0a1.75 1.75 0 1 0 -3.5 0M450.4 187.6a1.75 1.75 0 1 0 3.5 0a1.75 1.75 0 1 0 -3.5 0M501.9 184.1a1.75 1.75 0 1 0 3.5 0a1.75 1.75 0 1 0 -3.5 0M402.5 149.2a1.75 1.75 0 1 0 3.5 0a1.75 1.75 0 1 0 -3.5 0M455.7 179.4a1.75 1.75 0 1 0 3.5 0a1.75 1.75 0 1 0 -3.5 0M471.7 187.7a1.75 1.75 0 1 0 3.5 0a1.75 1.75 0 1 0 -3.5 0M437.6 204.4a1.75 1.75 0 1 0 3.5 0a1.75 1.75 0 1 0 -3.5 0M427.3 200.9a1.75 1.75 0 1 0 3.5 0a1.75 1.75 0 1 0 -3.5 0M436.6 171.4a1.75 1.75 0 1 0 3.5 0a1.75 1.75 0 1 0 -3.5 0M449.8 174.3a1.75 1.75 0 1 0 3.5 0a1.75 1.75 0 1 0 -3.5 0M466.5 138.0a1.75 1.75 0 1 0 3.5 0a1.75 1.75 0 1 0 -3.5 0M447.5 185.2a1.75 1.75 0 1 0 3.5 0a1.75 1.75 0 1 0 -3.5 0" fill="#ff0000" clip-path="url(#c01)"/>
<polygon points="388.57,200.27 620.07,183.57 620.07,131.11 388.57,148.18" fill="#ff0000" fill-opacity="0.3" stroke="#ff0000" stroke-opacity="0.3" stroke-width="1" clip-path="url(#c01)"/>
<path d="M388.57 174.04L620.07 157.34" stroke="#ff0000" stroke-width="4.77" fill="none" stroke-linecap="square" clip-path="url(#c01)"/>
<path d="M388.57 184.93L620.07 176.15" stroke="#000000" stroke-width="4.77" fill="none" stroke-linecap="butt" stroke-dasharray="17.65 7.63" clip-path="url(#c01)"/>
<rect x="413.36" y="163.02" width="10.9" height="10.9" fill="#32cd32" clip-path="url(#c01)"/>
<rect x="447.59" y="159.31" width="10.9" height="10.9" fill="#32cd32" clip-path="url(#c01)"/>
<rect x="509.95" y="156.59" width="10.9" height="10.9" fill="#32cd32" clip-path="url(#c01)"/>
<path d="M767.3 178.7a1.75 1.75 0 1 0 3.5 0a1.75 1.75 0 1 0 -3.5 0M835.4 178.2a1.75 1.75 0 1 0 3.5 0a1.75 1.75 0 1 0 -3.5 0M808.0 198.6a1.75 1.75 0 1 0 3.5 0a1.75 1.75 0 1 0 -3.5 0M738.3 98.5a1.75 1.75 0 1 0 3.5 0a1.75 1.75 0 1 0 -3.5 0M740.4 166.5a1.75 1.75 0 1 0 3.5 0a1.75 1.75 0 1 0 -3.5 0M826.1 175.4a1.75 1.75 0 1 0 3.5 0a1.75 1.75 0 1 0 -3.5 0M720.1 202.6a1.75 1.75 0 1 0 3.5 0a1.75 1.75 0 1 0 -3.5 0M822.3 225.5a1.75 1.75 0 1 0 3.5 0a1.75 1.75 0 1 0 -3.5 0M795.3 185.9a1.75 1.75 0 1 0 3.5 0a1.75 1.75 0 1 0 -3.5 0M756.1 176.8a1.75 1.75 0 1 0 3.5 0a1.75 1.75 0 1 0 -3.5 0M739.6 185.9a1.75 1.75 0 1 0 3.5 0a1.75 1.75 0 1 0 -3.5 0M743.6 189.5a1.75 1.75 0 1 0 3.5 0a1.75 1.75 0 1 0 -3.5 0M750.1 195.1a1.75 1.75 0 1 0 3.5 0a1.75 1.75 0 1 0 -3.5 0M752.3 165.0a1.75 1.75 0 1 0 3.5 0a1.75 1.75 0 1 0 -3.5 0M768.2 181.4a1.75 1.75 0 1 0 3.5 0a1.75 1.75 0 1 0 -3.5 0M772.8 177.7a1.75 1.75 0 1 0 3.5 0a1.75 1.75 0 1 0 -3.5 0M932.5 201.1a1.75 1.75 0 1 0 3.5 0a1.75 1.75 0 1 0 -3.5 0M805.4 193.6a1.75 1.75 0 1 0 3.5 0a1.75 1.75 0 1 0 -3.5 0M772.1 176.8a1.75 1.75 0 1 0 3.5 0a1.75 1.75 0 1 0 -3.5 0M912.5 201.8a1.75 1.75 0 1 0 3.5 0a1.75 1.75 0 1 0 -3.5 0M741.9 207.3a1.75 1.75 0 1 0 3.5 0a1.75 1.75 0 1 0 -3.5 0M751.0 187.4a1.75 1.75 0 1 0 3.5 0a1.75 1.75 0 1 0 -3.5 0M776.6 183.4a1.75 1.75 0 1 0 3.5 0a1.75 1.75 0 1 0 -3.5 0M724.0 176.2a1.75 1.75 0 1 0 3.5 0a1.75 1.75 0 1 0 -3.5 0M719.5 149.1a1.75 1.75 0 1 0 3.5 0a1.75 1.75 0 1 0 -3.5 0M770.2 183.1a1.75 1.75 0 1 0 3.5 0a1.75 1.75 0 1 0 -3.5 0M762.6 187.0a1.75 1.75 0 1 0 3.5 0a1.75 1.75 0 1 0 -3.5 0M838.3 210.1a1.75 1.75 0 1 0 3.5 0a1.75 1.75 0 1 0 -3.5 0M778.3 192.6a1.75 1.75 0 1 0 3.5 0a1.75 1.75 0 1 0 -3.5 0M768.1 149.6a1.75 1.75 0 1 0 3.5 0a1.75 1.75 0 1 0 -3.5 0M772.3 173.3a1.75 1.75 0 1 0 3.5 0a1.75 1.75 0 1 0 -3.5 0M746.4 164.6a1.75 1.75 0 1 0 3.5 0a1.75 1.75 0 1 0 -3.5 0M715.2 165.2a1.75 1.75 0 1 0 3.5 0a1.75 1.75 0 1 0 -3.5 0M739.2 180.5a1.75 1.75 0 1 0 3.5 0a1.75 1.75 0 1 0 -3.5 0M782.2 184.7a1.75 1.75 0 1 0 3.5 0a1.75 1.75 0 1 0 -3.5 0M740.9 177.8a1.75 1.75 0 1 0 3.5 0a1.75 1.75 0 1 0 -3.5 0M752.0 166.0a1.75 1.75 0 1 0 3.5 0a1.75 1.75 0 1 0 -3.5 0M711.0 170.5a1.75 1.75 0 1 0 3.5 0a1.75 1.75 0 1 0 -3.5 0M811.0 169.8a1.75 1.75 0 1 0 3.5 0a1.75 1.75 0 1 0 -3.5 0M743.5 145.4a1.75 1.75 0 1 0 3.5 0a1.75 1.75 0 1 0 -3.5 0M741.9 196.8a1.75 1.75 0 1 0 3.5 0a1.75 1.75 0 1 0 -3.5 0M832.1 185.9a1.75 1.75 0 1 0 3.5 0a1.75 1.75 0 1 0 -3.5 0M769.8 200.5a1.75 1.75 0 1 0 3.5 0a1.75 1.75 0 1 0 -3.5 0M809.6 158.8a1.75 1.75 0 1 0 3.5 0a1.75 1.75 0 1 0 -3.5 0M785.0 225.3a1.75 1.75 0 1 0 3.5 0a1.75 1.75 0 1 0 -3.5 0M805.6 185.0a1.75 1.75 0 1 0 3.5 0a1.75 1.75 0 1 0 -3.5 0M726.0 129.3a1.75 1.75 0 1 0 3.5 0a1.75 1.75 0 1 0 -3.5 0M771.6 187.6a1.75 1.75 0 1 0 3.5 0a1.75 1.75 0 1 0 -3.5 0M776.6 204.6a1.75 1.75 0 1 0 3.5 0a1.75 1.75 0 1 0 -3.5 0M829.5 180.7a1.75 1.75 0 1 0 3.5 0a1.75 1.75 0 1 0 -3.5 0M764.1 152.8a1.75 1.75 0 1 0 3.5 0a1.75 1.75 0 1 0 -3.5 0M779.0 126.2a1.75 1.75 0 1 0 3.5 0a1.75 1.75 0 1 0 -3.5 0M726.8 167.2a1.75 1.75 0 1 0 3.5 0a1.75 1.75 0 1 0 -3.5 0M761.9 178.2a1.75 1.75 0 1 0 3.5 0a1.75 1.75 0 1 0 -3.5 0M754.9 188.3a1.75 1.75 0 1 0 3.5 0a1.75 1.75 0 1 0 -3.5 0M738.8 113.0a1.75 1.75 0 1 0 3.5 0a1.75 1.75 0 1 0 -3.5 0M815.5 178.8a1.75 1.75 0 1 0 3.5 0a1.75 1.75 0 1 0 -3.5 0M760.0 191.8a1.75 1.75 0 1 0 3.5 0a1.75 1.75 0 1 0 -3.5 0M909.5 181.4a1.75 1.75 0 1 0 3.5 0a1.75 1.75 0 1 0 -3.5 0M767.8 172.2a1.75 1.75 0 1 0 3.5 0a1.75 1.75 0 1 0 -3.5 0M776.0 140.1a1.75 1.75 0 1 0 3.5 0a1.75 1.75 0 1 0 -3.5 0M787.1 163.8a1.75 1.75 0 1 0 3.5 0a1.75 1.75 0 1 0 -3.5 0M782.1 177.3a1.75 1.75 0 1 0 3.5 0a1.75 1.75 0 1 0 -3.5 0M750.9 210.9a1.75 1.75 0 1 0 3.5 0a1.75 1.75 0 1 0 -3.5 0M761.3 169.0a1.75 1.75 0 1 0 3.5 0a1.75 1.75 0 1 0 -3.5 0M738.7 186.9a1.75 1.75 0 1 0 3.5 0a1.75 1.75 0 1 0 -3.5 0M764.4 186.4a1.75 1.75 0 1 0 3.5 0a1.75 1.75 0 1 0 -3.5 0M723.8 212.0a1.75 1.75 0 1 0 3.5 0a1.75 1.75 0 1 0 -3.5 0M882.8 192.6a1.75 1.75 0 1 0 3.5 0a1.75 1.75 0 1 0 -3.5 0M741.6 195.9a1.75 1.75 0 1 0 3.5 0a1.75 1.75 0 1 0 -3.5 0M793.8 181.1a1.75 1.75 0 1 0 3.5 0a1.75 1.75 0 1 0 -3.5 0M737.3 211.4a1.75 1.75 0 1 0 3.5 0a1.75 1.75 0 1 0 -3.5 0M836.9 179.2a1.75 1.75 0 1 0 3.5 0a1.75 1.75 0 1 0 -3.5 0M789.0 177.7a1.75 1.75 0 1 0 3.5 0a1.75 1.75 0 1 0 -3.5 0M723.3 204.3a1.75 1.75 0 1 0 3.5 0a1.75 1.75 0 1 0 -3.5 0M817.4 193.7a1.75 1.75 0 1 0 3.5 0a1.75 1.75 0 1 0 -3.5 0M859.2 198.7a1.75 1.75 0 1 0 3.5 0a1.75 1.75 0 1 0 -3.5 0M831.8 160.9a1.75 1.75 0 1 0 3.5 0a1.75 1.75 0 1 0 -3.5 0M776.4 234.4a1.75 1.75 0 1 0 3.5 0a1.75 1.75 0 1 0 -3.5 0M746.6 187.7a1.75 1.75 0 1 0 3.5 0a1.75 1.75 0 1 0 -3.5 0M751.2 215.8a1.75 1.75 0 1 0 3.5 0a1.75 1.75 0 1 0 -3.5 0M840.3 189.6a1.75 1.75 0 1 0 3.5 0a1.75 1.75 0 1 0 -3.5 0M777.5 162.2a1.75 1.75 0 1 0 3.5 0a1.75 1.75 0 1 0 -3.5 0M742.7 193.8a1.75 1.75 0 1 0 3.5 0a1.75 1.75 0 1 0 -3.5 0M834.9 177.4a1.75 1.75 0 1 0 3.5 0a1.75 1.75 0 1 0 -3.5 0M793.1 198.4a1.75 1.75 0 1 0 3.5 0a1.75 1.75 0 1 0 -3.5 0M780.1 138.8a1.75 1.75 0 1 0 3.5 0a1.75 1.75 0 1 0 -3.5 0M755.1 160.8a1.75 1.75 0 1 0 3.5 0a1.75 1.75 0 1 0 -3.5 0M757.8 156.2a1.75 1.75 0 1 0 3.5 0a1.75 1.75 0 1 0 -3.5 0M750.4 208.7a1.75 1.75 0 1 0 3.5 0a1.75 1.75 0 1 0 -3.5 0M736.0 203.9a1.75 1.75 0 1 0 3.5 0a1.75 1.75 0 1 0 -3.5 0M829.0 157.2a1.75 1.75 0 1 0 3.5 0a1.75 1.75 0 1 0 -3.5 0M764.9 184.5a1.75 1.75 0 1 0 3.5 0a1.75 1.75 0 1 0 -3.5 0M771.6 185.8a1.75 1.75 0 1 0 3.5 0a1.75 1.75 0 1 0 -3.5 0M756.7 173.2a1.75 1.75 0 1 0 3.5 0a1.75 1.75 0 1 0 -3.5 0M805.6 207.2a1.75 1.75 0 1 0 3.5 0a1.75 1.75 0 1 0 -3.5 0M714.7 163.8a1.75 1.75 0 1 0 3.5 0a1.75 1.75 0 1 0 -3.5 0M757.7 179.9a1.75 1.75 0 1 0 3.5 0a1.75 1.75 0 1 0 -3.5 0M713.4 170.1a1.75 1.75 0 1 0 3.5 0a1.75 1.75 0 1 0 -3.5 0M728.6 194.7a1.75 1.75 0 1 0 3.5 0a1.75 1.75 0 1 0 -3.5 0M869.0 169.4a1.75 1.75 0 1 0 3.5 0a1.75 1.75 0 1 0 -3.5 0M781.1 154.7a1.75 1.75 0 1 0 3.5 0a1.75 1.75 0 1 0 -3.5 0M762.2 159.9a1.75 1.75 0 1 0 3.5 0a1.75 1.75 0 1 0 -3.5 0M773.9 156.2a1.75 1.75 0 1 0 3.5 0a1.75 1.75 0 1 0 -3.5 0M833.3 160.8a1.75 1.75 0 1 0 3.5 0a1.75 1.75 0 1 0 -3.5 0M762.9 169.3a1.75 1.75 0 1 0 3.5 0a1.75 1.75 0 1 0 -3.5 0M769.1 166.8a1.75 1.75 0 1 0 3.5 0a1.75 1.75 0 1 0 -3.5 0M783.6 238.2a1.75 1.75 0 1 0 3.5 0a1.75 1.75 0 1 0 -3.5 0M755.3 162.5a1.75 1.75 0 1 0 3.5 0a1.75 1.75 0 1 0 -3.5 0M770.1 186.2a1.75 1.75 0 1 0 3.5 0a1.75 1.75 0 1 0 -3.5 0M805.7 178.3a1.75 1.75 0 1 0 3.5 0a1.75 1.75 0 1 0 -3.5 0M843.5 199.5a1.75 1.75 0 1 0 3.5 0a1.75 1.75 0 1 0 -3.5 0M741.5 210.1a1.75 1.75 0 1 0 3.5 0a1.75 1.75 0 1 0 -3.5 0M847.3 191.8a1.75 1.75 0 1 0 3.5 0a1.75 1.75 0 1 0 -3.5 0M710.5 166.2a1.75 1.75 0 1 0 3.5 0a1.75 1.75 0 1 0 -3.5 0M796.2 150.0a1.75 1.75 0 1 0 3.5 0a1.75 1.75 0 1 0 -3.5 0M819.2 193.6a1.75 1.75 0 1 0 3.5 0a1.75 1.75 0 1 0 -3.5 0M733.3 199.7a1.75 1.75 0 1 0 3.5 0a1.75 1.75 0 1 0 -3.5 0M755.5 149.3a1.75 1.75 0 1 0 3.5 0a1.75 1.75 0 1 0 -3.5 0M818.3 126.7a1.75 1.75 0 1 0 3.5 0a1.75 1.75 0 1 0 -3.5 0M708.3 136.0a1.75 1.75 0 1 0 3.5 0a1.75 1.75 0 1 0 -3.5 0M771.6 179.2a1.75 1.75 0 1 0 3.5 0a1.75 1.75 0 1 0 -3.5 0M803.0 199.2a1.75 1.75 0 1 0 3.5 0a1.75 1.75 0 1 0 -3.5 0M769.4 159.3a1.75 1.75 0 1 0 3.5 0a1.75 1.75 0 1 0 -3.5 0M785.2 144.1a1.75 1.75 0 1 0 3.5 0a1.75 1.75 0 1 0 -3.5 0M745.6 211.0a1.75 1.75 0 1 0 3.5 0a1.75 1.75 0 1 0 -3.5 0M745.3 190.2a1.75 1.75 0 1 0 3.5 0a1.75 1.75 0 1 0 -3.5 0M753.5 186.3a1.75 1.75 0 1 0 3.5 0a1.75 1.75 0 1 0 -3.5 0M747.0 148.5a1.75 1.75 0 1 0 3.5 0a1.75 1.75 0 1 0 -3.5 0M752.4 188.5a1.75 1.75 0 1 0 3.5 0a1.75 1.75 0 1 0 -3.5 0M866.6 214.1a1.75 1.75 0 1 0 3.5 0a1.75 1.75 0 1 0 -3.5 0M768.7 169.6a1.75 1.75 0 1 0 3.5 0a1.75 1.75 0 1 0 -3.5 0M754.9 160.5a1.75 1.75 0 1 0 3.5 0a1.75 1.75 0 1 0 -3.5 0M739.7 135.5a1.75 1.75 0 1 0 3.5 0a1.75 1.75 0 1 0 -3.5 0M866.9 143.5a1.75 1.75 0 1 0 3.5 0a1.75 1.75 0 1 0 -3.5 0M755.4 165.5a1.75 1.75 0 1 0 3.5 0a1.75 1.75 0 1 0 -3.5 0M904.7 185.4a1.75 1.75 0 1 0 3.5 0a1.75 1.75 0 1 0 -3.5 0M780.1 191.5a1.75 1.75 0 1 0 3.5 0a1.75 1.75 0 1 0 -3.5 0M779.5 186.6a1.75 1.75 0 1 0 3.5 0a1.75 1.75 0 1 0 -3.5 0M824.2 198.1a1.75 1.75 0 1 0 3.5 0a1.75 1.75 0 1 0 -3.5 0M802.2 186.2a1.75 1.75 0 1 0 3.5 0a1.75 1.75 0 1 0 -3.5 0M774.4 234.7a1.75 1.75 0 1 0 3.5 0a1.75 1.75 0 1 0 -3.5 0M761.4 176.5a1.75 1.75 0 1 0 3.5 0a1.75 1.75 0 1 0 -3.5 0M828.5 180.9a1.75 1.75 0 1 0 3.5 0a1.75 1.75 0 1 0 -3.5 0M756.0 125.5a1.75 1.75 0 1 0 3.5 0a1.75 1.75 0 1 0 -3.5 0M838.1 164.1a1.75 1.75 0 1 0 3.5 0a1.75 1.75 0 1 0 -3.5 0M722.8 190.6a1.75 1.75 0 1 0 3.5 0a1.75 1.75 0 1 0 -3.5 0M759.2 168.2a1.75 1.75 0 1 0 3.5 0a1.75 1.75 0 1 0 -3.5 0M766.8 206.5a1.75 1.75 0 1 0 3.5 0a1.75 1.75 0 1 0 -3.5 0M855.5 193.2a1.75 1.75 0 1 0 3.5 0a1.75 1.75 0 1 0 -3.5 0M741.6 220.3a1.75 1.75 0 1 0 3.5 0a1.75 1.75 0 1 0 -3.5 0M810.2 149.6a1.75 1.75 0 1 0 3.5 0a1.75 1.75 0 1 0 -3.5 0M780.6 191.7a1.75 1.75 0 1 0 3.5 0a1.75 1.75 0 1 0 -3.5 0M793.6 205.5a1.75 1.75 0 1 0 3.5 0a1.75 1.75 0 1 0 -3.5 0M772.0 181.6a1.75 1.75 0 1 0 3.5 0a1.75 1.75 0 1 0 -3.5 0M884.4 160.0a1.75 1.75 0 1 0 3.5 0a1.75 1.75 0 1 0 -3.5 0M761.5 169.7a1.75 1.75 0 1 0 3.5 0a1.75 1.75 0 1 0 -3.5 0M751.4 172.2a1.75 1.75 0 1 0 3.5 0a1.75 1.75 0 1 0 -3.5 0M740.3 198.7a1.75 1.75 0 1 0 3.5 0a1.75 1.75 0 1 0 -3.5 0M736.2 194.0a1.75 1.75 0 1 0 3.5 0a1.75 1.75 0 1 0 -3.5 0M749.8 147.1a1.75 1.75 0 1 0 3.5 0a1.75 1.75 0 1 0 -3.5 0M847.3 160.6a1.75 1.75 0 1 0 3.5 0a1.75 1.75 0 1 0 -3.5 0M810.5 198.1a1.75 1.75 0 1 0 3.5 0a1.75 1.75 0 1 0 -3.5 0M726.9 199.1a1.75 1.75 0 1 0 3.5 0a1.75 1.75 0 1 0 -3.5 0M766.1 155.9a1.75 1.75 0 1 0 3.5 0a1.75 1.75 0 1 0 -3.5 0M754.4 200.2a1.75 1.75 0 1 0 3.5 0a1.75 1.75 0 1 0 -3.5 0M766.1 157.3a1.75 1.75 0 1 0 3.5 0a1.75 1.75 0 1 0 -3.5 0M782.0 175.1a1.75 1.75 0 1 0 3.5 0a1.75 1.75 0 1 0 -3.5 0M745.9 161.5a1.75 1.75 0 1 0 3.5 0a1.75 1.75 0 1 0 -3.5 0M868.5 143.0a1.75 1.75 0 1 0 3.5 0a1.75 1.75 0 1 0 -3.5 0M753.5 165.6a1.75 1.75 0 1 0 3.5 0a1.75 1.75 0 1 0 -3.5 0M778.8 153.1a1.75 1.75 0 1 0 3.5 0a1.75 1.75 0 1 0 -3.5 0M770.6 200.0a1.75 1.75 0 1 0 3.5 0a1.75 1.75 0 1 0 -3.5 0M741.6 195.2a1.75 1.75 0 1 0 3.5 0a1.75 1.75 0 1 0 -3.5 0M723.6 166.6a1.75 1.75 0 1 0 3.5 0a1.75 1.75 0 1 0 -3.5 0M762.8 147.5a1.75 1.75 0 1 0 3.5 0a1.75 1.75 0 1 0 -3.5 0M804.4 150.6a1.75 1.75 0 1 0 3.5 0a1.75 1.75 0 1 0 -3.5 0M817.0 130.8a1.75 1.75 0 1 0 3.5 0a1.75 1.75 0 1 0 -3.5 0M789.1 173.7a1.75 1.75 0 1 0 3.5 0a1.75 1.75 0 1 0 -3.5 0M723.8 176.0a1.75 1.75 0 1 0 3.5 0a1.75 1.75 0 1 0 -3.5 0M841.8 158.8a1.75 1.75 0 1 0 3.5 0a1.75 1.75 0 1 0 -3.5 0M803.1 179.9a1.75 1.75 0 1 0 3.5 0a1.75 1.75 0 1 0 -3.5 0M837.4 181.7a1.75 1.75 0 1 0 3.5 0a1.75 1.75 0 1 0 -3.5 0M777.5 202.7a1.75 1.75 0 1 0 3.5 0a1.75 1.75 0 1 0 -3.5 0M847.3 159.1a1.75 1.75 0 1 0 3.5 0a1.75 1.75 0 1 0 -3.5 0M729.8 203.3a1.75 1.75 0 1 0 3.5 0a1.75 1.75 0 1 0 -3.5 0M708.1 169.4a1.75 1.75 0 1 0 3.5 0a1.75 1.75 0 1 0 -3.5 0M720.7 95.7a1.75 1.75 0 1 0 3.5 0a1.75 1.75 0 1 0 -3.5 0M737.8 156.9a1.75 1.75 0 1 0 3.5 0a1.75 1.75 0 1 0 -3.5 0M738.7 202.3a1.75 1.75 0 1 0 3.5 0a1.75 1.75 0 1 0 -3.5 0M746.8 162.3a1.75 1.75 0 1 0 3.5 0a1.75 1.75 0 1 0 -3.5 0M777.5 214.3a1.75 1.75 0 1 0 3.5 0a1.75 1.75 0 1 0 -3.5 0M733.7 189.7a1.75 1.75 0 1 0 3.5 0a1.75 1.75 0 1 0 -3.5 0M772.3 155.1a1.75 1.75 0 1 0 3.5 0a1.75 1.75 0 1 0 -3.5 0M739.3 197.5a1.75 1.75 0 1 0 3.5 0a1.75 1.75 0 1 0 -3.5 0M780.7 178.9a1.75 1.75 0 1 0 3.5 0a1.75 1.75 0 1 0 -3.5 0M720.2 190.6a1.75 1.75 0 1 0 3.5 0a1.75 1.75 0 1 0 -3.5 0M750.9 229.7a1.75 1.75 0 1 0 3.5 0a1.75 1.75 0 1 0 -3.5 0M856.1 173.7a1.75 1.75 0 1 0 3.5 0a1.75 1.75 0 1 0 -3.5 0M778.3 171.1a1.75 1.75 0 1 0 3.5 0a1.75 1.75 0 1 0 -3.5 0M815.0 204.0a1.75 1.75 0 1 0 3.5 0a1.75 1.75 0 1 0 -3.5 0M784.7 187.7a1.75 1.75 0 1 0 3.5 0a1.75 1.75 0 1 0 -3.5 0M773.0 197.3a1.75 1.75 0 1 0 3.5 0a1.75 1.75 0 1 0 -3.5 0M736.9 201.8a1.75 1.75 0 1 0 3.5 0a1.75 1.75 0 1 0 -3.5 0M772.1 180.2a1.75 1.75 0 1 0 3.5 0a1.75 1.75 0 1 0 -3.5 0M725.2 194.9a1.75 1.75 0 1 0 3.5 0a1.75 1.75 0 1 0 -3.5 0M805.0 131.3a1.75 1.75 0 1 0 3.5 0a1.75 1.75 0 1 0 -3.5 0M874.3 213.6a1.75 1.75 0 1 0 3.5 0a1.75 1.75 0 1 0 -3.5 0M821.7 164.5a1.75 1.75 0 1 0 3.5 0a1.75 1.75 0 1 0 -3.5 0M735.3 159.2a1.75 1.75 0 1 0 3.5 0a1.75 1.75 0 1 0 -3.5 0M755.8 222.7a1.75 1.75 0 1 0 3.5 0a1.75 1.75 0 1 0 -3.5 0M755.3 217.4a1.75 1.75 0 1 0 3.5 0a1.75 1.75 0 1 0 -3.5 0M735.9 168.3a1.75 1.75 0 1 0 3.5 0a1.75 1.75 0 1 0 -3.5 0M773.0 190.6a1.75 1.75 0 1 0 3.5 0a1.75 1.75 0 1 0 -3.5 0M796.1 172.1a1.75 1.75 0 1 0 3.5 0a1.75 1.75 0 1 0 -3.5 0M751.9 156.0a1.75 1.75 0 1 0 3.5 0a1.75 1.75 0 1 0 -3.5 0M837.9 188.3a1.75 1.75 0 1 0 3.5 0a1.75 1.75 0 1 0 -3.5 0M803.0 203.1a1.75 1.75 0 1 0 3.5 0a1.75 1.75 0 1 0 -3.5 0M723.1 238.7a1.75 1.75 0 1 0 3.5 0a1.75 1.75 0 1 0 -3.5 0M802.1 176.0a1.75 1.75 0 1 0 3.5 0a1.75 1.75 0 1 0 -3.5 0M830.9 200.2a1.75 1.75 0 1 0 3.5 0a1.75 1.75 0 1 0 -3.5 0M743.1 173.6a1.75 1.75 0 1 0 3.5 0a1.75 1.75 0 1 0 -3.5 0M779.5 175.4a1.75 1.75 0 1 0 3.5 0a1.75 1.75 0 1 0 -3.5 0M793.9 209.9a1.75 1.75 0 1 0 3.5 0a1.75 1.75 0 1 0 -3.5 0M767.5 143.5a1.75 1.75 0 1 0 3.5 0a1.75 1.75 0 1 0 -3.5 0M724.5 157.2a1.75 1.75 0 1 0 3.5 0a1.75 1.75 0 1 0 -3.5 0M786.1 162.2a1.75 1.75 0 1 0 3.5 0a1.75 1.75 0 1 0 -3.5 0M777.8 166.8a1.75 1.75 0 1 0 3.5 0a1.75 1.75 0 1 0 -3.5 0M818.2 189.0a1.75 1.75 0 1 0 3.5 0a1.75 1.75 0 1 0 -3.5 0M819.7 192.0a1.75 1.75 0 1 0 3.5 0a1.75 1.75 0 1 0 -3.5 0M759.6 189.2a1.75 1.75 0 1 0 3.5 0a1.75 1.75 0 1 0 -3.5 0M783.2 204.4a1.75 1.75 0 1 0 3.5 0a1.75 1.75 0 1 0 -3.5 0M835.4 171.0a1.75 1.75 0 1 0 3.5 0a1.75 1.75 0 1 0 -3.5 0M823.8 175.4a1.75 1.75 0 1 0 3.5 0a1.75 1.75 0 1 0 -3.5 0M746.9 172.5a1.75 1.75 0 1 0 3.5 0a1.75 1.75 0 1 0 -3.5 0M710.7 191.1a1.75 1.75 0 1 0 3.5 0a1.75 1.75 0 1 0 -3.5 0M787.0 152.7a1.75 1.75 0 1 0 3.5 0a1.75 1.75 0 1 0 -3.5 0M750.9 176.3a1.75 1.75 0 1 0 3.5 0a1.75 1.75 0 1 0 -3.5 0M773.5 238.9a1.75 1.75 0 1 0 3.5 0a1.75 1.75 0 1 0 -3.5 0M853.4 194.0a1.75 1.75 0 1 0 3.5 0a1.75 1.75 0 1 0 -3.5 0M757.5 181.5a1.75 1.75 0 1 0 3.5 0a1.75 1.75 0 1 0 -3.5 0M746.3 159.7a1.75 1.75 0 1 0 3.5 0a1.75 1.75 0 1 0 -3.5 0M752.1 186.8a1.75 1.75 0 1 0 3.5 0a1.75 1.75 0 1 0 -3.5 0M783.8 185.7a1.75 1.75 0 1 0 3.5 0a1.75 1.75 0 1 0 -3.5 0M722.6 194.5a1.75 1.75 0 1 0 3.5 0a1.75 1.75 0 1 0 -3.5 0M759.1 166.1a1.75 1.75 0 1 0 3.5 0a1.75 1.75 0 1 0 -3.5 0M727.8 189.9a1.75 1.75 0 1 0 3.5 0a1.75 1.75 0 1 0 -3.5 0M787.5 193.2a1.75 1.75 0 1 0 3.5 0a1.75 1.75 0 1 0 -3.5 0M813.4 196.2a1.75 1.75 0 1 0 3.5 0a1.75 1.75 0 1 0 -3.5 0M760.8 168.4a1.75 1.75 0 1 0 3.5 0a1.75 1.75 0 1 0 -3.5 0M753.8 191.7a1.75 1.75 0 1 0 3.5 0a1.75 1.75 0 1 0 -3.5 0M778.8 216.2a1.75 1.75 0 1 0 3.5 0a1.75 1.75 0 1 0 -3.5 0M750.7 167.0a1.75 1.75 0 1 0 3.5 0a1.75 1.75 0 1 0 -3.5 0M743.9 195.3a1.75 1.75 0 1 0 3.5 0a1.75 1.75 0 1 0 -3.5 0M758.0 172.7a1.75 1.75 0 1 0 3.5 0a1.75 1.75 0 1 0 -3.5 0M763.7 172.3a1.75 1.75 0 1 0 3.5 0a1.75 1.75 0 1 0 -3.5 0M726.5 154.6a1.75 1.75 0 1 0 3.5 0a1.75 1.75 0 1 0 -3.5 0M806.3 158.0a1.75 1.75 0 1 0 3.5 0a1.75 1.75 0 1 0 -3.5 0M769.9 192.6a1.75 1.75 0 1 0 3.5 0a1.75 1.75 0 1 0 -3.5 0M747.2 183.9a1.75 1.75 0 1 0 3.5 0a1.75 1.75 0 1 0 -3.5 0M727.2 207.9a1.75 1.75 0 1 0 3.5 0a1.75 1.75 0 1 0 -3.5 0M803.4 144.5a1.75 1.75 0 1 0 3.5 0a1.75 1.75 0 1 0 -3.5 0M735.7 170.9a1.75 1.75 0 1 0 3.5 0a1.75 1.75 0 1 0 -3.5 0M723.1 150.5a1.75 1.75 0 1 0 3.5 0a1.75 1.75 0 1 0 -3.5 0M734.0 187.1a1.75 1.75 0 1 0 3.5 0a1.75 1.75 0 1 0 -3.5 0M730.2 224.1a1.75 1.75 0 1 0 3.5 0a1.75 1.75 0 1 0 -3.5 0M843.6 147.6a1.75 1.75 0 1 0 3.5 0a1.75 1.75 0 1 0 -3.5 0M741.9 178.3a1.75 1.75 0 1 0 3.5 0a1.75 1.75 0 1 0 -3.5 0M737.8 177.5a1.75 1.75 0 1 0 3.5 0a1.75 1.75 0 1 0 -3.5 0M812.9 179.1a1.75 1.75 0 1 0 3.5 0a1.75 1.75 0 1 0 -3.5 0M774.7 131.1a1.75 1.75 0 1 0 3.5 0a1.75 1.75 0 1 0 -3.5 0M738.2 168.9a1.75 1.75 0 1 0 3.5 0a1.75 1.75 0 1 0 -3.5 0M760.9 214.3a1.75 1.75 0 1 0 3.5 0a1.75 1.75 0 1 0 -3.5 0M837.5 157.1a1.75 1.75 0 1 0 3.5 0a1.75 1.75 0 1 0 -3.5 0M765.4 191.6a1.75 1.75 0 1 0 3.5 0a1.75 1.75 0 1 0 -3.5 0M793.1 190.3a1.75 1.75 0 1 0 3.5 0a1.75 1.75 0 1 0 -3.5 0M734.0 143.4a1.75 1.75 0 1 0 3.5 0a1.75 1.75 0 1 0 -3.5 0M782.8 160.6a1.75 1.75 0 1 0 3.5 0a1.75 1.75 0 1 0 -3.5 0M808.7 187.6a1.75 1.75 0 1 0 3.5 0a1.75 1.75 0 1 0 -3.5 0M812.1 220.0a1.75 1.75 0 1 0 3.5 0a1.75 1.75 0 1 0 -3.5 0M792.8 176.9a1.75 1.75 0 1 0 3.5 0a1.75 1.75 0 1 0 -3.5 0M764.0 168.8a1.75 1.75 0 1 0 3.5 0a1.75 1.75 0 1 0 -3.5 0M731.3 182.0a1.75 1.75 0 1 0 3.5 0a1.75 1.75 0 1 0 -3.5 0M773.3 207.0a1.75 1.75 0 1 0 3.5 0a1.75 1.75 0 1 0 -3.5 0M797.6 197.2a1.75 1.75 0 1 0 3.5 0a1.75 1.75 0 1 0 -3.5 0M744.3 207.2a1.75 1.75 0 1 0 3.5 0a1.75 1.75 0 1 0 -3.5 0M741.0 175.7a1.75 1.75 0 1 0 3.5 0a1.75 1.75 0 1 0 -3.5 0M767.5 162.8a1.75 1.75 0 1 0 3.5 0a1.75 1.75 0 1 0 -3.5 0M796.5 158.4a1.75 1.75 0 1 0 3.5 0a1.75 1.75 0 1 0 -3.5 0M835.2 141.7a1.75 1.75 0 1 0 3.5 0a1.75 1.75 0 1 0 -3.5 0M735.7 175.3a1.75 1.75 0 1 0 3.5 0a1.75 1.75 0 1 0 -3.5 0M738.8 168.5a1.75 1.75 0 1 0 3.5 0a1.75 1.75 0 1 0 -3.5 0M794.9 191.3a1.75 1.75 0 1 0 3.5 0a1.75 1.75 0 1 0 -3.5 0M784.0 183.3a1.75 1.75 0 1 0 3.5 0a1.75 1.75 0 1 0 -3.5 0M782.1 134.9a1.75 1.75 0 1 0 3.5 0a1.75 1.75 0 1 0 -3.5 0M927.6 175.9a1.75 1.75 0 1 0 3.5 0a1.75 1.75 0 1 0 -3.5 0M861.0 161.4a1.75 1.75 0 1 0 3.5 0a1.75 1.75 0 1 0 -3.5 0M815.2 189.6a1.75 1.75 0 1 0 3.5 0a1.75 1.75 0 1 0 -3.5 0M800.9 179.4a1.75 1.75 0 1 0 3.5 0a1.75 1.75 0 1 0 -3.5 0M754.2 217.0a1.75 1.75 0 1 0 3.5 0a1.75 1.75 0 1 0 -3.5 0M789.8 180.9a1.75 1.75 0 1 0 3.5 0a1.75 1.75 0 1 0 -3.5 0M741.0 154.8a1.75 1.75 0 1 0 3.5 0a1.75 1.75 0 1 0 -3.5 0M800.4 135.4a1.75 1.75 0 1 0 3.5 0a1.75 1.75 0 1 0 -3.5 0M801.4 154.7a1.75 1.75 0 1 0 3.5 0a1.75 1.75 0 1 0 -3.5 0M793.3 165.6a1.75 1.75 0 1 0 3.5 0a1.75 1.75 0 1 0 -3.5 0M754.8 179.2a1.75 1.75 0 1 0 3.5 0a1.75 1.75 0 1 0 -3.5 0M761.7 193.2a1.75 1.75 0 1 0 3.5 0a1.75 1.75 0 1 0 -3.5 0M755.7 183.8a1.75 1.75 0 1 0 3.5 0a1.75 1.75 0 1 0 -3.5 0M720.8 167.2a1.75 1.75 0 1 0 3.5 0a1.75 1.75 0 1 0 -3.5 0M814.8 197.1a1.75 1.75 0 1 0 3.5 0a1.75 1.75 0 1 0 -3.5 0M773.0 160.4a1.75 1.75 0 1 0 3.5 0a1.75 1.75 0 1 0 -3.5 0M763.9 201.4a1.75 1.75 0 1 0 3.5 0a1.75 1.75 0 1 0 -3.5 0M775.5 218.4a1.75 1.75 0 1 0 3.5 0a1.75 1.75 0 1 0 -3.5 0M781.6 202.0a1.75 1.75 0 1 0 3.5 0a1.75 1.75 0 1 0 -3.5 0M753.2 215.9a1.75 1.75 0 1 0 3.5 0a1.75 1.75 0 1 0 -3.5 0M823.5 209.7a1.75 1.75 0 1 0 3.5 0a1.75 1.75 0 1 0 -3.5 0M838.5 156.1a1.75 1.75 0 1 0 3.5 0a1.75 1.75 0 1 0 -3.5 0M755.6 184.6a1.75 1.75 0 1 0 3.5 0a1.75 1.75 0 1 0 -3.5 0M736.2 195.2a1.75 1.75 0 1 0 3.5 0a1.75 1.75 0 1 0 -3.5 0M794.9 155.6a1.75 1.75 0 1 0 3.5 0a1.75 1.75 0 1 0 -3.5 0M912.7 153.4a1.75 1.75 0 1 0 3.5 0a1.75 1.75 0 1 0 -3.5 0M739.9 191.1a1.75 1.75 0 1 0 3.5 0a1.75 1.75 0 1 0 -3.5 0M781.4 151.9a1.75 1.75 0 1 0 3.5 0a1.75 1.75 0 1 0 -3.5 0M816.0 172.1a1.75 1.75 0 1 0 3.5 0a1.75 1.75 0 1 0 -3.5 0M846.6 180.3a1.75 1.75 0 1 0 3.5 0a1.75 1.75 0 1 0 -3.5 0M726.9 170.9a1.75 1.75 0 1 0 3.5 0a1.75 1.75 0 1 0 -3.5 0M723.9 210.8a1.75 1.75 0 1 0 3.5 0a1.75 1.75 0 1 0 -3.5 0M922.1 197.1a1.75 1.75 0 1 0 3.5 0a1.75 1.75 0 1 0 -3.5 0M734.0 182.6a1.75 1.75 0 1 0 3.5 0a1.75 1.75 0 1 0 -3.5 0M744.9 167.3a1.75 1.75 0 1 0 3.5 0a1.75 1.75 0 1 0 -3.5 0M767.7 188.3a1.75 1.75 0 1 0 3.5 0a1.75 1.75 0 1 0 -3.5 0M759.1 183.0a1.75 1.75 0 1 0 3.5 0a1.75 1.75 0 1 0 -3.5 0M803.8 159.6a1.75 1.75 0 1 0 3.5 0a1.75 1.75 0 1 0 -3.5 0M743.0 150.1a1.75 1.75 0 1 0 3.5 0a1.75 1.75 0 1 0 -3.5 0M850.6 163.9a1.75 1.75 0 1 0 3.5 0a1.75 1.75 0 1 0 -3.5 0M742.4 153.2a1.75 1.75 0 1 0 3.5 0a1.75 1.75 0 1 0 -3.5 0M802.1 189.0a1.75 1.75 0 1 0 3.5 0a1.75 1.75 0 1 0 -3.5 0M724.0 186.9a1.75 1.75 0 1 0 3.5 0a1.75 1.75 0 1 0 -3.5 0M759.4 235.1a1.75 1.75 0 1 0 3.5 0a1.75 1.75 0 1 0 -3.5 0M718.9 186.8a1.75 1.75 0 1 0 3.5 0a1.75 1.75 0 1 0 -3.5 0M761.8 191.2a1.75 1.75 0 1 0 3.5 0a1.75 1.75 0 1 0 -3.5 0M755.0 145.0a1.75 1.75 0 1 0 3.5 0a1.75 1.75 0 1 0 -3.5 0M794.5 184.6a1.75 1.75 0 1 0 3.5 0a1.75 1.75 0 1 0 -3.5 0M761.7 201.0a1.75 1.75 0 1 0 3.5 0a1.75 1.75 0 1 0 -3.5 0M728.4 169.9a1.75 1.75 0 1 0 3.5 0a1.75 1.75 0 1 0 -3.5 0M930.9 141.1a1.75 1.75 0 1 0 3.5 0a1.75 1.75 0 1 0 -3.5 0M834.9 178.6a1.75 1.75 0 1 0 3.5 0a1.75 1.75 0 1 0 -3.5 0M840.6 154.0a1.75 1.75 0 1 0 3.5 0a1.75 1.75 0 1 0 -3.5 0M746.0 189.7a1.75 1.75 0 1 0 3.5 0a1.75 1.75 0 1 0 -3.5 0M761.7 190.8a1.75 1.75 0 1 0 3.5 0a1.75 1.75 0 1 0 -3.5 0M744.3 195.1a1.75 1.75 0 1 0 3.5 0a1.75 1.75 0 1 0 -3.5 0M735.0 183.4a1.75 1.75 0 1 0 3.5 0a1.75 1.75 0 1 0 -3.5 0M714.6 173.6a1.75 1.75 0 1 0 3.5 0a1.75 1.75 0 1 0 -3.5 0M772.5 205.0a1.75 1.75 0 1 0 3.5 0a1.75 1.75 0 1 0 -3.5 0M726.4 145.3a1.75 1.75 0 1 0 3.5 0a1.75 1.75 0 1 0 -3.5 0M750.1 201.9a1.75 1.75 0 1 0 3.5 0a1.75 1.75 0 1 0 -3.5 0M828.2 185.3a1.75 1.75 0 1 0 3.5 0a1.75 1.75 0 1 0 -3.5 0M761.3 162.5a1.75 1.75 0 1 0 3.5 0a1.75 1.75 0 1 0 -3.5 0M742.7 166.8a1.75 1.75 0 1 0 3.5 0a1.75 1.75 0 1 0 -3.5 0M793.7 174.3a1.75 1.75 0 1 0 3.5 0a1.75 1.75 0 1 0 -3.5 0M750.5 215.6a1.75 1.75 0 1 0 3.5 0a1.75 1.75 0 1 0 -3.5 0M766.2 172.6a1.75 1.75 0 1 0 3.5 0a1.75 1.75 0 1 0 -3.5 0M751.2 202.2a1.75 1.75 0 1 0 3.5 0a1.75 1.75 0 1 0 -3.5 0M774.5 125.4a1.75 1.75 0 1 0 3.5 0a1.75 1.75 0 1 0 -3.5 0M766.8 184.9a1.75 1.75 0 1 0 3.5 0a1.75 1.75 0 1 0 -3.5 0M772.9 176.3a1.75 1.75 0 1 0 3.5 0a1.75 1.75 0 1 0 -3.5 0M752.0 204.8a1.75 1.75 0 1 0 3.5 0a1.75 1.75 0 1 0 -3.5 0M802.6 115.6a1.75 1.75 0 1 0 3.5 0a1.75 1.75 0 1 0 -3.5 0M826.3 207.9a1.75 1.75 0 1 0 3.5 0a1.75 1.75 0 1 0 -3.5 0M742.1 159.3a1.75 1.75 0 1 0 3.5 0a1.75 1.75 0 1 0 -3.5 0M726.7 185.9a1.75 1.75 0 1 0 3.5 0a1.75 1.75 0 1 0 -3.5 0M731.0 168.3a1.75 1.75 0 1 0 3.5 0a1.75 1.75 0 1 0 -3.5 0M907.8 195.0a1.75 1.75 0 1 0 3.5 0a1.75 1.75 0 1 0 -3.5 0M866.1 191.0a1.75 1.75 0 1 0 3.5 0a1.75 1.75 0 1 0 -3.5 0M741.5 152.8a1.75 1.75 0 1 0 3.5 0a1.75 1.75 0 1 0 -3.5 0M889.7 201.1a1.75 1.75 0 1 0 3.5 0a1.75 1.75 0 1 0 -3.5 0M736.9 218.9a1.75 1.75 0 1 0 3.5 0a1.75 1.75 0 1 0 -3.5 0M771.1 171.6a1.75 1.75 0 1 0 3.5 0a1.75 1.75 0 1 0 -3.5 0M779.6 204.7a1.75 1.75 0 1 0 3.5 0a1.75 1.75 0 1 0 -3.5 0M839.8 189.7a1.75 1.75 0 1 0 3.5 0a1.75 1.75 0 1 0 -3.5 0M734.9 160.8a1.75 1.75 0 1 0 3.5 0a1.75 1.75 0 1 0 -3.5 0M760.7 197.8a1.75 1.75 0 1 0 3.5 0a1.75 1.75 0 1 0 -3.5 0M770.0 161.5a1.75 1.75 0 1 0 3.5 0a1.75 1.75 0 1 0 -3.5 0M733.6 194.9a1.75 1.75 0 1 0 3.5 0a1.75 1.75 0 1 0 -3.5 0M741.0 148.4a1.75 1.75 0 1 0 3.5 0a1.75 1.75 0 1 0 -3.5 0M764.2 152.0a1.75 1.75 0 1 0 3.5 0a1.75 1.75 0 1 0 -3.5 0M824.8 190.4a1.75 1.75 0 1 0 3.5 0a1.75 1.75 0 1 0 -3.5 0M796.4 184.9a1.75 1.75 0 1 0 3.5 0a1.75 1.75 0 1 0 -3.5 0M820.0 198.1a1.75 1.75 0 1 0 3.5 0a1.75 1.75 0 1 0 -3.5 0M801.2 176.0a1.75 1.75 0 1 0 3.5 0a1.75 1.75 0 1 0 -3.5 0M782.3 155.8a1.75 1.75 0 1 0 3.5 0a1.75 1.75 0 1 0 -3.5 0M816.6 211.3a1.75 1.75 0 1 0 3.5 0a1.75 1.75 0 1 0 -3.5 0M784.5 160.7a1.75 1.75 0 1 0 3.5 0a1.75 1.75 0 1 0 -3.5 0M802.6 208.6a1.75 1.75 0 1 0 3.5 0a1.75 1.75 0 1 0 -3.5 0M747.5 198.7a1.75 1.75 0 1 0 3.5 0a1.75 1.75 0 1 0 -3.5 0M749.2 218.6a1.75 1.75 0 1 0 3.5 0a1.75 1.75 0 1 0 -3.5 0M795.5 135.3a1.75 1.75 0 1 0 3.5 0a1.75 1.75 0 1 0 -3.5 0M745.4 179.1a1.75 1.75 0 1 0 3.5 0a1.75 1.75 0 1 0 -3.5 0M852.3 175.1a1.75 1.75 0 1 0 3.5 0a1.75 1.75 0 1 0 -3.5 0M772.4 194.8a1.75 1.75 0 1 0 3.5 0a1.75 1.75 0 1 0 -3.5 0M762.4 157.5a1.75 1.75 0 1 0 3.5 0a1.75 1.75 0 1 0 -3.5 0M853.9 225.3a1.75 1.75 0 1 0 3.5 0a1.75 1.75 0 1 0 -3.5 0M749.4 179.8a1.75 1.75 0 1 0 3.5 0a1.75 1.75 0 1 0 -3.5 0M774.1 133.1a1.75 1.75 0 1 0 3.5 0a1.75 1.75 0 1 0 -3.5 0M735.2 188.5a1.75 1.75 0 1 0 3.5 0a1.75 1.75 0 1 0 -3.5 0M878.4 180.0a1.75 1.75 0 1 0 3.5 0a1.75 1.75 0 1 0 -3.5 0M778.3 165.9a1.75 1.75 0 1 0 3.5 0a1.75 1.75 0 1 0 -3.5 0M810.0 212.0a1.75 1.75 0 1 0 3.5 0a1.75 1.75 0 1 0 -3.5 0M747.1 179.8a1.75 1.75 0 1 0 3.5 0a1.75 1.75 0 1 0 -3.5 0M797.5 159.8a1.75 1.75 0 1 0 3.5 0a1.75 1.75 0 1 0 -3.5 0M784.0 188.3a1.75 1.75 0 1 0 3.5 0a1.75 1.75 0 1 0 -3.5 0M784.9 172.4a1.75 1.75 0 1 0 3.5 0a1.75 1.75 0 1 0 -3.5 0M861.1 187.8a1.75 1.75 0 1 0 3.5 0a1.75 1.75 0 1 0 -3.5 0M760.3 173.6a1.75 1.75 0 1 0 3.5 0a1.75 1.75 0 1 0 -3.5 0M764.7 179.1a1.75 1.75 0 1 0 3.5 0a1.75 1.75 0 1 0 -3.5 0M780.4 149.2a1.75 1.75 0 1 0 3.5 0a1.75 1.75 0 1 0 -3.5 0M811.9 164.8a1.75 1.75 0 1 0 3.5 0a1.75 1.75 0 1 0 -3.5 0M756.5 185.5a1.75 1.75 0 1 0 3.5 0a1.75 1.75 0 1 0 -3.5 0M792.0 232.7a1.75 1.75 0 1 0 3.5 0a1.75 1.75 0 1 0 -3.5 0M744.7 165.0a1.75 1.75 0 1 0 3.5 0a1.75 1.75 0 1 0 -3.5 0M773.1 164.2a1.75 1.75 0 1 0 3.5 0a1.75 1.75 0 1 0 -3.5 0M805.7 199.9a1.75 1.75 0 1 0 3.5 0a1.75 1.75 0 1 0 -3.5 0M731.8 223.1a1.75 1.75 0 1 0 3.5 0a1.75 1.75 0 1 0 -3.5 0M784.4 204.7a1.75 1.75 0 1 0 3.5 0a1.75 1.75 0 1 0 -3.5 0M709.1 160.5a1.75 1.75 0 1 0 3.5 0a1.75 1.75 0 1 0 -3.5 0M873.7 203.1a1.75 1.75 0 1 0 3.5 0a1.75 1.75 0 1 0 -3.5 0M764.0 190.2a1.75 1.75 0 1 0 3.5 0a1.75 1.75 0 1 0 -3.5 0M759.9 175.6a1.75 1.75 0 1 0 3.5 0a1.75 1.75 0 1 0 -3.5 0M781.0 154.1a1.75 1.75 0 1 0 3.5 0a1.75 1.75 0 1 0 -3.5 0M772.1 180.7a1.75 1.75 0 1 0 3.5 0a1.75 1.75 0 1 0 -3.5 0M785.8 182.5a1.75 1.75 0 1 0 3.5 0a1.75 1.75 0 1 0 -3.5 0M730.7 192.1a1.75 1.75 0 1 0 3.5 0a1.75 1.75 0 1 0 -3.5 0M774.2 145.5a1.75 1.75 0 1 0 3.5 0a1.75 1.75 0 1 0 -3.5 0M779.5 157.5a1.75 1.75 0 1 0 3.5 0a1.75 1.75 0 1 0 -3.5 0M843.0 182.4a1.75 1.75 0 1 0 3.5 0a1.75 1.75 0 1 0 -3.5 0M728.2 210.2a1.75 1.75 0 1 0 3.5 0a1.75 1.75 0 1 0 -3.5 0M760.1 151.2a1.75 1.75 0 1 0 3.5 0a1.75 1.75 0 1 0 -3.5 0M778.5 167.9a1.75 1.75 0 1 0 3.5 0a1.75 1.75 0 1 0 -3.5 0M775.9 195.8a1.75 1.75 0 1 0 3.5 0a1.75 1.75 0 1 0 -3.5 0M729.1 161.2a1.75 1.75 0 1 0 3.5 0a1.75 1.75 0 1 0 -3.5 0M777.5 172.6a1.75 1.75 0 1 0 3.5 0a1.75 1.75 0 1 0 -3.5 0M743.8 174.1a1.75 1.75 0 1 0 3.5 0a1.75 1.75 0 1 0 -3.5 0M750.7 166.4a1.75 1.75 0 1 0 3.5 0a1.75 1.75 0 1 0 -3.5 0M827.7 169.7a1.75 1.75 0 1 0 3.5 0a1.75 1.75 0 1 0 -3.5 0M738.6 198.6a1.75 1.75 0 1 0 3.5 0a1.75 1.75 0 1 0 -3.5 0M763.3 187.3a1.75 1.75 0 1 0 3.5 0a1.75 1.75 0 1 0 -3.5 0M799.0 130.3a1.75 1.75 0 1 0 3.5 0a1.75 1.75 0 1 0 -3.5 0M792.5 206.2a1.75 1.75 0 1 0 3.5 0a1.75 1.75 0 1 0 -3.5 0M774.5 203.6a1.75 1.75 0 1 0 3.5 0a1.75 1.75 0 1 0 -3.5 0M816.5 157.5a1.75 1.75 0 1 0 3.5 0a1.75 1.75 0 1 0 -3.5 0M752.5 183.7a1.75 1.75 0 1 0 3.5 0a1.75 1.75 0 1 0 -3.5 0M777.1 197.7a1.75 1.75 0 1 0 3.5 0a1.75 1.75 0 1 0 -3.5 0M810.1 208.6a1.75 1.75 0 1 0 3.5 0a1.75 1.75 0 1 0 -3.5 0M794.2 137.3a1.75 1.75 0 1 0 3.5 0a1.75 1.75 0 1 0 -3.5 0M792.9 158.5a1.75 1.75 0 1 0 3.5 0a1.75 1.75 0 1 0 -3.5 0M755.6 150.4a1.75 1.75 0 1 0 3.5 0a1.75 1.75 0 1 0 -3.5 0M767.6 179.2a1.75 1.75 0 1 0 3.5 0a1.75 1.75 0 1 0 -3.5 0M764.1 158.0a1.75 1.75 0 1 0 3.5 0a1.75 1.75 0 1 0 -3.5 0M801.6 202.4a1.75 1.75 0 1 0 3.5 0a1.75 1.75 0 1 0 -3.5 0M753.1 176.7a1.75 1.75 0 1 0 3.5 0a1.75 1.75 0 1 0 -3.5 0M758.5 194.8a1.75 1.75 0 1 0 3.5 0a1.75 1.75 0 1 0 -3.5 0M798.2 176.6a1.75 1.75 0 1 0 3.5 0a1.75 1.75 0 1 0 -3.5 0M771.6 164.3a1.75 1.75 0 1 0 3.5 0a1.75 1.75 0 1 0 -3.5 0M760.5 157.4a1.75 1.75 0 1 0 3.5 0a1.75 1.75 0 1 0 -3.5 0M822.4 201.5a1.75 1.75 0 1 0 3.5 0a1.75 1.75 0 1 0 -3.5 0M762.8 153.2a1.75 1.75 0 1 0 3.5 0a1.75 1.75 0 1 0 -3.5 0M811.5 190.5a1.75 1.75 0 1 0 3.5 0a1.75 1.75 0 1 0 -3.5 0M801.6 202.3a1.75 1.75 0 1 0 3.5 0a1.75 1.75 0 1 0 -3.5 0M758.4 184.0a1.75 1.75 0 1 0 3.5 0a1.75 1.75 0 1 0 -3.5 0M794.5 211.6a1.75 1.75 0 1 0 3.5 0a1.75 1.75 0 1 0 -3.5 0M709.1 180.2a1.75 1.75 0 1 0 3.5 0a1.75 1.75 0 1 0 -3.5 0M758.6 174.1a1.75 1.75 0 1 0 3.5 0a1.75 1.75 0 1 0 -3.5 0M836.8 184.6a1.75 1.75 0 1 0 3.5 0a1.75 1.75 0 1 0 -3.5 0M771.5 168.9a1.75 1.75 0 1 0 3.5 0a1.75 1.75 0 1 0 -3.5 0M769.5 187.1a1.75 1.75 0 1 0 3.5 0a1.75 1.75 0 1 0 -3.5 0M788.2 180.2a1.75 1.75 0 1 0 3.5 0a1.75 1.75 0 1 0 -3.5 0M784.8 211.1a1.75 1.75 0 1 0 3.5 0a1.75 1.75 0 1 0 -3.5 0M779.1 179.4a1.75 1.75 0 1 0 3.5 0a1.75 1.75 0 1 0 -3.5 0M752.5 198.5a1.75 1.75 0 1 0 3.5 0a1.75 1.75 0 1 0 -3.5 0M739.8 189.9a1.75 1.75 0 1 0 3.5 0a1.75 1.75 0 1 0 -3.5 0M738.0 182.3a1.75 1.75 0 1 0 3.5 0a1.75 1.75 0 1 0 -3.5 0M747.1 176.2a1.75 1.75 0 1 0 3.5 0a1.75 1.75 0 1 0 -3.5 0M755.5 215.5a1.75 1.75 0 1 0 3.5 0a1.75 1.75 0 1 0 -3.5 0M937.9 187.3a1.75 1.75 0 1 0 3.5 0a1.75 1.75 0 1 0 -3.5 0M764.2 147.9a1.75 1.75 0 1 0 3.5 0a1.75 1.75 0 1 0 -3.5 0M764.8 170.2a1.75 1.75 0 1 0 3.5 0a1.75 1.75 0 1 0 -3.5 0M755.0 172.6a1.75 1.75 0 1 0 3.5 0a1.75 1.75 0 1 0 -3.5 0M765.7 161.2a1.75 1.75 0 1 0 3.5 0a1.75 1.75 0 1 0 -3.5 0M858.1 188.6a1.75 1.75 0 1 0 3.5 0a1.75 1.75 0 1 0 -3.5 0M837.5 169.7a1.75 1.75 0 1 0 3.5 0a1.75 1.75 0 1 0 -3.5 0M762.3 180.8a1.75 1.75 0 1 0 3.5 0a1.75 1.75 0 1 0 -3.5 0M737.7 202.4a1.75 1.75 0 1 0 3.5 0a1.75 1.75 0 1 0 -3.5 0M833.8 200.6a1.75 1.75 0 1 0 3.5 0a1.75 1.75 0 1 0 -3.5 0M779.0 190.3a1.75 1.75 0 1 0 3.5 0a1.75 1.75 0 1 0 -3.5 0M794.2 174.6a1.75 1.75 0 1 0 3.5 0a1.75 1.75 0 1 0 -3.5 0M732.7 175.6a1.75 1.75 0 1 0 3.5 0a1.75 1.75 0 1 0 -3.5 0M836.1 180.2a1.75 1.75 0 1 0 3.5 0a1.75 1.75 0 1 0 -3.5 0M763.4 183.6a1.75 1.75 0 1 0 3.5 0a1.75 1.75 0 1 0 -3.5 0M770.9 166.8a1.75 1.75 0 1 0 3.5 0a1.75 1.75 0 1 0 -3.5 0M738.2 175.9a1.75 1.75 0 1 0 3.5 0a1.75 1.75 0 1 0 -3.5 0M761.8 174.0a1.75 1.75 0 1 0 3.5 0a1.75 1.75 0 1 0 -3.5 0M811.1 173.7a1.75 1.75 0 1 0 3.5 0a1.75 1.75 0 1 0 -3.5 0M814.7 192.0a1.75 1.75 0 1 0 3.5 0a1.75 1.75 0 1 0 -3.5 0M765.7 202.4a1.75 1.75 0 1 0 3.5 0a1.75 1.75 0 1 0 -3.5 0M802.8 169.8a1.75 1.75 0 1 0 3.5 0a1.75 1.75 0 1 0 -3.5 0M758.8 171.4a1.75 1.75 0 1 0 3.5 0a1.75 1.75 0 1 0 -3.5 0M765.0 185.0a1.75 1.75 0 1 0 3.5 0a1.75 1.75 0 1 0 -3.5 0M769.8 189.2a1.75 1.75 0 1 0 3.5 0a1.75 1.75 0 1 0 -3.5 0M751.2 131.6a1.75 1.75 0 1 0 3.5 0a1.75 1.75 0 1 0 -3.5 0M764.5 166.6a1.75 1.75 0 1 0 3.5 0a1.75 1.75 0 1 0 -3.5 0M785.5 159.1a1.75 1.75 0 1 0 3.5 0a1.75 1.75 0 1 0 -3.5 0M799.4 89.8a1.75 1.75 0 1 0 3.5 0a1.75 1.75 0 1 0 -3.5 0M724.1 205.0a1.75 1.75 0 1 0 3.5 0a1.75 1.75 0 1 0 -3.5 0M793.4 177.8a1.75 1.75 0 1 0 3.5 0a1.75 1.75 0 1 0 -3.5 0M811.8 141.9a1.75 1.75 0 1 0 3.5 0a1.75 1.75 0 1 0 -3.5 0M751.4 160.4a1.75 1.75 0 1 0 3.5 0a1.75 1.75 0 1 0 -3.5 0M735.2 166.8a1.75 1.75 0 1 0 3.5 0a1.75 1.75 0 1 0 -3.5 0M788.8 167.7a1.75 1.75 0 1 0 3.5 0a1.75 1.75 0 1 0 -3.5 0M746.5 177.9a1.75 1.75 0 1 0 3.5 0a1.75 1.75 0 1 0 -3.5 0M790.8 159.8a1.75 1.75 0 1 0 3.5 0a1.75 1.75 0 1 0 -3.5 0M751.9 183.7a1.75 1.75 0 1 0 3.5 0a1.75 1.75 0 1 0 -3.5 0M767.1 189.4a1.75 1.75 0 1 0 3.5 0a1.75 1.75 0 1 0 -3.5 0M744.0 178.1a1.75 1.75 0 1 0 3.5 0a1.75 1.75 0 1 0 -3.5 0M752.0 161.0a1.75 1.75 0 1 0 3.5 0a1.75 1.75 0 1 0 -3.5 0M773.0 173.3a1.75 1.75 0 1 0 3.5 0a1.75 1.75 0 1 0 -3.5 0M776.4 165.9a1.75 1.75 0 1 0 3.5 0a1.75 1.75 0 1 0 -3.5 0M746.3 223.6a1.75 1.75 0 1 0 3.5 0a1.75 1.75 0 1 0 -3.5 0M875.9 126.6a1.75 1.75 0 1 0 3.5 0a1.75 1.75 0 1 0 -3.5 0M737.5 130.3a1.75 1.75 0 1 0 3.5 0a1.75 1.75 0 1 0 -3.5 0M740.2 197.7a1.75 1.75 0 1 0 3.5 0a1.75 1.75 0 1 0 -3.5 0M749.8 187.1a1.75 1.75 0 1 0 3.5 0a1.75 1.75 0 1 0 -3.5 0M724.1 198.5a1.75 1.75 0 1 0 3.5 0a1.75 1.75 0 1 0 -3.5 0M759.0 174.4a1.75 1.75 0 1 0 3.5 0a1.75 1.75 0 1 0 -3.5 0M795.4 201.4a1.75 1.75 0 1 0 3.5 0a1.75 1.75 0 1 0 -3.5 0M793.8 164.8a1.75 1.75 0 1 0 3.5 0a1.75 1.75 0 1 0 -3.5 0M739.3 191.6a1.75 1.75 0 1 0 3.5 0a1.75 1.75 0 1 0 -3.5 0M728.3 159.8a1.75 1.75 0 1 0 3.5 0a1.75 1.75 0 1 0 -3.5 0M759.2 151.2a1.75 1.75 0 1 0 3.5 0a1.75 1.75 0 1 0 -3.5 0M805.1 223.8a1.75 1.75 0 1 0 3.5 0a1.75 1.75 0 1 0 -3.5 0M764.8 174.1a1.75 1.75 0 1 0 3.5 0a1.75 1.75 0 1 0 -3.5 0M848.7 195.3a1.75 1.75 0 1 0 3.5 0a1.75 1.75 0 1 0 -3.5 0M785.2 210.5a1.75 1.75 0 1 0 3.5 0a1.75 1.75 0 1 0 -3.5 0M766.8 193.5a1.75 1.75 0 1 0 3.5 0a1.75 1.75 0 1 0 -3.5 0M804.9 185.0a1.75 1.75 0 1 0 3.5 0a1.75 1.75 0 1 0 -3.5 0M808.7 158.2a1.75 1.75 0 1 0 3.5 0a1.75 1.75 0 1 0 -3.5 0M751.5 212.9a1.75 1.75 0 1 0 3.5 0a1.75 1.75 0 1 0 -3.5 0M748.0 157.9a1.75 1.75 0 1 0 3.5 0a1.75 1.75 0 1 0 -3.5 0M753.8 137.2a1.75 1.75 0 1 0 3.5 0a1.75 1.75 0 1 0 -3.5 0M757.9 167.5a1.75 1.75 0 1 0 3.5 0a1.75 1.75 0 1 0 -3.5 0M744.3 168.7a1.75 1.75 0 1 0 3.5 0a1.75 1.75 0 1 0 -3.5 0M760.1 98.1a1.75 1.75 0 1 0 3.5 0a1.75 1.75 0 1 0 -3.5 0M794.5 205.5a1.75 1.75 0 1 0 3.5 0a1.75 1.75 0 1 0 -3.5 0M732.3 168.9a1.75 1.75 0 1 0 3.5 0a1.75 1.75 0 1 0 -3.5 0M728.0 172.1a1.75 1.75 0 1 0 3.5 0a1.75 1.75 0 1 0 -3.5 0M747.1 164.7a1.75 1.75 0 1 0 3.5 0a1.75 1.75 0 1 0 -3.5 0M743.5 125.4a1.75 1.75 0 1 0 3.5 0a1.75 1.75 0 1 0 -3.5 0M873.0 164.8a1.75 1.75 0 1 0 3.5 0a1.75 1.75 0 1 0 -3.5 0M713.1 171.2a1.75 1.75 0 1 0 3.5 0a1.75 1.75 0 1 0 -3.5 0M743.9 146.9a1.75 1.75 0 1 0 3.5 0a1.75 1.75 0 1 0 -3.5 0M740.9 209.1a1.75 1.75 0 1 0 3.5 0a1.75 1.75 0 1 0 -3.5 0M754.8 204.8a1.75 1.75 0 1 0 3.5 0a1.75 1.75 0 1 0 -3.5 0M710.0 188.3a1.75 1.75 0 1 0 3.5 0a1.75 1.75 0 1 0 -3.5 0M757.6 194.3a1.75 1.75 0 1 0 3.5 0a1.75 1.75 0 1 0 -3.5 0M741.0 165.5a1.75 1.75 0 1 0 3.5 0a1.75 1.75 0 1 0 -3.5 0M748.9 187.1a1.75 1.75 0 1 0 3.5 0a1.75 1.75 0 1 0 -3.5 0M806.9 143.1a1.75 1.75 0 1 0 3.5 0a1.75 1.75 0 1 0 -3.5 0M741.8 147.8a1.75 1.75 0 1 0 3.5 0a1.75 1.75 0 1 0 -3.5 0M774.7 163.9a1.75 1.75 0 1 0 3.5 0a1.75 1.75 0 1 0 -3.5 0M764.3 188.6a1.75 1.75 0 1 0 3.5 0a1.75 1.75 0 1 0 -3.5 0M756.5 170.2a1.75 1.75 0 1 0 3.5 0a1.75 1.75 0 1 0 -3.5 0M817.2 163.0a1.75 1.75 0 1 0 3.5 0a1.75 1.75 0 1 0 -3.5 0M743.2 203.1a1.75 1.75 0 1 0 3.5 0a1.75 1.75 0 1 0 -3.5 0M847.5 172.9a1.75 1.75 0 1 0 3.5 0a1.75 1.75 0 1 0 -3.5 0M837.5 165.2a1.75 1.75 0 1 0 3.5 0a1.75 1.75 0 1 0 -3.5 0M782.2 175.7a1.75 1.75 0 1 0 3.5 0a1.75 1.75 0 1 0 -3.5 0M736.3 146.7a1.75 1.75 0 1 0 3.5 0a1.75 1.75 0 1 0 -3.5 0M789.8 154.4a1.75 1.75 0 1 0 3.5 0a1.75 1.75 0 1 0 -3.5 0M777.2 198.0a1.75 1.75 0 1 0 3.5 0a1.75 1.75 0 1 0 -3.5 0M803.9 177.7a1.75 1.75 0 1 0 3.5 0a1.75 1.75 0 1 0 -3.5 0M749.4 198.2a1.75 1.75 0 1 0 3.5 0a1.75 1.75 0 1 0 -3.5 0M871.7 167.9a1.75 1.75 0 1 0 3.5 0a1.75 1.75 0 1 0 -3.5 0M833.8 198.9a1.75 1.75 0 1 0 3.5 0a1.75 1.75 0 1 0 -3.5 0M726.1 160.6a1.75 1.75 0 1 0 3.5 0a1.75 1.75 0 1 0 -3.5 0M758.6 172.0a1.75 1.75 0 1 0 3.5 0a1.75 1.75 0 1 0 -3.5 0M717.7 159.6a1.75 1.75 0 1 0 3.5 0a1.75 1.75 0 1 0 -3.5 0M812.0 183.4a1.75 1.75 0 1 0 3.5 0a1.75 1.75 0 1 0 -3.5 0M839.0 211.5a1.75 1.75 0 1 0 3.5 0a1.75 1.75 0 1 0 -3.5 0M921.9 142.6a1.75 1.75 0 1 0 3.5 0a1.75 1.75 0 1 0 -3.5 0M777.4 184.0a1.75 1.75 0 1 0 3.5 0a1.75 1.75 0 1 0 -3.5 0M789.8 150.9a1.75 1.75 0 1 0 3.5 0a1.75 1.75 0 1 0 -3.5 0M784.8 171.1a1.75 1.75 0 1 0 3.5 0a1.75 1.75 0 1 0 -3.5 0M775.2 165.9a1.75 1.75 0 1 0 3.5 0a1.75 1.75 0 1 0 -3.5 0M853.8 141.2a1.75 1.75 0 1 0 3.5 0a1.75 1.75 0 1 0 -3.5 0M775.3 173.0a1.75 1.75 0 1 0 3.5 0a1.75 1.75 0 1 0 -3.5 0M759.6 121.1a1.75 1.75 0 1 0 3.5 0a1.75 1.75 0 1 0 -3.5 0M774.7 212.1a1.75 1.75 0 1 0 3.5 0a1.75 1.75 0 1 0 -3.5 0M714.3 161.7a1.75 1.75 0 1 0 3.5 0a1.75 1.75 0 1 0 -3.5 0M783.5 185.5a1.75 1.75 0 1 0 3.5 0a1.75 1.75 0 1 0 -3.5 0M790.7 183.2a1.75 1.75 0 1 0 3.5 0a1.75 1.75 0 1 0 -3.5 0M758.0 180.1a1.75 1.75 0 1 0 3.5 0a1.75 1.75 0 1 0 -3.5 0M819.9 172.9a1.75 1.75 0 1 0 3.5 0a1.75 1.75 0 1 0 -3.5 0M799.9 144.9a1.75 1.75 0 1 0 3.5 0a1.75 1.75 0 1 0 -3.5 0M752.5 220.0a1.75 1.75 0 1 0 3.5 0a1.75 1.75 0 1 0 -3.5 0M730.2 179.4a1.75 1.75 0 1 0 3.5 0a1.75 1.75 0 1 0 -3.5 0M731.3 123.8a1.75 1.75 0 1 0 3.5 0a1.75 1.75 0 1 0 -3.5 0M750.1 155.4a1.75 1.75 0 1 0 3.5 0a1.75 1.75 0 1 0 -3.5 0M749.6 189.4a1.75 1.75 0 1 0 3.5 0a1.75 1.75 0 1 0 -3.5 0M752.1 170.6a1.75 1.75 0 1 0 3.5 0a1.75 1.75 0 1 0 -3.5 0M849.2 188.8a1.75 1.75 0 1 0 3.5 0a1.75 1.75 0 1 0 -3.5 0M740.6 166.0a1.75 1.75 0 1 0 3.5 0a1.75 1.75 0 1 0 -3.5 0M833.7 202.0a1.75 1.75 0 1 0 3.5 0a1.75 1.75 0 1 0 -3.5 0M785.7 188.8a1.75 1.75 0 1 0 3.5 0a1.75 1.75 0 1 0 -3.5 0M813.8 179.3a1.75 1.75 0 1 0 3.5 0a1.75 1.75 0 1 0 -3.5 0M758.3 210.7a1.75 1.75 0 1 0 3.5 0a1.75 1.75 0 1 0 -3.5 0M715.5 173.8a1.75 1.75 0 1 0 3.5 0a1.75 1.75 0 1 0 -3.5 0M804.7 162.0a1.75 1.75 0 1 0 3.5 0a1.75 1.75 0 1 0 -3.5 0M746.0 125.9a1.75 1.75 0 1 0 3.5 0a1.75 1.75 0 1 0 -3.5 0M746.6 156.4a1.75 1.75 0 1 0 3.5 0a1.75 1.75 0 1 0 -3.5 0M800.2 224.7a1.75 1.75 0 1 0 3.5 0a1.75 1.75 0 1 0 -3.5 0M790.0 219.9a1.75 1.75 0 1 0 3.5 0a1.75 1.75 0 1 0 -3.5 0M741.8 210.0a1.75 1.75 0 1 0 3.5 0a1.75 1.75 0 1 0 -3.5 0M745.6 190.7a1.75 1.75 0 1 0 3.5 0a1.75 1.75 0 1 0 -3.5 0M859.2 133.1a1.75 1.75 0 1 0 3.5 0a1.75 1.75 0 1 0 -3.5 0M744.9 182.0a1.75 1.75 0 1 0 3.5 0a1.75 1.75 0 1 0 -3.5 0M780.4 181.8a1.75 1.75 0 1 0 3.5 0a1.75 1.75 0 1 0 -3.5 0M729.5 164.9a1.75 1.75 0 1 0 3.5 0a1.75 1.75 0 1 0 -3.5 0M812.3 187.2a1.75 1.75 0 1 0 3.5 0a1.75 1.75 0 1 0 -3.5 0M727.9 207.3a1.75 1.75 0 1 0 3.5 0a1.75 1.75 0 1 0 -3.5 0M766.8 206.9a1.75 1.75 0 1 0 3.5 0a1.75 1.75 0 1 0 -3.5 0M717.4 135.1a1.75 1.75 0 1 0 3.5 0a1.75 1.75 0 1 0 -3.5 0M778.7 230.6a1.75 1.75 0 1 0 3.5 0a1.75 1.75 0 1 0 -3.5 0M814.3 184.1a1.75 1.75 0 1 0 3.5 0a1.75 1.75 0 1 0 -3.5 0M723.8 149.1a1.75 1.75 0 1 0 3.5 0a1.75 1.75 0 1 0 -3.5 0M745.8 170.0a1.75 1.75 0 1 0 3.5 0a1.75 1.75 0 1 0 -3.5 0M796.5 198.1a1.75 1.75 0 1 0 3.5 0a1.75 1.75 0 1 0 -3.5 0M778.6 180.3a1.75 1.75 0 1 0 3.5 0a1.75 1.75 0 1 0 -3.5 0M753.0 161.9a1.75 1.75 0 1 0 3.5 0a1.75 1.75 0 1 0 -3.5 0M771.0 137.2a1.75 1.75 0 1 0 3.5 0a1.75 1.75 0 1 0 -3.5 0M758.4 199.6a1.75 1.75 0 1 0 3.5 0a1.75 1.75 0 1 0 -3.5 0M825.3 164.1a1.75 1.75 0 1 0 3.5 0a1.75 1.75 0 1 0 -3.5 0M741.4 174.9a1.75 1.75 0 1 0 3.5 0a1.75 1.75 0 1 0 -3.5 0M798.6 156.7a1.75 1.75 0 1 0 3.5 0a1.75 1.75 0 1 0 -3.5 0M776.0 150.6a1.75 1.75 0 1 0 3.5 0a1.75 1.75 0 1 0 -3.5 0M808.9 187.7a1.75 1.75 0 1 0 3.5 0a1.75 1.75 0 1 0 -3.5 0M756.5 211.3a1.75 1.75 0 1 0 3.5 0a1.75 1.75 0 1 0 -3.5 0M791.6 171.9a1.75 1.75 0 1 0 3.5 0a1.75 1.75 0 1 0 -3.5 0M782.2 142.3a1.75 1.75 0 1 0 3.5 0a1.75 1.75 0 1 0 -3.5 0M759.6 165.7a1.75 1.75 0 1 0 3.5 0a1.75 1.75 0 1 0 -3.5 0M714.1 175.4a1.75 1.75 0 1 0 3.5 0a1.75 1.75 0 1 0 -3.5 0M871.2 129.0a1.75 1.75 0 1 0 3.5 0a1.75 1.75 0 1 0 -3.5 0M792.1 202.6a1.75 1.75 0 1 0 3.5 0a1.75 1.75 0 1 0 -3.5 0M747.6 161.0a1.75 1.75 0 1 0 3.5 0a1.75 1.75 0 1 0 -3.5 0M782.1 192.5a1.75 1.75 0 1 0 3.5 0a1.75 1.75 0 1 0 -3.5 0M741.0 179.3a1.75 1.75 0 1 0 3.5 0a1.75 1.75 0 1 0 -3.5 0M763.1 178.4a1.75 1.75 0 1 0 3.5 0a1.75 1.75 0 1 0 -3.5 0M838.0 147.9a1.75 1.75 0 1 0 3.5 0a1.75 1.75 0 1 0 -3.5 0M760.1 200.3a1.75 1.75 0 1 0 3.5 0a1.75 1.75 0 1 0 -3.5 0M749.4 191.8a1.75 1.75 0 1 0 3.5 0a1.75 1.75 0 1 0 -3.5 0M751.0 214.4a1.75 1.75 0 1 0 3.5 0a1.75 1.75 0 1 0 -3.5 0M733.0 169.9a1.75 1.75 0 1 0 3.5 0a1.75 1.75 0 1 0 -3.5 0M746.1 190.1a1.75 1.75 0 1 0 3.5 0a1.75 1.75 0 1 0 -3.5 0M740.0 171.3a1.75 1.75 0 1 0 3.5 0a1.75 1.75 0 1 0 -3.5 0M742.1 203.3a1.75 1.75 0 1 0 3.5 0a1.75 1.75 0 1 0 -3.5 0M731.3 156.2a1.75 1.75 0 1 0 3.5 0a1.75 1.75 0 1 0 -3.5 0M764.7 158.1a1.75 1.75 0 1 0 3.5 0a1.75 1.75 0 1 0 -3.5 0M741.2 184.1a1.75 1.75 0 1 0 3.5 0a1.75 1.75 0 1 0 -3.5 0M800.4 166.9a1.75 1.75 0 1 0 3.5 0a1.75 1.75 0 1 0 -3.5 0M838.4 169.0a1.75 1.75 0 1 0 3.5 0a1.75 1.75 0 1 0 -3.5 0M746.9 187.9a1.75 1.75 0 1 0 3.5 0a1.75 1.75 0 1 0 -3.5 0M772.1 213.7a1.75 1.75 0 1 0 3.5 0a1.75 1.75 0 1 0 -3.5 0M777.3 159.3a1.75 1.75 0 1 0 3.5 0a1.75 1.75 0 1 0 -3.5 0M725.7 166.4a1.75 1.75 0 1 0 3.5 0a1.75 1.75 0 1 0 -3.5 0M731.9 159.3a1.75 1.75 0 1 0 3.5 0a1.75 1.75 0 1 0 -3.5 0M833.3 223.4a1.75 1.75 0 1 0 3.5 0a1.75 1.75 0 1 0 -3.5 0M758.0 215.7a1.75 1.75 0 1 0 3.5 0a1.75 1.75 0 1 0 -3.5 0M811.9 163.1a1.75 1.75 0 1 0 3.5 0a1.75 1.75 0 1 0 -3.5 0M728.1 199.1a1.75 1.75 0 1 0 3.5 0a1.75 1.75 0 1 0 -3.5 0M776.5 131.0a1.75 1.75 0 1 0 3.5 0a1.75 1.75 0 1 0 -3.5 0M826.3 168.2a1.75 1.75 0 1 0 3.5 0a1.75 1.75 0 1 0 -3.5 0M824.9 181.1a1.75 1.75 0 1 0 3.5 0a1.75 1.75 0 1 0 -3.5 0M714.5 177.5a1.75 1.75 0 1 0 3.5 0a1.75 1.75 0 1 0 -3.5 0M769.1 164.1a1.75 1.75 0 1 0 3.5 0a1.75 1.75 0 1 0 -3.5 0M762.8 186.8a1.75 1.75 0 1 0 3.5 0a1.75 1.75 0 1 0 -3.5 0M806.5 171.9a1.75 1.75 0 1 0 3.5 0a1.75 1.75 0 1 0 -3.5 0M736.0 190.4a1.75 1.75 0 1 0 3.5 0a1.75 1.75 0 1 0 -3.5 0M748.9 151.6a1.75 1.75 0 1 0 3.5 0a1.75 1.75 0 1 0 -3.5 0M818.5 188.6a1.75 1.75 0 1 0 3.5 0a1.75 1.75 0 1 0 -3.5 0M754.0 151.3a1.75 1.75 0 1 0 3.5 0a1.75 1.75 0 1 0 -3.5 0M763.2 188.8a1.75 1.75 0 1 0 3.5 0a1.75 1.75 0 1 0 -3.5 0M892.0 183.4a1.75 1.75 0 1 0 3.5 0a1.75 1.75 0 1 0 -3.5 0M762.1 193.3a1.75 1.75 0 1 0 3.5 0a1.75 1.75 0 1 0 -3.5 0M732.4 190.7a1.75 1.75 0 1 0 3.5 0a1.75 1.75 0 1 0 -3.5 0M763.3 156.3a1.75 1.75 0 1 0 3.5 0a1.75 1.75 0 1 0 -3.5 0M741.1 186.1a1.75 1.75 0 1 0 3.5 0a1.75 1.75 0 1 0 -3.5 0M732.0 202.2a1.75 1.75 0 1 0 3.5 0a1.75 1.75 0 1 0 -3.5 0M773.2 244.5a1.75 1.75 0 1 0 3.5 0a1.75 1.75 0 1 0 -3.5 0M871.9 192.6a1.75 1.75 0 1 0 3.5 0a1.75 1.75 0 1 0 -3.5 0M770.5 222.4a1.75 1.75 0 1 0 3.5 0a1.75 1.75 0 1 0 -3.5 0M782.4 219.3a1.75 1.75 0 1 0 3.5 0a1.75 1.75 0 1 0 -3.5 0M758.4 163.3a1.75 1.75 0 1 0 3.5 0a1.75 1.75 0 1 0 -3.5 0M771.1 165.2a1.75 1.75 0 1 0 3.5 0a1.75 1.75 0 1 0 -3.5 0M800.8 221.3a1.75 1.75 0 1 0 3.5 0a1.75 1.75 0 1 0 -3.5 0M778.0 162.1a1.75 1.75 0 1 0 3.5 0a1.75 1.75 0 1 0 -3.5 0M804.5 170.5a1.75 1.75 0 1 0 3.5 0a1.75 1.75 0 1 0 -3.5 0M775.6 197.1a1.75 1.75 0 1 0 3.5 0a1.75 1.75 0 1 0 -3.5 0M751.0 164.6a1.75 1.75 0 1 0 3.5 0a1.75 1.75 0 1 0 -3.5 0M768.9 215.1a1.75 1.75 0 1 0 3.5 0a1.75 1.75 0 1 0 -3.5 0M758.6 206.1a1.75 1.75 0 1 0 3.5 0a1.75 1.75 0 1 0 -3.5 0M738.1 211.1a1.75 1.75 0 1 0 3.5 0a1.75 1.75 0 1 0 -3.5 0M771.4 204.1a1.75 1.75 0 1 0 3.5 0a1.75 1.75 0 1 0 -3.5 0M822.9 174.3a1.75 1.75 0 1 0 3.5 0a1.75 1.75 0 1 0 -3.5 0M723.6 208.8a1.75 1.75 0 1 0 3.5 0a1.75 1.75 0 1 0 -3.5 0M776.7 204.9a1.75 1.75 0 1 0 3.5 0a1.75 1.75 0 1 0 -3.5 0M792.7 200.7a1.75 1.75 0 1 0 3.5 0a1.75 1.75 0 1 0 -3.5 0M758.6 165.7a1.75 1.75 0 1 0 3.5 0a1.75 1.75 0 1 0 -3.5 0M748.3 187.6a1.75 1.75 0 1 0 3.5 0a1.75 1.75 0 1 0 -3.5 0M757.6 161.9a1.75 1.75 0 1 0 3.5 0a1.75 1.75 0 1 0 -3.5 0M770.8 195.5a1.75 1.75 0 1 0 3.5 0a1.75 1.75 0 1 0 -3.5 0M787.5 207.9a1.75 1.75 0 1 0 3.5 0a1.75 1.75 0 1 0 -3.5 0M768.5 191.1a1.75 1.75 0 1 0 3.5 0a1.75 1.75 0 1 0 -3.5 0" fill="#ff0000" clip-path="url(#c02)"/>
<polygon points="709.6,200.97 941.1,202.12 941.1,157.38 709.6,156.23" fill="#ff0000" fill-opacity="0.3" stroke="#ff0000" stroke-opacity="0.3" stroke-width="1" clip-path="url(#c02)"/>
<path d="M709.6 178.68L941.1 179.5" stroke="#ff0000" stroke-width="4.77" fill="none" stroke-linecap="square" clip-path="url(#c02)"/>
<path d="M709.6 202.12L941.1 202.12" stroke="#000000" stroke-width="4.77" fill="none" stroke-linecap="butt" stroke-dasharray="17.65 7.63" clip-path="url(#c02)"/>
<rect x="734.25" y="187.21" width="10.9" height="10.9" fill="#32cd32" clip-path="url(#c02)"/>
<rect x="768.68" y="185.98" width="10.9" height="10.9" fill="#32cd32" clip-path="url(#c02)"/>
<rect x="831.19" y="187.21" width="10.9" height="10.9" fill="#32cd32" clip-path="url(#c02)"/>
<path d="M1088.1 158.9a1.75 1.75 0 1 0 3.5 0a1.75 1.75 0 1 0 -3.5 0M1156.3 144.8a1.75 1.75 0 1 0 3.5 0a1.75 1.75 0 1 0 -3.5 0M1128.9 146.6a1.75 1.75 0 1 0 3.5 0a1.75 1.75 0 1 0 -3.5 0M1059.1 167.2a1.75 1.75 0 1 0 3.5 0a1.75 1.75 0 1 0 -3.5 0M1061.2 141.6a1.75 1.75 0 1 0 3.5 0a1.75 1.75 0 1 0 -3.5 0M1147.0 163.4a1.75 1.75 0 1 0 3.5 0a1.75 1.75 0 1 0 -3.5 0M1041.0 148.3a1.75 1.75 0 1 0 3.5 0a1.75 1.75 0 1 0 -3.5 0M1143.2 179.3a1.75 1.75 0 1 0 3.5 0a1.75 1.75 0 1 0 -3.5 0M1116.2 157.2a1.75 1.75 0 1 0 3.5 0a1.75 1.75 0 1 0 -3.5 0M1076.9 151.5a1.75 1.75 0 1 0 3.5 0a1.75 1.75 0 1 0 -3.5 0M1060.4 178.4a1.75 1.75 0 1 0 3.5 0a1.75 1.75 0 1 0 -3.5 0M1064.4 170.1a1.75 1.75 0 1 0 3.5 0a1.75 1.75 0 1 0 -3.5 0M1071.0 172.4a1.75 1.75 0 1 0 3.5 0a1.75 1.75 0 1 0 -3.5 0M1073.1 144.8a1.75 1.75 0 1 0 3.5 0a1.75 1.75 0 1 0 -3.5 0M1089.1 175.9a1.75 1.75 0 1 0 3.5 0a1.75 1.75 0 1 0 -3.5 0M1093.6 150.4a1.75 1.75 0 1 0 3.5 0a1.75 1.75 0 1 0 -3.5 0M1253.3 121.7a1.75 1.75 0 1 0 3.5 0a1.75 1.75 0 1 0 -3.5 0M1126.3 151.2a1.75 1.75 0 1 0 3.5 0a1.75 1.75 0 1 0 -3.5 0M1092.9 195.2a1.75 1.75 0 1 0 3.5 0a1.75 1.75 0 1 0 -3.5 0M1233.3 152.8a1.75 1.75 0 1 0 3.5 0a1.75 1.75 0 1 0 -3.5 0M1062.8 138.2a1.75 1.75 0 1 0 3.5 0a1.75 1.75 0 1 0 -3.5 0M1071.8 166.9a1.75 1.75 0 1 0 3.5 0a1.75 1.75 0 1 0 -3.5 0M1097.4 135.6a1.75 1.75 0 1 0 3.5 0a1.75 1.75 0 1 0 -3.5 0M1044.9 148.0a1.75 1.75 0 1 0 3.5 0a1.75 1.75 0 1 0 -3.5 0M1040.4 152.4a1.75 1.75 0 1 0 3.5 0a1.75 1.75 0 1 0 -3.5 0M1091.1 165.7a1.75 1.75 0 1 0 3.5 0a1.75 1.75 0 1 0 -3.5 0M1083.4 171.4a1.75 1.75 0 1 0 3.5 0a1.75 1.75 0 1 0 -3.5 0M1159.1 163.5a1.75 1.75 0 1 0 3.5 0a1.75 1.75 0 1 0 -3.5 0M1099.2 158.4a1.75 1.75 0 1 0 3.5 0a1.75 1.75 0 1 0 -3.5 0M1088.9 148.6a1.75 1.75 0 1 0 3.5 0a1.75 1.75 0 1 0 -3.5 0M1093.2 150.7a1.75 1.75 0 1 0 3.5 0a1.75 1.75 0 1 0 -3.5 0M1067.2 167.3a1.75 1.75 0 1 0 3.5 0a1.75 1.75 0 1 0 -3.5 0M1036.0 160.3a1.75 1.75 0 1 0 3.5 0a1.75 1.75 0 1 0 -3.5 0M1060.0 152.5a1.75 1.75 0 1 0 3.5 0a1.75 1.75 0 1 0 -3.5 0M1103.1 195.1a1.75 1.75 0 1 0 3.5 0a1.75 1.75 0 1 0 -3.5 0M1061.8 177.6a1.75 1.75 0 1 0 3.5 0a1.75 1.75 0 1 0 -3.5 0M1072.9 177.9a1.75 1.75 0 1 0 3.5 0a1.75 1.75 0 1 0 -3.5 0M1031.8 166.2a1.75 1.75 0 1 0 3.5 0a1.75 1.75 0 1 0 -3.5 0M1131.9 164.6a1.75 1.75 0 1 0 3.5 0a1.75 1.75 0 1 0 -3.5 0M1064.4 166.4a1.75 1.75 0 1 0 3.5 0a1.75 1.75 0 1 0 -3.5 0M1062.8 179.8a1.75 1.75 0 1 0 3.5 0a1.75 1.75 0 1 0 -3.5 0M1152.9 143.2a1.75 1.75 0 1 0 3.5 0a1.75 1.75 0 1 0 -3.5 0M1090.6 153.8a1.75 1.75 0 1 0 3.5 0a1.75 1.75 0 1 0 -3.5 0M1130.5 194.5a1.75 1.75 0 1 0 3.5 0a1.75 1.75 0 1 0 -3.5 0M1105.8 159.1a1.75 1.75 0 1 0 3.5 0a1.75 1.75 0 1 0 -3.5 0M1126.4 183.4a1.75 1.75 0 1 0 3.5 0a1.75 1.75 0 1 0 -3.5 0M1046.9 124.0a1.75 1.75 0 1 0 3.5 0a1.75 1.75 0 1 0 -3.5 0M1092.4 169.8a1.75 1.75 0 1 0 3.5 0a1.75 1.75 0 1 0 -3.5 0M1097.5 168.2a1.75 1.75 0 1 0 3.5 0a1.75 1.75 0 1 0 -3.5 0M1150.3 156.1a1.75 1.75 0 1 0 3.5 0a1.75 1.75 0 1 0 -3.5 0M1084.9 164.4a1.75 1.75 0 1 0 3.5 0a1.75 1.75 0 1 0 -3.5 0M1099.9 160.8a1.75 1.75 0 1 0 3.5 0a1.75 1.75 0 1 0 -3.5 0M1047.7 127.4a1.75 1.75 0 1 0 3.5 0a1.75 1.75 0 1 0 -3.5 0M1082.8 155.1a1.75 1.75 0 1 0 3.5 0a1.75 1.75 0 1 0 -3.5 0M1075.8 142.1a1.75 1.75 0 1 0 3.5 0a1.75 1.75 0 1 0 -3.5 0M1059.7 136.2a1.75 1.75 0 1 0 3.5 0a1.75 1.75 0 1 0 -3.5 0M1136.3 179.7a1.75 1.75 0 1 0 3.5 0a1.75 1.75 0 1 0 -3.5 0M1080.8 123.2a1.75 1.75 0 1 0 3.5 0a1.75 1.75 0 1 0 -3.5 0M1230.3 140.4a1.75 1.75 0 1 0 3.5 0a1.75 1.75 0 1 0 -3.5 0M1088.7 139.0a1.75 1.75 0 1 0 3.5 0a1.75 1.75 0 1 0 -3.5 0M1096.9 178.5a1.75 1.75 0 1 0 3.5 0a1.75 1.75 0 1 0 -3.5 0M1107.9 141.4a1.75 1.75 0 1 0 3.5 0a1.75 1.75 0 1 0 -3.5 0M1102.9 150.4a1.75 1.75 0 1 0 3.5 0a1.75 1.75 0 1 0 -3.5 0M1071.7 172.1a1.75 1.75 0 1 0 3.5 0a1.75 1.75 0 1 0 -3.5 0M1082.2 110.2a1.75 1.75 0 1 0 3.5 0a1.75 1.75 0 1 0 -3.5 0M1059.5 148.4a1.75 1.75 0 1 0 3.5 0a1.75 1.75 0 1 0 -3.5 0M1085.2 165.2a1.75 1.75 0 1 0 3.5 0a1.75 1.75 0 1 0 -3.5 0M1044.7 157.0a1.75 1.75 0 1 0 3.5 0a1.75 1.75 0 1 0 -3.5 0M1203.7 136.3a1.75 1.75 0 1 0 3.5 0a1.75 1.75 0 1 0 -3.5 0M1062.4 136.0a1.75 1.75 0 1 0 3.5 0a1.75 1.75 0 1 0 -3.5 0M1114.6 146.3a1.75 1.75 0 1 0 3.5 0a1.75 1.75 0 1 0 -3.5 0M1058.1 134.2a1.75 1.75 0 1 0 3.5 0a1.75 1.75 0 1 0 -3.5 0M1157.7 125.5a1.75 1.75 0 1 0 3.5 0a1.75 1.75 0 1 0 -3.5 0M1109.9 186.1a1.75 1.75 0 1 0 3.5 0a1.75 1.75 0 1 0 -3.5 0M1044.1 171.8a1.75 1.75 0 1 0 3.5 0a1.75 1.75 0 1 0 -3.5 0M1138.2 178.8a1.75 1.75 0 1 0 3.5 0a1.75 1.75 0 1 0 -3.5 0M1180.0 154.8a1.75 1.75 0 1 0 3.5 0a1.75 1.75 0 1 0 -3.5 0M1152.6 126.3a1.75 1.75 0 1 0 3.5 0a1.75 1.75 0 1 0 -3.5 0M1097.2 145.3a1.75 1.75 0 1 0 3.5 0a1.75 1.75 0 1 0 -3.5 0M1067.5 183.3a1.75 1.75 0 1 0 3.5 0a1.75 1.75 0 1 0 -3.5 0M1072.1 166.8a1.75 1.75 0 1 0 3.5 0a1.75 1.75 0 1 0 -3.5 0M1161.2 135.1a1.75 1.75 0 1 0 3.5 0a1.75 1.75 0 1 0 -3.5 0M1098.3 171.1a1.75 1.75 0 1 0 3.5 0a1.75 1.75 0 1 0 -3.5 0M1063.6 162.7a1.75 1.75 0 1 0 3.5 0a1.75 1.75 0 1 0 -3.5 0M1155.8 151.0a1.75 1.75 0 1 0 3.5 0a1.75 1.75 0 1 0 -3.5 0M1113.9 198.8a1.75 1.75 0 1 0 3.5 0a1.75 1.75 0 1 0 -3.5 0M1100.9 142.4a1.75 1.75 0 1 0 3.5 0a1.75 1.75 0 1 0 -3.5 0M1076.0 152.7a1.75 1.75 0 1 0 3.5 0a1.75 1.75 0 1 0 -3.5 0M1078.7 147.7a1.75 1.75 0 1 0 3.5 0a1.75 1.75 0 1 0 -3.5 0M1071.3 181.7a1.75 1.75 0 1 0 3.5 0a1.75 1.75 0 1 0 -3.5 0M1056.9 177.6a1.75 1.75 0 1 0 3.5 0a1.75 1.75 0 1 0 -3.5 0M1149.8 170.9a1.75 1.75 0 1 0 3.5 0a1.75 1.75 0 1 0 -3.5 0M1085.7 154.4a1.75 1.75 0 1 0 3.5 0a1.75 1.75 0 1 0 -3.5 0M1092.4 158.2a1.75 1.75 0 1 0 3.5 0a1.75 1.75 0 1 0 -3.5 0M1077.5 157.4a1.75 1.75 0 1 0 3.5 0a1.75 1.75 0 1 0 -3.5 0M1126.5 119.5a1.75 1.75 0 1 0 3.5 0a1.75 1.75 0 1 0 -3.5 0M1035.5 133.0a1.75 1.75 0 1 0 3.5 0a1.75 1.75 0 1 0 -3.5 0M1078.6 175.8a1.75 1.75 0 1 0 3.5 0a1.75 1.75 0 1 0 -3.5 0M1034.3 175.8a1.75 1.75 0 1 0 3.5 0a1.75 1.75 0 1 0 -3.5 0M1049.4 123.6a1.75 1.75 0 1 0 3.5 0a1.75 1.75 0 1 0 -3.5 0M1189.9 163.6a1.75 1.75 0 1 0 3.5 0a1.75 1.75 0 1 0 -3.5 0M1101.9 129.3a1.75 1.75 0 1 0 3.5 0a1.75 1.75 0 1 0 -3.5 0M1083.0 125.1a1.75 1.75 0 1 0 3.5 0a1.75 1.75 0 1 0 -3.5 0M1094.7 171.5a1.75 1.75 0 1 0 3.5 0a1.75 1.75 0 1 0 -3.5 0M1154.2 163.6a1.75 1.75 0 1 0 3.5 0a1.75 1.75 0 1 0 -3.5 0M1083.7 158.2a1.75 1.75 0 1 0 3.5 0a1.75 1.75 0 1 0 -3.5 0M1089.9 178.6a1.75 1.75 0 1 0 3.5 0a1.75 1.75 0 1 0 -3.5 0M1104.4 180.7a1.75 1.75 0 1 0 3.5 0a1.75 1.75 0 1 0 -3.5 0M1076.1 169.0a1.75 1.75 0 1 0 3.5 0a1.75 1.75 0 1 0 -3.5 0M1091.0 141.1a1.75 1.75 0 1 0 3.5 0a1.75 1.75 0 1 0 -3.5 0M1126.5 168.4a1.75 1.75 0 1 0 3.5 0a1.75 1.75 0 1 0 -3.5 0M1164.3 161.9a1.75 1.75 0 1 0 3.5 0a1.75 1.75 0 1 0 -3.5 0M1062.3 170.8a1.75 1.75 0 1 0 3.5 0a1.75 1.75 0 1 0 -3.5 0M1168.1 187.1a1.75 1.75 0 1 0 3.5 0a1.75 1.75 0 1 0 -3.5 0M1031.4 129.2a1.75 1.75 0 1 0 3.5 0a1.75 1.75 0 1 0 -3.5 0M1117.1 210.1a1.75 1.75 0 1 0 3.5 0a1.75 1.75 0 1 0 -3.5 0M1140.1 172.5a1.75 1.75 0 1 0 3.5 0a1.75 1.75 0 1 0 -3.5 0M1054.1 148.7a1.75 1.75 0 1 0 3.5 0a1.75 1.75 0 1 0 -3.5 0M1076.4 190.7a1.75 1.75 0 1 0 3.5 0a1.75 1.75 0 1 0 -3.5 0M1139.2 145.0a1.75 1.75 0 1 0 3.5 0a1.75 1.75 0 1 0 -3.5 0M1029.2 134.3a1.75 1.75 0 1 0 3.5 0a1.75 1.75 0 1 0 -3.5 0M1092.4 178.5a1.75 1.75 0 1 0 3.5 0a1.75 1.75 0 1 0 -3.5 0M1123.9 154.1a1.75 1.75 0 1 0 3.5 0a1.75 1.75 0 1 0 -3.5 0M1090.2 184.0a1.75 1.75 0 1 0 3.5 0a1.75 1.75 0 1 0 -3.5 0M1106.1 148.2a1.75 1.75 0 1 0 3.5 0a1.75 1.75 0 1 0 -3.5 0M1066.5 158.6a1.75 1.75 0 1 0 3.5 0a1.75 1.75 0 1 0 -3.5 0M1066.2 155.8a1.75 1.75 0 1 0 3.5 0a1.75 1.75 0 1 0 -3.5 0M1074.3 130.4a1.75 1.75 0 1 0 3.5 0a1.75 1.75 0 1 0 -3.5 0M1067.9 150.2a1.75 1.75 0 1 0 3.5 0a1.75 1.75 0 1 0 -3.5 0M1073.3 130.9a1.75 1.75 0 1 0 3.5 0a1.75 1.75 0 1 0 -3.5 0M1187.4 142.9a1.75 1.75 0 1 0 3.5 0a1.75 1.75 0 1 0 -3.5 0M1089.5 186.0a1.75 1.75 0 1 0 3.5 0a1.75 1.75 0 1 0 -3.5 0M1075.8 154.5a1.75 1.75 0 1 0 3.5 0a1.75 1.75 0 1 0 -3.5 0M1060.5 150.0a1.75 1.75 0 1 0 3.5 0a1.75 1.75 0 1 0 -3.5 0M1187.7 188.3a1.75 1.75 0 1 0 3.5 0a1.75 1.75 0 1 0 -3.5 0M1076.3 131.1a1.75 1.75 0 1 0 3.5 0a1.75 1.75 0 1 0 -3.5 0M1225.6 154.0a1.75 1.75 0 1 0 3.5 0a1.75 1.75 0 1 0 -3.5 0M1100.9 151.4a1.75 1.75 0 1 0 3.5 0a1.75 1.75 0 1 0 -3.5 0M1100.3 179.0a1.75 1.75 0 1 0 3.5 0a1.75 1.75 0 1 0 -3.5 0M1145.1 156.5a1.75 1.75 0 1 0 3.5 0a1.75 1.75 0 1 0 -3.5 0M1123.1 152.2a1.75 1.75 0 1 0 3.5 0a1.75 1.75 0 1 0 -3.5 0M1095.3 166.7a1.75 1.75 0 1 0 3.5 0a1.75 1.75 0 1 0 -3.5 0M1082.3 158.3a1.75 1.75 0 1 0 3.5 0a1.75 1.75 0 1 0 -3.5 0M1149.3 204.2a1.75 1.75 0 1 0 3.5 0a1.75 1.75 0 1 0 -3.5 0M1076.9 130.4a1.75 1.75 0 1 0 3.5 0a1.75 1.75 0 1 0 -3.5 0M1159.0 182.0a1.75 1.75 0 1 0 3.5 0a1.75 1.75 0 1 0 -3.5 0M1043.7 208.9a1.75 1.75 0 1 0 3.5 0a1.75 1.75 0 1 0 -3.5 0M1080.1 181.1a1.75 1.75 0 1 0 3.5 0a1.75 1.75 0 1 0 -3.5 0M1087.7 178.1a1.75 1.75 0 1 0 3.5 0a1.75 1.75 0 1 0 -3.5 0M1176.3 145.2a1.75 1.75 0 1 0 3.5 0a1.75 1.75 0 1 0 -3.5 0M1062.5 180.6a1.75 1.75 0 1 0 3.5 0a1.75 1.75 0 1 0 -3.5 0M1131.0 152.3a1.75 1.75 0 1 0 3.5 0a1.75 1.75 0 1 0 -3.5 0M1101.5 180.4a1.75 1.75 0 1 0 3.5 0a1.75 1.75 0 1 0 -3.5 0M1114.5 110.8a1.75 1.75 0 1 0 3.5 0a1.75 1.75 0 1 0 -3.5 0M1092.9 147.8a1.75 1.75 0 1 0 3.5 0a1.75 1.75 0 1 0 -3.5 0M1205.3 113.4a1.75 1.75 0 1 0 3.5 0a1.75 1.75 0 1 0 -3.5 0M1082.4 182.2a1.75 1.75 0 1 0 3.5 0a1.75 1.75 0 1 0 -3.5 0M1072.2 145.9a1.75 1.75 0 1 0 3.5 0a1.75 1.75 0 1 0 -3.5 0M1061.2 181.6a1.75 1.75 0 1 0 3.5 0a1.75 1.75 0 1 0 -3.5 0M1057.1 148.2a1.75 1.75 0 1 0 3.5 0a1.75 1.75 0 1 0 -3.5 0M1070.6 145.6a1.75 1.75 0 1 0 3.5 0a1.75 1.75 0 1 0 -3.5 0M1168.1 192.2a1.75 1.75 0 1 0 3.5 0a1.75 1.75 0 1 0 -3.5 0M1131.3 183.4a1.75 1.75 0 1 0 3.5 0a1.75 1.75 0 1 0 -3.5 0M1047.8 186.6a1.75 1.75 0 1 0 3.5 0a1.75 1.75 0 1 0 -3.5 0M1087.0 192.8a1.75 1.75 0 1 0 3.5 0a1.75 1.75 0 1 0 -3.5 0M1075.3 176.3a1.75 1.75 0 1 0 3.5 0a1.75 1.75 0 1 0 -3.5 0M1086.9 180.9a1.75 1.75 0 1 0 3.5 0a1.75 1.75 0 1 0 -3.5 0M1102.9 191.0a1.75 1.75 0 1 0 3.5 0a1.75 1.75 0 1 0 -3.5 0M1066.8 158.5a1.75 1.75 0 1 0 3.5 0a1.75 1.75 0 1 0 -3.5 0M1189.3 144.8a1.75 1.75 0 1 0 3.5 0a1.75 1.75 0 1 0 -3.5 0M1074.4 189.1a1.75 1.75 0 1 0 3.5 0a1.75 1.75 0 1 0 -3.5 0M1099.6 171.8a1.75 1.75 0 1 0 3.5 0a1.75 1.75 0 1 0 -3.5 0M1091.4 159.7a1.75 1.75 0 1 0 3.5 0a1.75 1.75 0 1 0 -3.5 0M1062.5 165.8a1.75 1.75 0 1 0 3.5 0a1.75 1.75 0 1 0 -3.5 0M1044.4 176.6a1.75 1.75 0 1 0 3.5 0a1.75 1.75 0 1 0 -3.5 0M1083.6 142.4a1.75 1.75 0 1 0 3.5 0a1.75 1.75 0 1 0 -3.5 0M1125.3 140.3a1.75 1.75 0 1 0 3.5 0a1.75 1.75 0 1 0 -3.5 0M1137.9 143.6a1.75 1.75 0 1 0 3.5 0a1.75 1.75 0 1 0 -3.5 0M1110.0 163.9a1.75 1.75 0 1 0 3.5 0a1.75 1.75 0 1 0 -3.5 0M1044.6 118.0a1.75 1.75 0 1 0 3.5 0a1.75 1.75 0 1 0 -3.5 0M1162.7 119.6a1.75 1.75 0 1 0 3.5 0a1.75 1.75 0 1 0 -3.5 0M1124.0 167.7a1.75 1.75 0 1 0 3.5 0a1.75 1.75 0 1 0 -3.5 0M1158.2 160.4a1.75 1.75 0 1 0 3.5 0a1.75 1.75 0 1 0 -3.5 0M1098.4 133.7a1.75 1.75 0 1 0 3.5 0a1.75 1.75 0 1 0 -3.5 0M1168.2 175.0a1.75 1.75 0 1 0 3.5 0a1.75 1.75 0 1 0 -3.5 0M1050.7 152.5a1.75 1.75 0 1 0 3.5 0a1.75 1.75 0 1 0 -3.5 0M1028.9 160.9a1.75 1.75 0 1 0 3.5 0a1.75 1.75 0 1 0 -3.5 0M1041.6 176.9a1.75 1.75 0 1 0 3.5 0a1.75 1.75 0 1 0 -3.5 0M1058.6 166.0a1.75 1.75 0 1 0 3.5 0a1.75 1.75 0 1 0 -3.5 0M1059.5 195.3a1.75 1.75 0 1 0 3.5 0a1.75 1.75 0 1 0 -3.5 0M1067.7 172.6a1.75 1.75 0 1 0 3.5 0a1.75 1.75 0 1 0 -3.5 0M1098.3 203.3a1.75 1.75 0 1 0 3.5 0a1.75 1.75 0 1 0 -3.5 0M1054.5 111.3a1.75 1.75 0 1 0 3.5 0a1.75 1.75 0 1 0 -3.5 0M1093.1 127.0a1.75 1.75 0 1 0 3.5 0a1.75 1.75 0 1 0 -3.5 0M1060.2 134.1a1.75 1.75 0 1 0 3.5 0a1.75 1.75 0 1 0 -3.5 0M1101.6 153.0a1.75 1.75 0 1 0 3.5 0a1.75 1.75 0 1 0 -3.5 0M1041.0 139.7a1.75 1.75 0 1 0 3.5 0a1.75 1.75 0 1 0 -3.5 0M1071.8 132.8a1.75 1.75 0 1 0 3.5 0a1.75 1.75 0 1 0 -3.5 0M1176.9 135.1a1.75 1.75 0 1 0 3.5 0a1.75 1.75 0 1 0 -3.5 0M1099.1 139.7a1.75 1.75 0 1 0 3.5 0a1.75 1.75 0 1 0 -3.5 0M1135.8 178.5a1.75 1.75 0 1 0 3.5 0a1.75 1.75 0 1 0 -3.5 0M1105.5 150.2a1.75 1.75 0 1 0 3.5 0a1.75 1.75 0 1 0 -3.5 0M1093.9 171.6a1.75 1.75 0 1 0 3.5 0a1.75 1.75 0 1 0 -3.5 0M1057.8 186.9a1.75 1.75 0 1 0 3.5 0a1.75 1.75 0 1 0 -3.5 0M1093.0 184.9a1.75 1.75 0 1 0 3.5 0a1.75 1.75 0 1 0 -3.5 0M1046.1 152.1a1.75 1.75 0 1 0 3.5 0a1.75 1.75 0 1 0 -3.5 0M1125.8 135.9a1.75 1.75 0 1 0 3.5 0a1.75 1.75 0 1 0 -3.5 0M1195.1 186.7a1.75 1.75 0 1 0 3.5 0a1.75 1.75 0 1 0 -3.5 0M1142.6 120.3a1.75 1.75 0 1 0 3.5 0a1.75 1.75 0 1 0 -3.5 0M1056.1 129.1a1.75 1.75 0 1 0 3.5 0a1.75 1.75 0 1 0 -3.5 0M1076.7 168.8a1.75 1.75 0 1 0 3.5 0a1.75 1.75 0 1 0 -3.5 0M1076.2 170.7a1.75 1.75 0 1 0 3.5 0a1.75 1.75 0 1 0 -3.5 0M1056.8 162.8a1.75 1.75 0 1 0 3.5 0a1.75 1.75 0 1 0 -3.5 0M1093.9 138.6a1.75 1.75 0 1 0 3.5 0a1.75 1.75 0 1 0 -3.5 0M1116.9 167.7a1.75 1.75 0 1 0 3.5 0a1.75 1.75 0 1 0 -3.5 0M1072.8 184.9a1.75 1.75 0 1 0 3.5 0a1.75 1.75 0 1 0 -3.5 0M1158.8 150.5a1.75 1.75 0 1 0 3.5 0a1.75 1.75 0 1 0 -3.5 0M1123.9 204.2a1.75 1.75 0 1 0 3.5 0a1.75 1.75 0 1 0 -3.5 0M1044.0 158.5a1.75 1.75 0 1 0 3.5 0a1.75 1.75 0 1 0 -3.5 0M1122.9 133.8a1.75 1.75 0 1 0 3.5 0a1.75 1.75 0 1 0 -3.5 0M1151.7 151.6a1.75 1.75 0 1 0 3.5 0a1.75 1.75 0 1 0 -3.5 0M1063.9 144.0a1.75 1.75 0 1 0 3.5 0a1.75 1.75 0 1 0 -3.5 0M1100.3 149.1a1.75 1.75 0 1 0 3.5 0a1.75 1.75 0 1 0 -3.5 0M1114.8 143.5a1.75 1.75 0 1 0 3.5 0a1.75 1.75 0 1 0 -3.5 0M1088.4 157.1a1.75 1.75 0 1 0 3.5 0a1.75 1.75 0 1 0 -3.5 0M1045.4 179.7a1.75 1.75 0 1 0 3.5 0a1.75 1.75 0 1 0 -3.5 0M1106.9 164.6a1.75 1.75 0 1 0 3.5 0a1.75 1.75 0 1 0 -3.5 0M1098.6 161.5a1.75 1.75 0 1 0 3.5 0a1.75 1.75 0 1 0 -3.5 0M1139.0 131.2a1.75 1.75 0 1 0 3.5 0a1.75 1.75 0 1 0 -3.5 0M1140.5 123.1a1.75 1.75 0 1 0 3.5 0a1.75 1.75 0 1 0 -3.5 0M1080.4 151.3a1.75 1.75 0 1 0 3.5 0a1.75 1.75 0 1 0 -3.5 0M1104.1 176.2a1.75 1.75 0 1 0 3.5 0a1.75 1.75 0 1 0 -3.5 0M1156.3 174.1a1.75 1.75 0 1 0 3.5 0a1.75 1.75 0 1 0 -3.5 0M1144.7 162.6a1.75 1.75 0 1 0 3.5 0a1.75 1.75 0 1 0 -3.5 0M1067.7 130.6a1.75 1.75 0 1 0 3.5 0a1.75 1.75 0 1 0 -3.5 0M1031.5 154.7a1.75 1.75 0 1 0 3.5 0a1.75 1.75 0 1 0 -3.5 0M1107.9 160.9a1.75 1.75 0 1 0 3.5 0a1.75 1.75 0 1 0 -3.5 0M1071.7 177.5a1.75 1.75 0 1 0 3.5 0a1.75 1.75 0 1 0 -3.5 0M1094.4 140.8a1.75 1.75 0 1 0 3.5 0a1.75 1.75 0 1 0 -3.5 0M1174.2 151.2a1.75 1.75 0 1 0 3.5 0a1.75 1.75 0 1 0 -3.5 0M1078.3 161.7a1.75 1.75 0 1 0 3.5 0a1.75 1.75 0 1 0 -3.5 0M1067.2 158.7a1.75 1.75 0 1 0 3.5 0a1.75 1.75 0 1 0 -3.5 0M1072.9 123.9a1.75 1.75 0 1 0 3.5 0a1.75 1.75 0 1 0 -3.5 0M1104.7 163.2a1.75 1.75 0 1 0 3.5 0a1.75 1.75 0 1 0 -3.5 0M1043.4 124.8a1.75 1.75 0 1 0 3.5 0a1.75 1.75 0 1 0 -3.5 0M1079.9 133.4a1.75 1.75 0 1 0 3.5 0a1.75 1.75 0 1 0 -3.5 0M1048.7 160.4a1.75 1.75 0 1 0 3.5 0a1.75 1.75 0 1 0 -3.5 0M1108.3 140.3a1.75 1.75 0 1 0 3.5 0a1.75 1.75 0 1 0 -3.5 0M1134.3 161.5a1.75 1.75 0 1 0 3.5 0a1.75 1.75 0 1 0 -3.5 0M1081.6 178.6a1.75 1.75 0 1 0 3.5 0a1.75 1.75 0 1 0 -3.5 0M1074.6 166.5a1.75 1.75 0 1 0 3.5 0a1.75 1.75 0 1 0 -3.5 0M1099.7 179.7a1.75 1.75 0 1 0 3.5 0a1.75 1.75 0 1 0 -3.5 0M1071.5 149.6a1.75 1.75 0 1 0 3.5 0a1.75 1.75 0 1 0 -3.5 0M1064.8 160.7a1.75 1.75 0 1 0 3.5 0a1.75 1.75 0 1 0 -3.5 0M1078.8 148.2a1.75 1.75 0 1 0 3.5 0a1.75 1.75 0 1 0 -3.5 0M1084.5 142.3a1.75 1.75 0 1 0 3.5 0a1.75 1.75 0 1 0 -3.5 0M1047.4 229.7a1.75 1.75 0 1 0 3.5 0a1.75 1.75 0 1 0 -3.5 0M1127.1 152.2a1.75 1.75 0 1 0 3.5 0a1.75 1.75 0 1 0 -3.5 0M1090.7 199.5a1.75 1.75 0 1 0 3.5 0a1.75 1.75 0 1 0 -3.5 0M1068.1 157.3a1.75 1.75 0 1 0 3.5 0a1.75 1.75 0 1 0 -3.5 0M1048.0 180.7a1.75 1.75 0 1 0 3.5 0a1.75 1.75 0 1 0 -3.5 0M1124.2 156.9a1.75 1.75 0 1 0 3.5 0a1.75 1.75 0 1 0 -3.5 0M1056.6 131.4a1.75 1.75 0 1 0 3.5 0a1.75 1.75 0 1 0 -3.5 0M1044.0 199.0a1.75 1.75 0 1 0 3.5 0a1.75 1.75 0 1 0 -3.5 0M1054.8 157.1a1.75 1.75 0 1 0 3.5 0a1.75 1.75 0 1 0 -3.5 0M1051.0 163.1a1.75 1.75 0 1 0 3.5 0a1.75 1.75 0 1 0 -3.5 0M1164.4 199.2a1.75 1.75 0 1 0 3.5 0a1.75 1.75 0 1 0 -3.5 0M1062.7 146.9a1.75 1.75 0 1 0 3.5 0a1.75 1.75 0 1 0 -3.5 0M1058.6 160.4a1.75 1.75 0 1 0 3.5 0a1.75 1.75 0 1 0 -3.5 0M1133.7 169.9a1.75 1.75 0 1 0 3.5 0a1.75 1.75 0 1 0 -3.5 0M1095.6 175.8a1.75 1.75 0 1 0 3.5 0a1.75 1.75 0 1 0 -3.5 0M1059.0 91.0a1.75 1.75 0 1 0 3.5 0a1.75 1.75 0 1 0 -3.5 0M1081.8 169.1a1.75 1.75 0 1 0 3.5 0a1.75 1.75 0 1 0 -3.5 0M1158.4 197.4a1.75 1.75 0 1 0 3.5 0a1.75 1.75 0 1 0 -3.5 0M1086.3 180.7a1.75 1.75 0 1 0 3.5 0a1.75 1.75 0 1 0 -3.5 0M1113.9 167.5a1.75 1.75 0 1 0 3.5 0a1.75 1.75 0 1 0 -3.5 0M1054.8 169.7a1.75 1.75 0 1 0 3.5 0a1.75 1.75 0 1 0 -3.5 0M1103.6 161.5a1.75 1.75 0 1 0 3.5 0a1.75 1.75 0 1 0 -3.5 0M1129.5 181.8a1.75 1.75 0 1 0 3.5 0a1.75 1.75 0 1 0 -3.5 0M1132.9 147.0a1.75 1.75 0 1 0 3.5 0a1.75 1.75 0 1 0 -3.5 0M1113.6 170.0a1.75 1.75 0 1 0 3.5 0a1.75 1.75 0 1 0 -3.5 0M1084.8 190.1a1.75 1.75 0 1 0 3.5 0a1.75 1.75 0 1 0 -3.5 0M1052.2 179.2a1.75 1.75 0 1 0 3.5 0a1.75 1.75 0 1 0 -3.5 0M1094.1 168.5a1.75 1.75 0 1 0 3.5 0a1.75 1.75 0 1 0 -3.5 0M1118.4 140.8a1.75 1.75 0 1 0 3.5 0a1.75 1.75 0 1 0 -3.5 0M1065.2 150.4a1.75 1.75 0 1 0 3.5 0a1.75 1.75 0 1 0 -3.5 0M1061.8 168.5a1.75 1.75 0 1 0 3.5 0a1.75 1.75 0 1 0 -3.5 0M1088.4 159.8a1.75 1.75 0 1 0 3.5 0a1.75 1.75 0 1 0 -3.5 0M1117.4 154.6a1.75 1.75 0 1 0 3.5 0a1.75 1.75 0 1 0 -3.5 0M1156.0 113.6a1.75 1.75 0 1 0 3.5 0a1.75 1.75 0 1 0 -3.5 0M1056.5 174.8a1.75 1.75 0 1 0 3.5 0a1.75 1.75 0 1 0 -3.5 0M1059.7 151.0a1.75 1.75 0 1 0 3.5 0a1.75 1.75 0 1 0 -3.5 0M1115.7 143.5a1.75 1.75 0 1 0 3.5 0a1.75 1.75 0 1 0 -3.5 0M1104.9 180.6a1.75 1.75 0 1 0 3.5 0a1.75 1.75 0 1 0 -3.5 0M1103.0 155.7a1.75 1.75 0 1 0 3.5 0a1.75 1.75 0 1 0 -3.5 0M1248.5 151.6a1.75 1.75 0 1 0 3.5 0a1.75 1.75 0 1 0 -3.5 0M1181.8 167.6a1.75 1.75 0 1 0 3.5 0a1.75 1.75 0 1 0 -3.5 0M1136.1 146.4a1.75 1.75 0 1 0 3.5 0a1.75 1.75 0 1 0 -3.5 0M1121.7 136.7a1.75 1.75 0 1 0 3.5 0a1.75 1.75 0 1 0 -3.5 0M1075.1 136.0a1.75 1.75 0 1 0 3.5 0a1.75 1.75 0 1 0 -3.5 0M1110.7 163.7a1.75 1.75 0 1 0 3.5 0a1.75 1.75 0 1 0 -3.5 0M1061.8 156.9a1.75 1.75 0 1 0 3.5 0a1.75 1.75 0 1 0 -3.5 0M1121.3 107.9a1.75 1.75 0 1 0 3.5 0a1.75 1.75 0 1 0 -3.5 0M1122.2 183.3a1.75 1.75 0 1 0 3.5 0a1.75 1.75 0 1 0 -3.5 0M1114.1 154.6a1.75 1.75 0 1 0 3.5 0a1.75 1.75 0 1 0 -3.5 0M1075.7 141.2a1.75 1.75 0 1 0 3.5 0a1.75 1.75 0 1 0 -3.5 0M1082.5 157.2a1.75 1.75 0 1 0 3.5 0a1.75 1.75 0 1 0 -3.5 0M1076.6 146.3a1.75 1.75 0 1 0 3.5 0a1.75 1.75 0 1 0 -3.5 0M1041.6 158.0a1.75 1.75 0 1 0 3.5 0a1.75 1.75 0 1 0 -3.5 0M1135.7 142.3a1.75 1.75 0 1 0 3.5 0a1.75 1.75 0 1 0 -3.5 0M1093.9 132.1a1.75 1.75 0 1 0 3.5 0a1.75 1.75 0 1 0 -3.5 0M1084.8 165.2a1.75 1.75 0 1 0 3.5 0a1.75 1.75 0 1 0 -3.5 0M1096.3 155.7a1.75 1.75 0 1 0 3.5 0a1.75 1.75 0 1 0 -3.5 0M1102.4 161.0a1.75 1.75 0 1 0 3.5 0a1.75 1.75 0 1 0 -3.5 0M1074.1 169.5a1.75 1.75 0 1 0 3.5 0a1.75 1.75 0 1 0 -3.5 0M1144.3 158.9a1.75 1.75 0 1 0 3.5 0a1.75 1.75 0 1 0 -3.5 0M1159.3 182.7a1.75 1.75 0 1 0 3.5 0a1.75 1.75 0 1 0 -3.5 0M1076.5 144.4a1.75 1.75 0 1 0 3.5 0a1.75 1.75 0 1 0 -3.5 0M1057.0 124.0a1.75 1.75 0 1 0 3.5 0a1.75 1.75 0 1 0 -3.5 0M1115.7 122.2a1.75 1.75 0 1 0 3.5 0a1.75 1.75 0 1 0 -3.5 0M1233.6 127.8a1.75 1.75 0 1 0 3.5 0a1.75 1.75 0 1 0 -3.5 0M1060.7 182.2a1.75 1.75 0 1 0 3.5 0a1.75 1.75 0 1 0 -3.5 0M1102.3 126.6a1.75 1.75 0 1 0 3.5 0a1.75 1.75 0 1 0 -3.5 0M1136.8 174.4a1.75 1.75 0 1 0 3.5 0a1.75 1.75 0 1 0 -3.5 0M1167.5 158.9a1.75 1.75 0 1 0 3.5 0a1.75 1.75 0 1 0 -3.5 0M1047.8 121.2a1.75 1.75 0 1 0 3.5 0a1.75 1.75 0 1 0 -3.5 0M1044.7 185.1a1.75 1.75 0 1 0 3.5 0a1.75 1.75 0 1 0 -3.5 0M1243.0 137.0a1.75 1.75 0 1 0 3.5 0a1.75 1.75 0 1 0 -3.5 0M1054.8 155.2a1.75 1.75 0 1 0 3.5 0a1.75 1.75 0 1 0 -3.5 0M1065.8 164.3a1.75 1.75 0 1 0 3.5 0a1.75 1.75 0 1 0 -3.5 0M1088.6 179.4a1.75 1.75 0 1 0 3.5 0a1.75 1.75 0 1 0 -3.5 0M1079.9 151.3a1.75 1.75 0 1 0 3.5 0a1.75 1.75 0 1 0 -3.5 0M1124.6 169.3a1.75 1.75 0 1 0 3.5 0a1.75 1.75 0 1 0 -3.5 0M1063.8 138.2a1.75 1.75 0 1 0 3.5 0a1.75 1.75 0 1 0 -3.5 0M1171.4 130.9a1.75 1.75 0 1 0 3.5 0a1.75 1.75 0 1 0 -3.5 0M1063.3 191.2a1.75 1.75 0 1 0 3.5 0a1.75 1.75 0 1 0 -3.5 0M1122.9 170.2a1.75 1.75 0 1 0 3.5 0a1.75 1.75 0 1 0 -3.5 0M1044.8 168.6a1.75 1.75 0 1 0 3.5 0a1.75 1.75 0 1 0 -3.5 0M1080.3 186.3a1.75 1.75 0 1 0 3.5 0a1.75 1.75 0 1 0 -3.5 0M1039.8 186.2a1.75 1.75 0 1 0 3.5 0a1.75 1.75 0 1 0 -3.5 0M1082.7 158.5a1.75 1.75 0 1 0 3.5 0a1.75 1.75 0 1 0 -3.5 0M1075.8 165.2a1.75 1.75 0 1 0 3.5 0a1.75 1.75 0 1 0 -3.5 0M1115.4 195.5a1.75 1.75 0 1 0 3.5 0a1.75 1.75 0 1 0 -3.5 0M1082.5 172.2a1.75 1.75 0 1 0 3.5 0a1.75 1.75 0 1 0 -3.5 0M1049.3 150.1a1.75 1.75 0 1 0 3.5 0a1.75 1.75 0 1 0 -3.5 0M1251.7 181.5a1.75 1.75 0 1 0 3.5 0a1.75 1.75 0 1 0 -3.5 0M1155.7 178.3a1.75 1.75 0 1 0 3.5 0a1.75 1.75 0 1 0 -3.5 0M1161.5 123.3a1.75 1.75 0 1 0 3.5 0a1.75 1.75 0 1 0 -3.5 0M1066.9 132.2a1.75 1.75 0 1 0 3.5 0a1.75 1.75 0 1 0 -3.5 0M1082.5 195.9a1.75 1.75 0 1 0 3.5 0a1.75 1.75 0 1 0 -3.5 0M1065.1 190.5a1.75 1.75 0 1 0 3.5 0a1.75 1.75 0 1 0 -3.5 0M1055.8 153.0a1.75 1.75 0 1 0 3.5 0a1.75 1.75 0 1 0 -3.5 0M1035.5 188.0a1.75 1.75 0 1 0 3.5 0a1.75 1.75 0 1 0 -3.5 0M1093.3 165.6a1.75 1.75 0 1 0 3.5 0a1.75 1.75 0 1 0 -3.5 0M1047.3 171.4a1.75 1.75 0 1 0 3.5 0a1.75 1.75 0 1 0 -3.5 0M1070.9 148.6a1.75 1.75 0 1 0 3.5 0a1.75 1.75 0 1 0 -3.5 0M1149.0 213.6a1.75 1.75 0 1 0 3.5 0a1.75 1.75 0 1 0 -3.5 0M1082.2 208.6a1.75 1.75 0 1 0 3.5 0a1.75 1.75 0 1 0 -3.5 0M1063.6 187.8a1.75 1.75 0 1 0 3.5 0a1.75 1.75 0 1 0 -3.5 0M1114.6 137.3a1.75 1.75 0 1 0 3.5 0a1.75 1.75 0 1 0 -3.5 0M1071.4 164.2a1.75 1.75 0 1 0 3.5 0a1.75 1.75 0 1 0 -3.5 0M1087.0 197.6a1.75 1.75 0 1 0 3.5 0a1.75 1.75 0 1 0 -3.5 0M1072.0 150.0a1.75 1.75 0 1 0 3.5 0a1.75 1.75 0 1 0 -3.5 0M1095.3 144.6a1.75 1.75 0 1 0 3.5 0a1.75 1.75 0 1 0 -3.5 0M1087.6 165.7a1.75 1.75 0 1 0 3.5 0a1.75 1.75 0 1 0 -3.5 0M1093.8 167.3a1.75 1.75 0 1 0 3.5 0a1.75 1.75 0 1 0 -3.5 0M1072.8 151.2a1.75 1.75 0 1 0 3.5 0a1.75 1.75 0 1 0 -3.5 0M1123.5 132.7a1.75 1.75 0 1 0 3.5 0a1.75 1.75 0 1 0 -3.5 0M1147.1 155.1a1.75 1.75 0 1 0 3.5 0a1.75 1.75 0 1 0 -3.5 0M1063.0 149.4a1.75 1.75 0 1 0 3.5 0a1.75 1.75 0 1 0 -3.5 0M1047.6 162.6a1.75 1.75 0 1 0 3.5 0a1.75 1.75 0 1 0 -3.5 0M1051.9 169.7a1.75 1.75 0 1 0 3.5 0a1.75 1.75 0 1 0 -3.5 0M1228.7 175.9a1.75 1.75 0 1 0 3.5 0a1.75 1.75 0 1 0 -3.5 0M1186.9 151.6a1.75 1.75 0 1 0 3.5 0a1.75 1.75 0 1 0 -3.5 0M1062.4 167.6a1.75 1.75 0 1 0 3.5 0a1.75 1.75 0 1 0 -3.5 0M1210.6 161.7a1.75 1.75 0 1 0 3.5 0a1.75 1.75 0 1 0 -3.5 0M1057.7 140.9a1.75 1.75 0 1 0 3.5 0a1.75 1.75 0 1 0 -3.5 0M1092.0 149.5a1.75 1.75 0 1 0 3.5 0a1.75 1.75 0 1 0 -3.5 0M1100.5 140.9a1.75 1.75 0 1 0 3.5 0a1.75 1.75 0 1 0 -3.5 0M1160.6 192.4a1.75 1.75 0 1 0 3.5 0a1.75 1.75 0 1 0 -3.5 0M1055.8 149.1a1.75 1.75 0 1 0 3.5 0a1.75 1.75 0 1 0 -3.5 0M1081.5 173.4a1.75 1.75 0 1 0 3.5 0a1.75 1.75 0 1 0 -3.5 0M1090.8 177.8a1.75 1.75 0 1 0 3.5 0a1.75 1.75 0 1 0 -3.5 0M1054.4 179.9a1.75 1.75 0 1 0 3.5 0a1.75 1.75 0 1 0 -3.5 0M1061.8 134.6a1.75 1.75 0 1 0 3.5 0a1.75 1.75 0 1 0 -3.5 0M1085.1 142.3a1.75 1.75 0 1 0 3.5 0a1.75 1.75 0 1 0 -3.5 0M1145.6 174.1a1.75 1.75 0 1 0 3.5 0a1.75 1.75 0 1 0 -3.5 0M1117.2 184.2a1.75 1.75 0 1 0 3.5 0a1.75 1.75 0 1 0 -3.5 0M1140.8 158.3a1.75 1.75 0 1 0 3.5 0a1.75 1.75 0 1 0 -3.5 0M1122.0 169.2a1.75 1.75 0 1 0 3.5 0a1.75 1.75 0 1 0 -3.5 0M1103.2 123.5a1.75 1.75 0 1 0 3.5 0a1.75 1.75 0 1 0 -3.5 0M1137.4 190.6a1.75 1.75 0 1 0 3.5 0a1.75 1.75 0 1 0 -3.5 0M1105.3 199.7a1.75 1.75 0 1 0 3.5 0a1.75 1.75 0 1 0 -3.5 0M1123.5 164.7a1.75 1.75 0 1 0 3.5 0a1.75 1.75 0 1 0 -3.5 0M1068.4 160.7a1.75 1.75 0 1 0 3.5 0a1.75 1.75 0 1 0 -3.5 0M1070.0 157.9a1.75 1.75 0 1 0 3.5 0a1.75 1.75 0 1 0 -3.5 0M1116.4 142.9a1.75 1.75 0 1 0 3.5 0a1.75 1.75 0 1 0 -3.5 0M1066.2 115.7a1.75 1.75 0 1 0 3.5 0a1.75 1.75 0 1 0 -3.5 0M1173.2 165.1a1.75 1.75 0 1 0 3.5 0a1.75 1.75 0 1 0 -3.5 0M1093.2 172.0a1.75 1.75 0 1 0 3.5 0a1.75 1.75 0 1 0 -3.5 0M1083.2 198.9a1.75 1.75 0 1 0 3.5 0a1.75 1.75 0 1 0 -3.5 0M1174.8 152.2a1.75 1.75 0 1 0 3.5 0a1.75 1.75 0 1 0 -3.5 0M1070.3 142.2a1.75 1.75 0 1 0 3.5 0a1.75 1.75 0 1 0 -3.5 0M1095.0 165.7a1.75 1.75 0 1 0 3.5 0a1.75 1.75 0 1 0 -3.5 0M1056.0 135.5a1.75 1.75 0 1 0 3.5 0a1.75 1.75 0 1 0 -3.5 0M1199.2 156.1a1.75 1.75 0 1 0 3.5 0a1.75 1.75 0 1 0 -3.5 0M1099.2 126.8a1.75 1.75 0 1 0 3.5 0a1.75 1.75 0 1 0 -3.5 0M1130.8 151.6a1.75 1.75 0 1 0 3.5 0a1.75 1.75 0 1 0 -3.5 0M1068.0 184.0a1.75 1.75 0 1 0 3.5 0a1.75 1.75 0 1 0 -3.5 0M1118.4 173.2a1.75 1.75 0 1 0 3.5 0a1.75 1.75 0 1 0 -3.5 0M1104.9 193.2a1.75 1.75 0 1 0 3.5 0a1.75 1.75 0 1 0 -3.5 0M1105.7 197.7a1.75 1.75 0 1 0 3.5 0a1.75 1.75 0 1 0 -3.5 0M1181.9 151.5a1.75 1.75 0 1 0 3.5 0a1.75 1.75 0 1 0 -3.5 0M1081.2 141.5a1.75 1.75 0 1 0 3.5 0a1.75 1.75 0 1 0 -3.5 0M1085.6 117.6a1.75 1.75 0 1 0 3.5 0a1.75 1.75 0 1 0 -3.5 0M1101.2 161.1a1.75 1.75 0 1 0 3.5 0a1.75 1.75 0 1 0 -3.5 0M1132.8 164.0a1.75 1.75 0 1 0 3.5 0a1.75 1.75 0 1 0 -3.5 0M1077.3 184.8a1.75 1.75 0 1 0 3.5 0a1.75 1.75 0 1 0 -3.5 0M1112.9 137.9a1.75 1.75 0 1 0 3.5 0a1.75 1.75 0 1 0 -3.5 0M1065.6 152.5a1.75 1.75 0 1 0 3.5 0a1.75 1.75 0 1 0 -3.5 0M1094.0 173.1a1.75 1.75 0 1 0 3.5 0a1.75 1.75 0 1 0 -3.5 0M1126.5 144.0a1.75 1.75 0 1 0 3.5 0a1.75 1.75 0 1 0 -3.5 0M1052.6 149.1a1.75 1.75 0 1 0 3.5 0a1.75 1.75 0 1 0 -3.5 0M1105.2 200.6a1.75 1.75 0 1 0 3.5 0a1.75 1.75 0 1 0 -3.5 0M1030.0 145.9a1.75 1.75 0 1 0 3.5 0a1.75 1.75 0 1 0 -3.5 0M1194.5 153.9a1.75 1.75 0 1 0 3.5 0a1.75 1.75 0 1 0 -3.5 0M1084.8 168.9a1.75 1.75 0 1 0 3.5 0a1.75 1.75 0 1 0 -3.5 0M1080.8 169.6a1.75 1.75 0 1 0 3.5 0a1.75 1.75 0 1 0 -3.5 0M1101.8 121.6a1.75 1.75 0 1 0 3.5 0a1.75 1.75 0 1 0 -3.5 0M1092.9 126.6a1.75 1.75 0 1 0 3.5 0a1.75 1.75 0 1 0 -3.5 0M1106.6 119.8a1.75 1.75 0 1 0 3.5 0a1.75 1.75 0 1 0 -3.5 0M1051.6 186.5a1.75 1.75 0 1 0 3.5 0a1.75 1.75 0 1 0 -3.5 0M1095.1 174.3a1.75 1.75 0 1 0 3.5 0a1.75 1.75 0 1 0 -3.5 0M1100.3 140.1a1.75 1.75 0 1 0 3.5 0a1.75 1.75 0 1 0 -3.5 0M1163.8 184.3a1.75 1.75 0 1 0 3.5 0a1.75 1.75 0 1 0 -3.5 0M1049.1 177.2a1.75 1.75 0 1 0 3.5 0a1.75 1.75 0 1 0 -3.5 0M1081.0 199.9a1.75 1.75 0 1 0 3.5 0a1.75 1.75 0 1 0 -3.5 0M1099.4 119.4a1.75 1.75 0 1 0 3.5 0a1.75 1.75 0 1 0 -3.5 0M1096.8 136.8a1.75 1.75 0 1 0 3.5 0a1.75 1.75 0 1 0 -3.5 0M1050.0 151.4a1.75 1.75 0 1 0 3.5 0a1.75 1.75 0 1 0 -3.5 0M1098.4 155.2a1.75 1.75 0 1 0 3.5 0a1.75 1.75 0 1 0 -3.5 0M1064.7 170.1a1.75 1.75 0 1 0 3.5 0a1.75 1.75 0 1 0 -3.5 0M1071.6 169.5a1.75 1.75 0 1 0 3.5 0a1.75 1.75 0 1 0 -3.5 0M1148.5 144.9a1.75 1.75 0 1 0 3.5 0a1.75 1.75 0 1 0 -3.5 0M1059.5 176.7a1.75 1.75 0 1 0 3.5 0a1.75 1.75 0 1 0 -3.5 0M1084.1 133.6a1.75 1.75 0 1 0 3.5 0a1.75 1.75 0 1 0 -3.5 0M1119.8 170.0a1.75 1.75 0 1 0 3.5 0a1.75 1.75 0 1 0 -3.5 0M1113.3 178.6a1.75 1.75 0 1 0 3.5 0a1.75 1.75 0 1 0 -3.5 0M1095.4 131.7a1.75 1.75 0 1 0 3.5 0a1.75 1.75 0 1 0 -3.5 0M1137.3 161.9a1.75 1.75 0 1 0 3.5 0a1.75 1.75 0 1 0 -3.5 0M1073.4 148.6a1.75 1.75 0 1 0 3.5 0a1.75 1.75 0 1 0 -3.5 0M1098.0 169.0a1.75 1.75 0 1 0 3.5 0a1.75 1.75 0 1 0 -3.5 0M1130.9 208.1a1.75 1.75 0 1 0 3.5 0a1.75 1.75 0 1 0 -3.5 0M1115.0 147.5a1.75 1.75 0 1 0 3.5 0a1.75 1.75 0 1 0 -3.5 0M1113.7 188.9a1.75 1.75 0 1 0 3.5 0a1.75 1.75 0 1 0 -3.5 0M1076.5 137.0a1.75 1.75 0 1 0 3.5 0a1.75 1.75 0 1 0 -3.5 0M1088.4 194.1a1.75 1.75 0 1 0 3.5 0a1.75 1.75 0 1 0 -3.5 0M1084.9 201.1a1.75 1.75 0 1 0 3.5 0a1.75 1.75 0 1 0 -3.5 0M1122.5 152.5a1.75 1.75 0 1 0 3.5 0a1.75 1.75 0 1 0 -3.5 0M1073.9 151.4a1.75 1.75 0 1 0 3.5 0a1.75 1.75 0 1 0 -3.5 0M1079.3 158.2a1.75 1.75 0 1 0 3.5 0a1.75 1.75 0 1 0 -3.5 0M1119.1 185.8a1.75 1.75 0 1 0 3.5 0a1.75 1.75 0 1 0 -3.5 0M1092.5 140.7a1.75 1.75 0 1 0 3.5 0a1.75 1.75 0 1 0 -3.5 0M1081.4 192.5a1.75 1.75 0 1 0 3.5 0a1.75 1.75 0 1 0 -3.5 0M1143.2 168.7a1.75 1.75 0 1 0 3.5 0a1.75 1.75 0 1 0 -3.5 0M1083.7 177.6a1.75 1.75 0 1 0 3.5 0a1.75 1.75 0 1 0 -3.5 0M1132.3 167.1a1.75 1.75 0 1 0 3.5 0a1.75 1.75 0 1 0 -3.5 0M1122.4 140.6a1.75 1.75 0 1 0 3.5 0a1.75 1.75 0 1 0 -3.5 0M1079.2 174.4a1.75 1.75 0 1 0 3.5 0a1.75 1.75 0 1 0 -3.5 0M1115.4 147.1a1.75 1.75 0 1 0 3.5 0a1.75 1.75 0 1 0 -3.5 0M1030.0 146.9a1.75 1.75 0 1 0 3.5 0a1.75 1.75 0 1 0 -3.5 0M1079.5 197.9a1.75 1.75 0 1 0 3.5 0a1.75 1.75 0 1 0 -3.5 0M1157.7 183.6a1.75 1.75 0 1 0 3.5 0a1.75 1.75 0 1 0 -3.5 0M1092.3 168.5a1.75 1.75 0 1 0 3.5 0a1.75 1.75 0 1 0 -3.5 0M1090.4 173.1a1.75 1.75 0 1 0 3.5 0a1.75 1.75 0 1 0 -3.5 0M1109.1 152.9a1.75 1.75 0 1 0 3.5 0a1.75 1.75 0 1 0 -3.5 0M1105.7 201.9a1.75 1.75 0 1 0 3.5 0a1.75 1.75 0 1 0 -3.5 0M1100.0 144.1a1.75 1.75 0 1 0 3.5 0a1.75 1.75 0 1 0 -3.5 0M1073.3 144.5a1.75 1.75 0 1 0 3.5 0a1.75 1.75 0 1 0 -3.5 0M1060.6 164.8a1.75 1.75 0 1 0 3.5 0a1.75 1.75 0 1 0 -3.5 0M1058.9 191.4a1.75 1.75 0 1 0 3.5 0a1.75 1.75 0 1 0 -3.5 0M1067.9 160.8a1.75 1.75 0 1 0 3.5 0a1.75 1.75 0 1 0 -3.5 0M1076.3 172.4a1.75 1.75 0 1 0 3.5 0a1.75 1.75 0 1 0 -3.5 0M1258.8 142.5a1.75 1.75 0 1 0 3.5 0a1.75 1.75 0 1 0 -3.5 0M1085.0 162.2a1.75 1.75 0 1 0 3.5 0a1.75 1.75 0 1 0 -3.5 0M1085.7 144.4a1.75 1.75 0 1 0 3.5 0a1.75 1.75 0 1 0 -3.5 0M1075.8 170.1a1.75 1.75 0 1 0 3.5 0a1.75 1.75 0 1 0 -3.5 0M1086.6 128.8a1.75 1.75 0 1 0 3.5 0a1.75 1.75 0 1 0 -3.5 0M1179.0 207.8a1.75 1.75 0 1 0 3.5 0a1.75 1.75 0 1 0 -3.5 0M1158.4 180.3a1.75 1.75 0 1 0 3.5 0a1.75 1.75 0 1 0 -3.5 0M1083.2 149.7a1.75 1.75 0 1 0 3.5 0a1.75 1.75 0 1 0 -3.5 0M1058.5 194.2a1.75 1.75 0 1 0 3.5 0a1.75 1.75 0 1 0 -3.5 0M1154.6 142.1a1.75 1.75 0 1 0 3.5 0a1.75 1.75 0 1 0 -3.5 0M1099.8 186.5a1.75 1.75 0 1 0 3.5 0a1.75 1.75 0 1 0 -3.5 0M1115.0 157.4a1.75 1.75 0 1 0 3.5 0a1.75 1.75 0 1 0 -3.5 0M1053.5 181.3a1.75 1.75 0 1 0 3.5 0a1.75 1.75 0 1 0 -3.5 0M1156.9 167.7a1.75 1.75 0 1 0 3.5 0a1.75 1.75 0 1 0 -3.5 0M1084.3 156.6a1.75 1.75 0 1 0 3.5 0a1.75 1.75 0 1 0 -3.5 0M1091.8 162.4a1.75 1.75 0 1 0 3.5 0a1.75 1.75 0 1 0 -3.5 0M1059.1 169.5a1.75 1.75 0 1 0 3.5 0a1.75 1.75 0 1 0 -3.5 0M1082.6 113.4a1.75 1.75 0 1 0 3.5 0a1.75 1.75 0 1 0 -3.5 0M1132.0 158.7a1.75 1.75 0 1 0 3.5 0a1.75 1.75 0 1 0 -3.5 0M1135.5 180.0a1.75 1.75 0 1 0 3.5 0a1.75 1.75 0 1 0 -3.5 0M1086.5 140.0a1.75 1.75 0 1 0 3.5 0a1.75 1.75 0 1 0 -3.5 0M1123.6 141.2a1.75 1.75 0 1 0 3.5 0a1.75 1.75 0 1 0 -3.5 0M1079.7 133.8a1.75 1.75 0 1 0 3.5 0a1.75 1.75 0 1 0 -3.5 0M1085.8 121.3a1.75 1.75 0 1 0 3.5 0a1.75 1.75 0 1 0 -3.5 0M1090.7 180.7a1.75 1.75 0 1 0 3.5 0a1.75 1.75 0 1 0 -3.5 0M1072.1 137.6a1.75 1.75 0 1 0 3.5 0a1.75 1.75 0 1 0 -3.5 0M1085.3 135.5a1.75 1.75 0 1 0 3.5 0a1.75 1.75 0 1 0 -3.5 0M1106.3 159.7a1.75 1.75 0 1 0 3.5 0a1.75 1.75 0 1 0 -3.5 0M1120.2 153.9a1.75 1.75 0 1 0 3.5 0a1.75 1.75 0 1 0 -3.5 0M1045.0 227.2a1.75 1.75 0 1 0 3.5 0a1.75 1.75 0 1 0 -3.5 0M1114.3 172.0a1.75 1.75 0 1 0 3.5 0a1.75 1.75 0 1 0 -3.5 0M1132.7 119.8a1.75 1.75 0 1 0 3.5 0a1.75 1.75 0 1 0 -3.5 0M1072.2 199.8a1.75 1.75 0 1 0 3.5 0a1.75 1.75 0 1 0 -3.5 0M1056.0 173.0a1.75 1.75 0 1 0 3.5 0a1.75 1.75 0 1 0 -3.5 0M1109.7 153.3a1.75 1.75 0 1 0 3.5 0a1.75 1.75 0 1 0 -3.5 0M1067.4 148.3a1.75 1.75 0 1 0 3.5 0a1.75 1.75 0 1 0 -3.5 0M1111.7 123.9a1.75 1.75 0 1 0 3.5 0a1.75 1.75 0 1 0 -3.5 0M1072.7 199.3a1.75 1.75 0 1 0 3.5 0a1.75 1.75 0 1 0 -3.5 0M1087.9 159.3a1.75 1.75 0 1 0 3.5 0a1.75 1.75 0 1 0 -3.5 0M1064.9 142.2a1.75 1.75 0 1 0 3.5 0a1.75 1.75 0 1 0 -3.5 0M1072.8 189.4a1.75 1.75 0 1 0 3.5 0a1.75 1.75 0 1 0 -3.5 0M1093.9 161.0a1.75 1.75 0 1 0 3.5 0a1.75 1.75 0 1 0 -3.5 0M1097.2 118.8a1.75 1.75 0 1 0 3.5 0a1.75 1.75 0 1 0 -3.5 0M1067.1 132.2a1.75 1.75 0 1 0 3.5 0a1.75 1.75 0 1 0 -3.5 0M1196.8 145.1a1.75 1.75 0 1 0 3.5 0a1.75 1.75 0 1 0 -3.5 0M1058.3 218.3a1.75 1.75 0 1 0 3.5 0a1.75 1.75 0 1 0 -3.5 0M1061.1 164.0a1.75 1.75 0 1 0 3.5 0a1.75 1.75 0 1 0 -3.5 0M1070.6 152.4a1.75 1.75 0 1 0 3.5 0a1.75 1.75 0 1 0 -3.5 0M1045.0 168.4a1.75 1.75 0 1 0 3.5 0a1.75 1.75 0 1 0 -3.5 0M1079.8 162.0a1.75 1.75 0 1 0 3.5 0a1.75 1.75 0 1 0 -3.5 0M1116.2 92.0a1.75 1.75 0 1 0 3.5 0a1.75 1.75 0 1 0 -3.5 0M1114.6 164.1a1.75 1.75 0 1 0 3.5 0a1.75 1.75 0 1 0 -3.5 0M1060.1 182.3a1.75 1.75 0 1 0 3.5 0a1.75 1.75 0 1 0 -3.5 0M1049.1 156.2a1.75 1.75 0 1 0 3.5 0a1.75 1.75 0 1 0 -3.5 0M1080.0 167.4a1.75 1.75 0 1 0 3.5 0a1.75 1.75 0 1 0 -3.5 0M1125.9 165.8a1.75 1.75 0 1 0 3.5 0a1.75 1.75 0 1 0 -3.5 0M1085.7 162.2a1.75 1.75 0 1 0 3.5 0a1.75 1.75 0 1 0 -3.5 0M1169.6 140.8a1.75 1.75 0 1 0 3.5 0a1.75 1.75 0 1 0 -3.5 0M1106.1 154.5a1.75 1.75 0 1 0 3.5 0a1.75 1.75 0 1 0 -3.5 0M1087.7 186.5a1.75 1.75 0 1 0 3.5 0a1.75 1.75 0 1 0 -3.5 0M1125.7 162.0a1.75 1.75 0 1 0 3.5 0a1.75 1.75 0 1 0 -3.5 0M1129.6 148.6a1.75 1.75 0 1 0 3.5 0a1.75 1.75 0 1 0 -3.5 0M1072.4 171.0a1.75 1.75 0 1 0 3.5 0a1.75 1.75 0 1 0 -3.5 0M1068.8 135.8a1.75 1.75 0 1 0 3.5 0a1.75 1.75 0 1 0 -3.5 0M1074.7 143.7a1.75 1.75 0 1 0 3.5 0a1.75 1.75 0 1 0 -3.5 0M1078.8 182.2a1.75 1.75 0 1 0 3.5 0a1.75 1.75 0 1 0 -3.5 0M1065.2 154.0a1.75 1.75 0 1 0 3.5 0a1.75 1.75 0 1 0 -3.5 0M1081.0 117.1a1.75 1.75 0 1 0 3.5 0a1.75 1.75 0 1 0 -3.5 0M1115.4 125.3a1.75 1.75 0 1 0 3.5 0a1.75 1.75 0 1 0 -3.5 0M1053.1 162.6a1.75 1.75 0 1 0 3.5 0a1.75 1.75 0 1 0 -3.5 0M1048.8 141.9a1.75 1.75 0 1 0 3.5 0a1.75 1.75 0 1 0 -3.5 0M1068.0 175.6a1.75 1.75 0 1 0 3.5 0a1.75 1.75 0 1 0 -3.5 0M1064.4 192.7a1.75 1.75 0 1 0 3.5 0a1.75 1.75 0 1 0 -3.5 0M1193.8 144.8a1.75 1.75 0 1 0 3.5 0a1.75 1.75 0 1 0 -3.5 0M1034.0 156.6a1.75 1.75 0 1 0 3.5 0a1.75 1.75 0 1 0 -3.5 0M1064.8 149.8a1.75 1.75 0 1 0 3.5 0a1.75 1.75 0 1 0 -3.5 0M1061.7 161.6a1.75 1.75 0 1 0 3.5 0a1.75 1.75 0 1 0 -3.5 0M1075.6 153.5a1.75 1.75 0 1 0 3.5 0a1.75 1.75 0 1 0 -3.5 0M1030.8 173.3a1.75 1.75 0 1 0 3.5 0a1.75 1.75 0 1 0 -3.5 0M1078.5 150.2a1.75 1.75 0 1 0 3.5 0a1.75 1.75 0 1 0 -3.5 0M1061.9 142.9a1.75 1.75 0 1 0 3.5 0a1.75 1.75 0 1 0 -3.5 0M1069.7 162.1a1.75 1.75 0 1 0 3.5 0a1.75 1.75 0 1 0 -3.5 0M1127.8 141.2a1.75 1.75 0 1 0 3.5 0a1.75 1.75 0 1 0 -3.5 0M1062.6 199.8a1.75 1.75 0 1 0 3.5 0a1.75 1.75 0 1 0 -3.5 0M1095.5 177.2a1.75 1.75 0 1 0 3.5 0a1.75 1.75 0 1 0 -3.5 0M1085.2 128.8a1.75 1.75 0 1 0 3.5 0a1.75 1.75 0 1 0 -3.5 0M1077.3 122.1a1.75 1.75 0 1 0 3.5 0a1.75 1.75 0 1 0 -3.5 0M1138.0 153.2a1.75 1.75 0 1 0 3.5 0a1.75 1.75 0 1 0 -3.5 0M1064.1 163.3a1.75 1.75 0 1 0 3.5 0a1.75 1.75 0 1 0 -3.5 0M1168.3 185.4a1.75 1.75 0 1 0 3.5 0a1.75 1.75 0 1 0 -3.5 0M1158.3 150.1a1.75 1.75 0 1 0 3.5 0a1.75 1.75 0 1 0 -3.5 0M1103.0 142.8a1.75 1.75 0 1 0 3.5 0a1.75 1.75 0 1 0 -3.5 0M1057.1 193.6a1.75 1.75 0 1 0 3.5 0a1.75 1.75 0 1 0 -3.5 0M1110.7 147.3a1.75 1.75 0 1 0 3.5 0a1.75 1.75 0 1 0 -3.5 0M1098.1 149.2a1.75 1.75 0 1 0 3.5 0a1.75 1.75 0 1 0 -3.5 0M1124.7 149.5a1.75 1.75 0 1 0 3.5 0a1.75 1.75 0 1 0 -3.5 0M1070.2 185.5a1.75 1.75 0 1 0 3.5 0a1.75 1.75 0 1 0 -3.5 0M1192.6 145.1a1.75 1.75 0 1 0 3.5 0a1.75 1.75 0 1 0 -3.5 0M1154.7 190.9a1.75 1.75 0 1 0 3.5 0a1.75 1.75 0 1 0 -3.5 0M1047.0 129.0a1.75 1.75 0 1 0 3.5 0a1.75 1.75 0 1 0 -3.5 0M1079.5 157.6a1.75 1.75 0 1 0 3.5 0a1.75 1.75 0 1 0 -3.5 0M1038.6 187.2a1.75 1.75 0 1 0 3.5 0a1.75 1.75 0 1 0 -3.5 0M1132.9 129.5a1.75 1.75 0 1 0 3.5 0a1.75 1.75 0 1 0 -3.5 0M1159.8 132.8a1.75 1.75 0 1 0 3.5 0a1.75 1.75 0 1 0 -3.5 0M1242.7 169.6a1.75 1.75 0 1 0 3.5 0a1.75 1.75 0 1 0 -3.5 0M1098.3 111.8a1.75 1.75 0 1 0 3.5 0a1.75 1.75 0 1 0 -3.5 0M1110.7 181.5a1.75 1.75 0 1 0 3.5 0a1.75 1.75 0 1 0 -3.5 0M1105.7 152.9a1.75 1.75 0 1 0 3.5 0a1.75 1.75 0 1 0 -3.5 0M1096.1 134.2a1.75 1.75 0 1 0 3.5 0a1.75 1.75 0 1 0 -3.5 0M1174.6 207.2a1.75 1.75 0 1 0 3.5 0a1.75 1.75 0 1 0 -3.5 0M1096.2 138.1a1.75 1.75 0 1 0 3.5 0a1.75 1.75 0 1 0 -3.5 0M1080.4 161.9a1.75 1.75 0 1 0 3.5 0a1.75 1.75 0 1 0 -3.5 0M1095.5 160.4a1.75 1.75 0 1 0 3.5 0a1.75 1.75 0 1 0 -3.5 0M1035.2 185.5a1.75 1.75 0 1 0 3.5 0a1.75 1.75 0 1 0 -3.5 0M1104.3 152.5a1.75 1.75 0 1 0 3.5 0a1.75 1.75 0 1 0 -3.5 0M1111.5 183.8a1.75 1.75 0 1 0 3.5 0a1.75 1.75 0 1 0 -3.5 0M1078.8 181.7a1.75 1.75 0 1 0 3.5 0a1.75 1.75 0 1 0 -3.5 0M1140.8 168.4a1.75 1.75 0 1 0 3.5 0a1.75 1.75 0 1 0 -3.5 0M1120.8 186.1a1.75 1.75 0 1 0 3.5 0a1.75 1.75 0 1 0 -3.5 0M1073.4 126.4a1.75 1.75 0 1 0 3.5 0a1.75 1.75 0 1 0 -3.5 0M1051.0 190.5a1.75 1.75 0 1 0 3.5 0a1.75 1.75 0 1 0 -3.5 0M1052.2 177.9a1.75 1.75 0 1 0 3.5 0a1.75 1.75 0 1 0 -3.5 0M1071.0 167.7a1.75 1.75 0 1 0 3.5 0a1.75 1.75 0 1 0 -3.5 0M1070.5 160.7a1.75 1.75 0 1 0 3.5 0a1.75 1.75 0 1 0 -3.5 0M1072.9 143.4a1.75 1.75 0 1 0 3.5 0a1.75 1.75 0 1 0 -3.5 0M1170.1 139.8a1.75 1.75 0 1 0 3.5 0a1.75 1.75 0 1 0 -3.5 0M1061.4 167.7a1.75 1.75 0 1 0 3.5 0a1.75 1.75 0 1 0 -3.5 0M1154.5 166.6a1.75 1.75 0 1 0 3.5 0a1.75 1.75 0 1 0 -3.5 0M1106.5 158.9a1.75 1.75 0 1 0 3.5 0a1.75 1.75 0 1 0 -3.5 0M1134.6 140.8a1.75 1.75 0 1 0 3.5 0a1.75 1.75 0 1 0 -3.5 0M1079.2 145.3a1.75 1.75 0 1 0 3.5 0a1.75 1.75 0 1 0 -3.5 0M1036.4 173.2a1.75 1.75 0 1 0 3.5 0a1.75 1.75 0 1 0 -3.5 0M1125.6 204.1a1.75 1.75 0 1 0 3.5 0a1.75 1.75 0 1 0 -3.5 0M1066.9 114.1a1.75 1.75 0 1 0 3.5 0a1.75 1.75 0 1 0 -3.5 0M1067.5 140.1a1.75 1.75 0 1 0 3.5 0a1.75 1.75 0 1 0 -3.5 0M1121.1 153.5a1.75 1.75 0 1 0 3.5 0a1.75 1.75 0 1 0 -3.5 0M1110.8 152.1a1.75 1.75 0 1 0 3.5 0a1.75 1.75 0 1 0 -3.5 0M1062.6 172.5a1.75 1.75 0 1 0 3.5 0a1.75 1.75 0 1 0 -3.5 0M1066.4 182.8a1.75 1.75 0 1 0 3.5 0a1.75 1.75 0 1 0 -3.5 0M1180.0 164.6a1.75 1.75 0 1 0 3.5 0a1.75 1.75 0 1 0 -3.5 0M1065.8 165.8a1.75 1.75 0 1 0 3.5 0a1.75 1.75 0 1 0 -3.5 0M1101.3 173.5a1.75 1.75 0 1 0 3.5 0a1.75 1.75 0 1 0 -3.5 0M1050.4 193.3a1.75 1.75 0 1 0 3.5 0a1.75 1.75 0 1 0 -3.5 0M1133.2 165.7a1.75 1.75 0 1 0 3.5 0a1.75 1.75 0 1 0 -3.5 0M1048.8 148.9a1.75 1.75 0 1 0 3.5 0a1.75 1.75 0 1 0 -3.5 0M1087.6 171.1a1.75 1.75 0 1 0 3.5 0a1.75 1.75 0 1 0 -3.5 0M1038.2 161.4a1.75 1.75 0 1 0 3.5 0a1.75 1.75 0 1 0 -3.5 0M1099.5 205.2a1.75 1.75 0 1 0 3.5 0a1.75 1.75 0 1 0 -3.5 0M1135.1 163.3a1.75 1.75 0 1 0 3.5 0a1.75 1.75 0 1 0 -3.5 0M1044.7 164.3a1.75 1.75 0 1 0 3.5 0a1.75 1.75 0 1 0 -3.5 0M1066.6 187.7a1.75 1.75 0 1 0 3.5 0a1.75 1.75 0 1 0 -3.5 0M1117.4 197.1a1.75 1.75 0 1 0 3.5 0a1.75 1.75 0 1 0 -3.5 0M1099.5 150.9a1.75 1.75 0 1 0 3.5 0a1.75 1.75 0 1 0 -3.5 0M1073.9 178.4a1.75 1.75 0 1 0 3.5 0a1.75 1.75 0 1 0 -3.5 0M1091.8 149.5a1.75 1.75 0 1 0 3.5 0a1.75 1.75 0 1 0 -3.5 0M1079.3 169.7a1.75 1.75 0 1 0 3.5 0a1.75 1.75 0 1 0 -3.5 0M1146.2 144.8a1.75 1.75 0 1 0 3.5 0a1.75 1.75 0 1 0 -3.5 0M1062.2 168.5a1.75 1.75 0 1 0 3.5 0a1.75 1.75 0 1 0 -3.5 0M1119.5 192.2a1.75 1.75 0 1 0 3.5 0a1.75 1.75 0 1 0 -3.5 0M1096.9 161.9a1.75 1.75 0 1 0 3.5 0a1.75 1.75 0 1 0 -3.5 0M1129.8 166.1a1.75 1.75 0 1 0 3.5 0a1.75 1.75 0 1 0 -3.5 0M1077.4 146.2a1.75 1.75 0 1 0 3.5 0a1.75 1.75 0 1 0 -3.5 0M1112.5 169.3a1.75 1.75 0 1 0 3.5 0a1.75 1.75 0 1 0 -3.5 0M1103.1 168.4a1.75 1.75 0 1 0 3.5 0a1.75 1.75 0 1 0 -3.5 0M1080.5 141.7a1.75 1.75 0 1 0 3.5 0a1.75 1.75 0 1 0 -3.5 0M1035.0 136.5a1.75 1.75 0 1 0 3.5 0a1.75 1.75 0 1 0 -3.5 0M1192.0 140.4a1.75 1.75 0 1 0 3.5 0a1.75 1.75 0 1 0 -3.5 0M1112.9 136.8a1.75 1.75 0 1 0 3.5 0a1.75 1.75 0 1 0 -3.5 0M1068.4 151.0a1.75 1.75 0 1 0 3.5 0a1.75 1.75 0 1 0 -3.5 0M1103.0 143.0a1.75 1.75 0 1 0 3.5 0a1.75 1.75 0 1 0 -3.5 0M1061.9 141.9a1.75 1.75 0 1 0 3.5 0a1.75 1.75 0 1 0 -3.5 0M1084.0 151.6a1.75 1.75 0 1 0 3.5 0a1.75 1.75 0 1 0 -3.5 0M1158.8 156.7a1.75 1.75 0 1 0 3.5 0a1.75 1.75 0 1 0 -3.5 0M1081.0 157.4a1.75 1.75 0 1 0 3.5 0a1.75 1.75 0 1 0 -3.5 0M1070.2 108.3a1.75 1.75 0 1 0 3.5 0a1.75 1.75 0 1 0 -3.5 0M1071.9 160.5a1.75 1.75 0 1 0 3.5 0a1.75 1.75 0 1 0 -3.5 0M1053.9 166.5a1.75 1.75 0 1 0 3.5 0a1.75 1.75 0 1 0 -3.5 0M1067.0 168.9a1.75 1.75 0 1 0 3.5 0a1.75 1.75 0 1 0 -3.5 0M1060.8 161.9a1.75 1.75 0 1 0 3.5 0a1.75 1.75 0 1 0 -3.5 0M1063.0 155.7a1.75 1.75 0 1 0 3.5 0a1.75 1.75 0 1 0 -3.5 0M1052.2 186.1a1.75 1.75 0 1 0 3.5 0a1.75 1.75 0 1 0 -3.5 0M1085.5 203.6a1.75 1.75 0 1 0 3.5 0a1.75 1.75 0 1 0 -3.5 0M1062.0 154.6a1.75 1.75 0 1 0 3.5 0a1.75 1.75 0 1 0 -3.5 0M1121.2 194.3a1.75 1.75 0 1 0 3.5 0a1.75 1.75 0 1 0 -3.5 0M1159.2 152.4a1.75 1.75 0 1 0 3.5 0a1.75 1.75 0 1 0 -3.5 0M1067.7 157.8a1.75 1.75 0 1 0 3.5 0a1.75 1.75 0 1 0 -3.5 0M1093.0 134.9a1.75 1.75 0 1 0 3.5 0a1.75 1.75 0 1 0 -3.5 0M1098.1 123.5a1.75 1.75 0 1 0 3.5 0a1.75 1.75 0 1 0 -3.5 0M1046.5 153.5a1.75 1.75 0 1 0 3.5 0a1.75 1.75 0 1 0 -3.5 0M1052.7 173.5a1.75 1.75 0 1 0 3.5 0a1.75 1.75 0 1 0 -3.5 0M1154.2 183.9a1.75 1.75 0 1 0 3.5 0a1.75 1.75 0 1 0 -3.5 0M1078.8 177.9a1.75 1.75 0 1 0 3.5 0a1.75 1.75 0 1 0 -3.5 0M1132.7 158.0a1.75 1.75 0 1 0 3.5 0a1.75 1.75 0 1 0 -3.5 0M1049.0 206.7a1.75 1.75 0 1 0 3.5 0a1.75 1.75 0 1 0 -3.5 0M1097.4 158.3a1.75 1.75 0 1 0 3.5 0a1.75 1.75 0 1 0 -3.5 0M1147.2 158.7a1.75 1.75 0 1 0 3.5 0a1.75 1.75 0 1 0 -3.5 0M1145.8 144.4a1.75 1.75 0 1 0 3.5 0a1.75 1.75 0 1 0 -3.5 0M1035.4 169.2a1.75 1.75 0 1 0 3.5 0a1.75 1.75 0 1 0 -3.5 0M1090.0 158.0a1.75 1.75 0 1 0 3.5 0a1.75 1.75 0 1 0 -3.5 0M1083.7 176.5a1.75 1.75 0 1 0 3.5 0a1.75 1.75 0 1 0 -3.5 0M1127.3 169.2a1.75 1.75 0 1 0 3.5 0a1.75 1.75 0 1 0 -3.5 0M1056.8 200.0a1.75 1.75 0 1 0 3.5 0a1.75 1.75 0 1 0 -3.5 0M1069.8 158.1a1.75 1.75 0 1 0 3.5 0a1.75 1.75 0 1 0 -3.5 0M1139.3 124.8a1.75 1.75 0 1 0 3.5 0a1.75 1.75 0 1 0 -3.5 0M1074.8 157.1a1.75 1.75 0 1 0 3.5 0a1.75 1.75 0 1 0 -3.5 0M1084.0 152.4a1.75 1.75 0 1 0 3.5 0a1.75 1.75 0 1 0 -3.5 0M1212.9 177.8a1.75 1.75 0 1 0 3.5 0a1.75 1.75 0 1 0 -3.5 0M1082.9 129.2a1.75 1.75 0 1 0 3.5 0a1.75 1.75 0 1 0 -3.5 0M1053.3 178.1a1.75 1.75 0 1 0 3.5 0a1.75 1.75 0 1 0 -3.5 0M1084.1 142.9a1.75 1.75 0 1 0 3.5 0a1.75 1.75 0 1 0 -3.5 0M1061.9 158.7a1.75 1.75 0 1 0 3.5 0a1.75 1.75 0 1 0 -3.5 0M1052.9 182.3a1.75 1.75 0 1 0 3.5 0a1.75 1.75 0 1 0 -3.5 0M1094.1 137.6a1.75 1.75 0 1 0 3.5 0a1.75 1.75 0 1 0 -3.5 0M1192.7 156.6a1.75 1.75 0 1 0 3.5 0a1.75 1.75 0 1 0 -3.5 0M1091.3 156.3a1.75 1.75 0 1 0 3.5 0a1.75 1.75 0 1 0 -3.5 0M1103.3 149.9a1.75 1.75 0 1 0 3.5 0a1.75 1.75 0 1 0 -3.5 0M1079.2 161.0a1.75 1.75 0 1 0 3.5 0a1.75 1.75 0 1 0 -3.5 0M1091.9 168.4a1.75 1.75 0 1 0 3.5 0a1.75 1.75 0 1 0 -3.5 0M1121.6 149.0a1.75 1.75 0 1 0 3.5 0a1.75 1.75 0 1 0 -3.5 0M1098.9 168.8a1.75 1.75 0 1 0 3.5 0a1.75 1.75 0 1 0 -3.5 0M1125.4 157.7a1.75 1.75 0 1 0 3.5 0a1.75 1.75 0 1 0 -3.5 0M1096.4 174.6a1.75 1.75 0 1 0 3.5 0a1.75 1.75 0 1 0 -3.5 0M1071.9 193.3a1.75 1.75 0 1 0 3.5 0a1.75 1.75 0 1 0 -3.5 0M1089.7 174.9a1.75 1.75 0 1 0 3.5 0a1.75 1.75 0 1 0 -3.5 0M1079.5 171.4a1.75 1.75 0 1 0 3.5 0a1.75 1.75 0 1 0 -3.5 0M1059.0 160.9a1.75 1.75 0 1 0 3.5 0a1.75 1.75 0 1 0 -3.5 0M1092.3 134.3a1.75 1.75 0 1 0 3.5 0a1.75 1.75 0 1 0 -3.5 0M1143.7 195.4a1.75 1.75 0 1 0 3.5 0a1.75 1.75 0 1 0 -3.5 0M1044.4 158.8a1.75 1.75 0 1 0 3.5 0a1.75 1.75 0 1 0 -3.5 0M1097.5 208.3a1.75 1.75 0 1 0 3.5 0a1.75 1.75 0 1 0 -3.5 0M1113.6 182.3a1.75 1.75 0 1 0 3.5 0a1.75 1.75 0 1 0 -3.5 0M1079.5 171.6a1.75 1.75 0 1 0 3.5 0a1.75 1.75 0 1 0 -3.5 0M1069.2 210.1a1.75 1.75 0 1 0 3.5 0a1.75 1.75 0 1 0 -3.5 0M1078.5 201.2a1.75 1.75 0 1 0 3.5 0a1.75 1.75 0 1 0 -3.5 0M1091.7 156.8a1.75 1.75 0 1 0 3.5 0a1.75 1.75 0 1 0 -3.5 0M1108.4 157.9a1.75 1.75 0 1 0 3.5 0a1.75 1.75 0 1 0 -3.5 0M1089.4 162.7a1.75 1.75 0 1 0 3.5 0a1.75 1.75 0 1 0 -3.5 0" fill="#ff0000" clip-path="url(#c03)"/>
<polygon points="1030.45,183.98 1261.95,177.16 1261.95,131.27 1030.45,137.83" fill="#ff0000" fill-opacity="0.3" stroke="#ff0000" stroke-opacity="0.3" stroke-width="1" clip-path="url(#c03)"/>
<path d="M1030.45 160.59L1261.95 154.21" stroke="#ff0000" stroke-width="4.77" fill="none" stroke-linecap="square" clip-path="url(#c03)"/>
<path d="M1030.45 162.13L1261.95 157.22" stroke="#000000" stroke-width="4.77" fill="none" stroke-linecap="butt" stroke-dasharray="17.65 7.63" clip-path="url(#c03)"/>
<path d="M92.4 455.9a2.0 2.0 0 1 0 4.0 0a2.0 2.0 0 1 0 -4.0 0M105.2 460.0a2.0 2.0 0 1 0 4.0 0a2.0 2.0 0 1 0 -4.0 0M102.0 475.4a2.0 2.0 0 1 0 4.0 0a2.0 2.0 0 1 0 -4.0 0M82.4 483.7a2.0 2.0 0 1 0 4.0 0a2.0 2.0 0 1 0 -4.0 0M80.6 490.4a2.0 2.0 0 1 0 4.0 0a2.0 2.0 0 1 0 -4.0 0M103.5 494.5a2.0 2.0 0 1 0 4.0 0a2.0 2.0 0 1 0 -4.0 0M99.3 500.4a2.0 2.0 0 1 0 4.0 0a2.0 2.0 0 1 0 -4.0 0M117.2 499.6a2.0 2.0 0 1 0 4.0 0a2.0 2.0 0 1 0 -4.0 0M128.4 497.1a2.0 2.0 0 1 0 4.0 0a2.0 2.0 0 1 0 -4.0 0M78.7 512.1a2.0 2.0 0 1 0 4.0 0a2.0 2.0 0 1 0 -4.0 0M86.0 510.2a2.0 2.0 0 1 0 4.0 0a2.0 2.0 0 1 0 -4.0 0M79.7 520.7a2.0 2.0 0 1 0 4.0 0a2.0 2.0 0 1 0 -4.0 0M122.6 515.3a2.0 2.0 0 1 0 4.0 0a2.0 2.0 0 1 0 -4.0 0M115.9 522.5a2.0 2.0 0 1 0 4.0 0a2.0 2.0 0 1 0 -4.0 0M71.5 527.3a2.0 2.0 0 1 0 4.0 0a2.0 2.0 0 1 0 -4.0 0M82.4 527.9a2.0 2.0 0 1 0 4.0 0a2.0 2.0 0 1 0 -4.0 0M87.3 526.8a2.0 2.0 0 1 0 4.0 0a2.0 2.0 0 1 0 -4.0 0M132.1 488.1a2.0 2.0 0 1 0 4.0 0a2.0 2.0 0 1 0 -4.0 0M134.5 493.9a2.0 2.0 0 1 0 4.0 0a2.0 2.0 0 1 0 -4.0 0M129.1 496.9a2.0 2.0 0 1 0 4.0 0a2.0 2.0 0 1 0 -4.0 0M139.9 511.8a2.0 2.0 0 1 0 4.0 0a2.0 2.0 0 1 0 -4.0 0M148.1 513.4a2.0 2.0 0 1 0 4.0 0a2.0 2.0 0 1 0 -4.0 0M145.4 518.2a2.0 2.0 0 1 0 4.0 0a2.0 2.0 0 1 0 -4.0 0M148.9 523.6a2.0 2.0 0 1 0 4.0 0a2.0 2.0 0 1 0 -4.0 0M152.7 520.4a2.0 2.0 0 1 0 4.0 0a2.0 2.0 0 1 0 -4.0 0M154.6 521.7a2.0 2.0 0 1 0 4.0 0a2.0 2.0 0 1 0 -4.0 0M164.2 529.7a2.0 2.0 0 1 0 4.0 0a2.0 2.0 0 1 0 -4.0 0M165.3 530.8a2.0 2.0 0 1 0 4.0 0a2.0 2.0 0 1 0 -4.0 0M169.3 517.7a2.0 2.0 0 1 0 4.0 0a2.0 2.0 0 1 0 -4.0 0M168.5 516.1a2.0 2.0 0 1 0 4.0 0a2.0 2.0 0 1 0 -4.0 0M171.7 516.1a2.0 2.0 0 1 0 4.0 0a2.0 2.0 0 1 0 -4.0 0M174.9 515.3a2.0 2.0 0 1 0 4.0 0a2.0 2.0 0 1 0 -4.0 0M177.6 514.0a2.0 2.0 0 1 0 4.0 0a2.0 2.0 0 1 0 -4.0 0M185.8 497.2a2.0 2.0 0 1 0 4.0 0a2.0 2.0 0 1 0 -4.0 0M186.2 528.1a2.0 2.0 0 1 0 4.0 0a2.0 2.0 0 1 0 -4.0 0M185.6 530.5a2.0 2.0 0 1 0 4.0 0a2.0 2.0 0 1 0 -4.0 0M187.5 509.7a2.0 2.0 0 1 0 4.0 0a2.0 2.0 0 1 0 -4.0 0M204.2 473.4a2.0 2.0 0 1 0 4.0 0a2.0 2.0 0 1 0 -4.0 0M214.2 490.7a2.0 2.0 0 1 0 4.0 0a2.0 2.0 0 1 0 -4.0 0M232.5 488.5a2.0 2.0 0 1 0 4.0 0a2.0 2.0 0 1 0 -4.0 0M189.9 493.2a2.0 2.0 0 1 0 4.0 0a2.0 2.0 0 1 0 -4.0 0M192.1 496.9a2.0 2.0 0 1 0 4.0 0a2.0 2.0 0 1 0 -4.0 0M197.4 502.0a2.0 2.0 0 1 0 4.0 0a2.0 2.0 0 1 0 -4.0 0M207.4 501.7a2.0 2.0 0 1 0 4.0 0a2.0 2.0 0 1 0 -4.0 0M213.4 512.9a2.0 2.0 0 1 0 4.0 0a2.0 2.0 0 1 0 -4.0 0M216.5 514.5a2.0 2.0 0 1 0 4.0 0a2.0 2.0 0 1 0 -4.0 0M222.1 512.1a2.0 2.0 0 1 0 4.0 0a2.0 2.0 0 1 0 -4.0 0M192.1 531.6a2.0 2.0 0 1 0 4.0 0a2.0 2.0 0 1 0 -4.0 0M201.4 526.8a2.0 2.0 0 1 0 4.0 0a2.0 2.0 0 1 0 -4.0 0M233.0 530.9a2.0 2.0 0 1 0 4.0 0a2.0 2.0 0 1 0 -4.0 0M247.5 501.2a2.0 2.0 0 1 0 4.0 0a2.0 2.0 0 1 0 -4.0 0M258.0 462.1a2.0 2.0 0 1 0 4.0 0a2.0 2.0 0 1 0 -4.0 0M269.3 485.9a2.0 2.0 0 1 0 4.0 0a2.0 2.0 0 1 0 -4.0 0M284.6 492.3a2.0 2.0 0 1 0 4.0 0a2.0 2.0 0 1 0 -4.0 0M261.2 502.0a2.0 2.0 0 1 0 4.0 0a2.0 2.0 0 1 0 -4.0 0M259.9 519.8a2.0 2.0 0 1 0 4.0 0a2.0 2.0 0 1 0 -4.0 0M276.7 521.4a2.0 2.0 0 1 0 4.0 0a2.0 2.0 0 1 0 -4.0 0" fill="#0000ff" clip-path="url(#c10)"/>
<polygon points="67.5,523.59 299,523.59 299,490.62 67.5,490.62" fill="#0000ff" fill-opacity="0.3" stroke="#0000ff" stroke-opacity="0.3" stroke-width="1" clip-path="url(#c10)"/>
<path d="M67.5 506.42L299 506.42" stroke="#0000ff" stroke-width="4.77" fill="none" stroke-linecap="square" clip-path="url(#c10)"/>
<path d="M67.5 510.34L299 510.34" stroke="#006400" stroke-width="4.77" fill="none" stroke-linecap="butt" stroke-dasharray="17.65 7.63" clip-path="url(#c10)"/>
<path d="M486.1 402.3a2.0 2.0 0 1 0 4.0 0a2.0 2.0 0 1 0 -4.0 0M450.5 424.7a2.0 2.0 0 1 0 4.0 0a2.0 2.0 0 1 0 -4.0 0M426.4 430.2a2.0 2.0 0 1 0 4.0 0a2.0 2.0 0 1 0 -4.0 0M475.2 435.4a2.0 2.0 0 1 0 4.0 0a2.0 2.0 0 1 0 -4.0 0M422.6 451.7a2.0 2.0 0 1 0 4.0 0a2.0 2.0 0 1 0 -4.0 0M424.8 453.5a2.0 2.0 0 1 0 4.0 0a2.0 2.0 0 1 0 -4.0 0M443.4 457.6a2.0 2.0 0 1 0 4.0 0a2.0 2.0 0 1 0 -4.0 0M442.3 465.6a2.0 2.0 0 1 0 4.0 0a2.0 2.0 0 1 0 -4.0 0M401.7 468.0a2.0 2.0 0 1 0 4.0 0a2.0 2.0 0 1 0 -4.0 0M413.5 474.4a2.0 2.0 0 1 0 4.0 0a2.0 2.0 0 1 0 -4.0 0M420.3 477.1a2.0 2.0 0 1 0 4.0 0a2.0 2.0 0 1 0 -4.0 0M425.5 477.8a2.0 2.0 0 1 0 4.0 0a2.0 2.0 0 1 0 -4.0 0M403.5 481.7a2.0 2.0 0 1 0 4.0 0a2.0 2.0 0 1 0 -4.0 0M438.4 486.4a2.0 2.0 0 1 0 4.0 0a2.0 2.0 0 1 0 -4.0 0M455.5 484.2a2.0 2.0 0 1 0 4.0 0a2.0 2.0 0 1 0 -4.0 0M465.7 477.8a2.0 2.0 0 1 0 4.0 0a2.0 2.0 0 1 0 -4.0 0M470.2 485.3a2.0 2.0 0 1 0 4.0 0a2.0 2.0 0 1 0 -4.0 0M474.3 488.0a2.0 2.0 0 1 0 4.0 0a2.0 2.0 0 1 0 -4.0 0M408.0 491.9a2.0 2.0 0 1 0 4.0 0a2.0 2.0 0 1 0 -4.0 0M406.7 500.5a2.0 2.0 0 1 0 4.0 0a2.0 2.0 0 1 0 -4.0 0M423.2 500.0a2.0 2.0 0 1 0 4.0 0a2.0 2.0 0 1 0 -4.0 0M436.9 504.1a2.0 2.0 0 1 0 4.0 0a2.0 2.0 0 1 0 -4.0 0M453.2 496.0a2.0 2.0 0 1 0 4.0 0a2.0 2.0 0 1 0 -4.0 0M461.1 493.0a2.0 2.0 0 1 0 4.0 0a2.0 2.0 0 1 0 -4.0 0M392.6 511.8a2.0 2.0 0 1 0 4.0 0a2.0 2.0 0 1 0 -4.0 0M403.3 510.7a2.0 2.0 0 1 0 4.0 0a2.0 2.0 0 1 0 -4.0 0M398.7 517.1a2.0 2.0 0 1 0 4.0 0a2.0 2.0 0 1 0 -4.0 0M400.3 518.2a2.0 2.0 0 1 0 4.0 0a2.0 2.0 0 1 0 -4.0 0M468.6 520.9a2.0 2.0 0 1 0 4.0 0a2.0 2.0 0 1 0 -4.0 0M485.0 464.9a2.0 2.0 0 1 0 4.0 0a2.0 2.0 0 1 0 -4.0 0M489.5 472.6a2.0 2.0 0 1 0 4.0 0a2.0 2.0 0 1 0 -4.0 0M494.0 456.7a2.0 2.0 0 1 0 4.0 0a2.0 2.0 0 1 0 -4.0 0M496.7 451.7a2.0 2.0 0 1 0 4.0 0a2.0 2.0 0 1 0 -4.0 0M498.1 478.3a2.0 2.0 0 1 0 4.0 0a2.0 2.0 0 1 0 -4.0 0M490.6 501.2a2.0 2.0 0 1 0 4.0 0a2.0 2.0 0 1 0 -4.0 0M518.4 418.4a2.0 2.0 0 1 0 4.0 0a2.0 2.0 0 1 0 -4.0 0M553.1 424.9a2.0 2.0 0 1 0 4.0 0a2.0 2.0 0 1 0 -4.0 0M578.5 421.1a2.0 2.0 0 1 0 4.0 0a2.0 2.0 0 1 0 -4.0 0M605.7 421.8a2.0 2.0 0 1 0 4.0 0a2.0 2.0 0 1 0 -4.0 0M580.1 430.1a2.0 2.0 0 1 0 4.0 0a2.0 2.0 0 1 0 -4.0 0M589.8 434.0a2.0 2.0 0 1 0 4.0 0a2.0 2.0 0 1 0 -4.0 0M597.8 437.4a2.0 2.0 0 1 0 4.0 0a2.0 2.0 0 1 0 -4.0 0M543.4 439.2a2.0 2.0 0 1 0 4.0 0a2.0 2.0 0 1 0 -4.0 0M534.7 444.9a2.0 2.0 0 1 0 4.0 0a2.0 2.0 0 1 0 -4.0 0M555.8 445.3a2.0 2.0 0 1 0 4.0 0a2.0 2.0 0 1 0 -4.0 0M506.6 455.5a2.0 2.0 0 1 0 4.0 0a2.0 2.0 0 1 0 -4.0 0M508.9 456.7a2.0 2.0 0 1 0 4.0 0a2.0 2.0 0 1 0 -4.0 0M513.4 459.0a2.0 2.0 0 1 0 4.0 0a2.0 2.0 0 1 0 -4.0 0M525.2 453.5a2.0 2.0 0 1 0 4.0 0a2.0 2.0 0 1 0 -4.0 0M518.0 460.8a2.0 2.0 0 1 0 4.0 0a2.0 2.0 0 1 0 -4.0 0M507.1 463.0a2.0 2.0 0 1 0 4.0 0a2.0 2.0 0 1 0 -4.0 0M541.1 461.2a2.0 2.0 0 1 0 4.0 0a2.0 2.0 0 1 0 -4.0 0M553.6 456.7a2.0 2.0 0 1 0 4.0 0a2.0 2.0 0 1 0 -4.0 0M506.6 475.5a2.0 2.0 0 1 0 4.0 0a2.0 2.0 0 1 0 -4.0 0M510.5 473.9a2.0 2.0 0 1 0 4.0 0a2.0 2.0 0 1 0 -4.0 0M513.4 481.8a2.0 2.0 0 1 0 4.0 0a2.0 2.0 0 1 0 -4.0 0M522.3 481.6a2.0 2.0 0 1 0 4.0 0a2.0 2.0 0 1 0 -4.0 0M534.7 478.4a2.0 2.0 0 1 0 4.0 0a2.0 2.0 0 1 0 -4.0 0M537.7 484.6a2.0 2.0 0 1 0 4.0 0a2.0 2.0 0 1 0 -4.0 0M581.9 465.3a2.0 2.0 0 1 0 4.0 0a2.0 2.0 0 1 0 -4.0 0M615.5 463.0a2.0 2.0 0 1 0 4.0 0a2.0 2.0 0 1 0 -4.0 0M606.8 490.7a2.0 2.0 0 1 0 4.0 0a2.0 2.0 0 1 0 -4.0 0" fill="#0000ff" clip-path="url(#c11)"/>
<polygon points="388.57,512.14 620.07,463.42 620.07,421.08 388.57,469.8" fill="#0000ff" fill-opacity="0.3" stroke="#0000ff" stroke-opacity="0.3" stroke-width="1" clip-path="url(#c11)"/>
<path d="M388.57 489.75L620.07 441.11" stroke="#0000ff" stroke-width="4.77" fill="none" stroke-linecap="square" clip-path="url(#c11)"/>
<path d="M388.57 500.42L620.07 476.36" stroke="#006400" stroke-width="4.77" fill="none" stroke-linecap="butt" stroke-dasharray="17.65 7.63" clip-path="url(#c11)"/>
<rect x="434.2" y="466.7" width="10.6" height="12.3" fill="#ffd700" clip-path="url(#c11)"/>
<rect x="537.55" y="450.4" width="11" height="10.7" fill="#ffd700" clip-path="url(#c11)"/>
<path d="M727.5 389.9a2.0 2.0 0 1 0 4.0 0a2.0 2.0 0 1 0 -4.0 0M720.4 419.4a2.0 2.0 0 1 0 4.0 0a2.0 2.0 0 1 0 -4.0 0M721.6 417.6a2.0 2.0 0 1 0 4.0 0a2.0 2.0 0 1 0 -4.0 0M757.6 416.0a2.0 2.0 0 1 0 4.0 0a2.0 2.0 0 1 0 -4.0 0M759.0 420.6a2.0 2.0 0 1 0 4.0 0a2.0 2.0 0 1 0 -4.0 0M740.8 427.8a2.0 2.0 0 1 0 4.0 0a2.0 2.0 0 1 0 -4.0 0M744.0 426.7a2.0 2.0 0 1 0 4.0 0a2.0 2.0 0 1 0 -4.0 0M789.6 426.7a2.0 2.0 0 1 0 4.0 0a2.0 2.0 0 1 0 -4.0 0M734.0 444.8a2.0 2.0 0 1 0 4.0 0a2.0 2.0 0 1 0 -4.0 0M745.4 449.6a2.0 2.0 0 1 0 4.0 0a2.0 2.0 0 1 0 -4.0 0M725.0 449.6a2.0 2.0 0 1 0 4.0 0a2.0 2.0 0 1 0 -4.0 0M714.1 458.7a2.0 2.0 0 1 0 4.0 0a2.0 2.0 0 1 0 -4.0 0M722.0 456.9a2.0 2.0 0 1 0 4.0 0a2.0 2.0 0 1 0 -4.0 0M724.5 456.0a2.0 2.0 0 1 0 4.0 0a2.0 2.0 0 1 0 -4.0 0M774.0 450.5a2.0 2.0 0 1 0 4.0 0a2.0 2.0 0 1 0 -4.0 0M764.7 464.1a2.0 2.0 0 1 0 4.0 0a2.0 2.0 0 1 0 -4.0 0M747.0 469.3a2.0 2.0 0 1 0 4.0 0a2.0 2.0 0 1 0 -4.0 0M763.5 471.2a2.0 2.0 0 1 0 4.0 0a2.0 2.0 0 1 0 -4.0 0M729.3 473.4a2.0 2.0 0 1 0 4.0 0a2.0 2.0 0 1 0 -4.0 0M744.0 478.4a2.0 2.0 0 1 0 4.0 0a2.0 2.0 0 1 0 -4.0 0M746.5 481.4a2.0 2.0 0 1 0 4.0 0a2.0 2.0 0 1 0 -4.0 0M791.2 465.3a2.0 2.0 0 1 0 4.0 0a2.0 2.0 0 1 0 -4.0 0M796.2 469.8a2.0 2.0 0 1 0 4.0 0a2.0 2.0 0 1 0 -4.0 0M787.1 477.7a2.0 2.0 0 1 0 4.0 0a2.0 2.0 0 1 0 -4.0 0M782.1 480.0a2.0 2.0 0 1 0 4.0 0a2.0 2.0 0 1 0 -4.0 0M811.6 447.1a2.0 2.0 0 1 0 4.0 0a2.0 2.0 0 1 0 -4.0 0M810.7 481.8a2.0 2.0 0 1 0 4.0 0a2.0 2.0 0 1 0 -4.0 0M815.0 476.8a2.0 2.0 0 1 0 4.0 0a2.0 2.0 0 1 0 -4.0 0M819.1 476.8a2.0 2.0 0 1 0 4.0 0a2.0 2.0 0 1 0 -4.0 0M806.0 490.4a2.0 2.0 0 1 0 4.0 0a2.0 2.0 0 1 0 -4.0 0M771.5 499.5a2.0 2.0 0 1 0 4.0 0a2.0 2.0 0 1 0 -4.0 0M807.1 508.1a2.0 2.0 0 1 0 4.0 0a2.0 2.0 0 1 0 -4.0 0M846.3 417.8a2.0 2.0 0 1 0 4.0 0a2.0 2.0 0 1 0 -4.0 0M849.3 431.2a2.0 2.0 0 1 0 4.0 0a2.0 2.0 0 1 0 -4.0 0M827.8 453.4a2.0 2.0 0 1 0 4.0 0a2.0 2.0 0 1 0 -4.0 0M833.9 460.2a2.0 2.0 0 1 0 4.0 0a2.0 2.0 0 1 0 -4.0 0M855.9 454.6a2.0 2.0 0 1 0 4.0 0a2.0 2.0 0 1 0 -4.0 0M858.4 461.8a2.0 2.0 0 1 0 4.0 0a2.0 2.0 0 1 0 -4.0 0M861.8 464.8a2.0 2.0 0 1 0 4.0 0a2.0 2.0 0 1 0 -4.0 0M876.5 468.2a2.0 2.0 0 1 0 4.0 0a2.0 2.0 0 1 0 -4.0 0M890.1 463.0a2.0 2.0 0 1 0 4.0 0a2.0 2.0 0 1 0 -4.0 0M911.0 467.7a2.0 2.0 0 1 0 4.0 0a2.0 2.0 0 1 0 -4.0 0M928.4 468.2a2.0 2.0 0 1 0 4.0 0a2.0 2.0 0 1 0 -4.0 0M843.4 470.0a2.0 2.0 0 1 0 4.0 0a2.0 2.0 0 1 0 -4.0 0M832.1 475.0a2.0 2.0 0 1 0 4.0 0a2.0 2.0 0 1 0 -4.0 0M902.6 480.2a2.0 2.0 0 1 0 4.0 0a2.0 2.0 0 1 0 -4.0 0M936.4 480.0a2.0 2.0 0 1 0 4.0 0a2.0 2.0 0 1 0 -4.0 0M855.9 488.1a2.0 2.0 0 1 0 4.0 0a2.0 2.0 0 1 0 -4.0 0M875.1 486.3a2.0 2.0 0 1 0 4.0 0a2.0 2.0 0 1 0 -4.0 0M839.1 493.8a2.0 2.0 0 1 0 4.0 0a2.0 2.0 0 1 0 -4.0 0M827.5 500.6a2.0 2.0 0 1 0 4.0 0a2.0 2.0 0 1 0 -4.0 0M833.9 505.6a2.0 2.0 0 1 0 4.0 0a2.0 2.0 0 1 0 -4.0 0M839.5 511.9a2.0 2.0 0 1 0 4.0 0a2.0 2.0 0 1 0 -4.0 0M864.5 501.5a2.0 2.0 0 1 0 4.0 0a2.0 2.0 0 1 0 -4.0 0M926.4 499.0a2.0 2.0 0 1 0 4.0 0a2.0 2.0 0 1 0 -4.0 0M901.4 515.8a2.0 2.0 0 1 0 4.0 0a2.0 2.0 0 1 0 -4.0 0M918.9 486.3a2.0 2.0 0 1 0 4.0 0a2.0 2.0 0 1 0 -4.0 0M874.0 478.0a2.0 2.0 0 1 0 4.0 0a2.0 2.0 0 1 0 -4.0 0" fill="#0000ff" clip-path="url(#c12)"/>
<polygon points="709.6,470.09 941.1,516.8 941.1,470.53 709.6,423.3" fill="#0000ff" fill-opacity="0.3" stroke="#0000ff" stroke-opacity="0.3" stroke-width="1" clip-path="url(#c12)"/>
<path d="M709.6 445.3L941.1 492.52" stroke="#0000ff" stroke-width="4.77" fill="none" stroke-linecap="square" clip-path="url(#c12)"/>
<path d="M709.6 485.34L941.1 493.04" stroke="#006400" stroke-width="4.77" fill="none" stroke-linecap="butt" stroke-dasharray="17.65 7.63" clip-path="url(#c12)"/>
<path d="M760.7 451.2V472.6M755.7 451.2h10M755.7 472.6h10" stroke="#ffd700" stroke-width="1.5" fill="none"/>
<rect x="755.4" y="457.8" width="10.7" height="10.2" fill="#ffd700" clip-path="url(#c12)"/>
<path d="M863.45 469.65V483.3M858.75 469.65h9.4M858.75 483.3h9.4" stroke="#ffd700" stroke-width="1.5" fill="none"/>
<rect x="857.9" y="471.2" width="11.1" height="10.8" fill="#ffd700" clip-path="url(#c12)"/>
<path d="M1128.6 378.3a2.0 2.0 0 1 0 4.0 0a2.0 2.0 0 1 0 -4.0 0M1092.1 387.6a2.0 2.0 0 1 0 4.0 0a2.0 2.0 0 1 0 -4.0 0M1068.2 412.2a2.0 2.0 0 1 0 4.0 0a2.0 2.0 0 1 0 -4.0 0M1140.6 408.8a2.0 2.0 0 1 0 4.0 0a2.0 2.0 0 1 0 -4.0 0M1067.8 427.9a2.0 2.0 0 1 0 4.0 0a2.0 2.0 0 1 0 -4.0 0M1115.7 422.0a2.0 2.0 0 1 0 4.0 0a2.0 2.0 0 1 0 -4.0 0M1117.2 430.3a2.0 2.0 0 1 0 4.0 0a2.0 2.0 0 1 0 -4.0 0M1135.3 424.1a2.0 2.0 0 1 0 4.0 0a2.0 2.0 0 1 0 -4.0 0M1138.2 424.1a2.0 2.0 0 1 0 4.0 0a2.0 2.0 0 1 0 -4.0 0M1065.4 437.7a2.0 2.0 0 1 0 4.0 0a2.0 2.0 0 1 0 -4.0 0M1108.3 436.1a2.0 2.0 0 1 0 4.0 0a2.0 2.0 0 1 0 -4.0 0M1034.8 449.2a2.0 2.0 0 1 0 4.0 0a2.0 2.0 0 1 0 -4.0 0M1066.1 446.8a2.0 2.0 0 1 0 4.0 0a2.0 2.0 0 1 0 -4.0 0M1084.0 444.9a2.0 2.0 0 1 0 4.0 0a2.0 2.0 0 1 0 -4.0 0M1085.2 451.6a2.0 2.0 0 1 0 4.0 0a2.0 2.0 0 1 0 -4.0 0M1061.8 457.1a2.0 2.0 0 1 0 4.0 0a2.0 2.0 0 1 0 -4.0 0M1043.4 460.4a2.0 2.0 0 1 0 4.0 0a2.0 2.0 0 1 0 -4.0 0M1126.2 443.2a2.0 2.0 0 1 0 4.0 0a2.0 2.0 0 1 0 -4.0 0M1131.0 443.2a2.0 2.0 0 1 0 4.0 0a2.0 2.0 0 1 0 -4.0 0M1097.1 460.4a2.0 2.0 0 1 0 4.0 0a2.0 2.0 0 1 0 -4.0 0M1102.8 460.4a2.0 2.0 0 1 0 4.0 0a2.0 2.0 0 1 0 -4.0 0M1094.7 471.9a2.0 2.0 0 1 0 4.0 0a2.0 2.0 0 1 0 -4.0 0M1132.7 467.8a2.0 2.0 0 1 0 4.0 0a2.0 2.0 0 1 0 -4.0 0M1055.4 477.1a2.0 2.0 0 1 0 4.0 0a2.0 2.0 0 1 0 -4.0 0M1064.9 477.1a2.0 2.0 0 1 0 4.0 0a2.0 2.0 0 1 0 -4.0 0M1079.0 477.1a2.0 2.0 0 1 0 4.0 0a2.0 2.0 0 1 0 -4.0 0M1111.9 477.1a2.0 2.0 0 1 0 4.0 0a2.0 2.0 0 1 0 -4.0 0M1042.7 483.1a2.0 2.0 0 1 0 4.0 0a2.0 2.0 0 1 0 -4.0 0M1045.6 490.5a2.0 2.0 0 1 0 4.0 0a2.0 2.0 0 1 0 -4.0 0M1041.5 500.0a2.0 2.0 0 1 0 4.0 0a2.0 2.0 0 1 0 -4.0 0M1080.2 500.0a2.0 2.0 0 1 0 4.0 0a2.0 2.0 0 1 0 -4.0 0M1048.7 513.1a2.0 2.0 0 1 0 4.0 0a2.0 2.0 0 1 0 -4.0 0M1111.2 513.1a2.0 2.0 0 1 0 4.0 0a2.0 2.0 0 1 0 -4.0 0M1160.3 399.1a2.0 2.0 0 1 0 4.0 0a2.0 2.0 0 1 0 -4.0 0M1160.3 405.0a2.0 2.0 0 1 0 4.0 0a2.0 2.0 0 1 0 -4.0 0M1222.3 399.1a2.0 2.0 0 1 0 4.0 0a2.0 2.0 0 1 0 -4.0 0M1220.7 402.6a2.0 2.0 0 1 0 4.0 0a2.0 2.0 0 1 0 -4.0 0M1247.4 400.3a2.0 2.0 0 1 0 4.0 0a2.0 2.0 0 1 0 -4.0 0M1185.3 407.9a2.0 2.0 0 1 0 4.0 0a2.0 2.0 0 1 0 -4.0 0M1195.4 409.3a2.0 2.0 0 1 0 4.0 0a2.0 2.0 0 1 0 -4.0 0M1148.8 422.2a2.0 2.0 0 1 0 4.0 0a2.0 2.0 0 1 0 -4.0 0M1177.0 419.8a2.0 2.0 0 1 0 4.0 0a2.0 2.0 0 1 0 -4.0 0M1197.3 419.8a2.0 2.0 0 1 0 4.0 0a2.0 2.0 0 1 0 -4.0 0M1231.9 419.8a2.0 2.0 0 1 0 4.0 0a2.0 2.0 0 1 0 -4.0 0M1239.0 417.4a2.0 2.0 0 1 0 4.0 0a2.0 2.0 0 1 0 -4.0 0M1148.8 432.5a2.0 2.0 0 1 0 4.0 0a2.0 2.0 0 1 0 -4.0 0M1151.2 432.5a2.0 2.0 0 1 0 4.0 0a2.0 2.0 0 1 0 -4.0 0M1196.1 429.4a2.0 2.0 0 1 0 4.0 0a2.0 2.0 0 1 0 -4.0 0M1154.8 443.2a2.0 2.0 0 1 0 4.0 0a2.0 2.0 0 1 0 -4.0 0M1167.4 438.9a2.0 2.0 0 1 0 4.0 0a2.0 2.0 0 1 0 -4.0 0M1223.5 438.9a2.0 2.0 0 1 0 4.0 0a2.0 2.0 0 1 0 -4.0 0M1183.0 446.8a2.0 2.0 0 1 0 4.0 0a2.0 2.0 0 1 0 -4.0 0M1148.8 451.6a2.0 2.0 0 1 0 4.0 0a2.0 2.0 0 1 0 -4.0 0M1257.0 451.6a2.0 2.0 0 1 0 4.0 0a2.0 2.0 0 1 0 -4.0 0M1152.4 459.9a2.0 2.0 0 1 0 4.0 0a2.0 2.0 0 1 0 -4.0 0M1154.8 463.5a2.0 2.0 0 1 0 4.0 0a2.0 2.0 0 1 0 -4.0 0M1248.6 457.1a2.0 2.0 0 1 0 4.0 0a2.0 2.0 0 1 0 -4.0 0M1210.9 464.0a2.0 2.0 0 1 0 4.0 0a2.0 2.0 0 1 0 -4.0 0M1176.5 467.8a2.0 2.0 0 1 0 4.0 0a2.0 2.0 0 1 0 -4.0 0M1170.5 477.1a2.0 2.0 0 1 0 4.0 0a2.0 2.0 0 1 0 -4.0 0M1179.6 477.1a2.0 2.0 0 1 0 4.0 0a2.0 2.0 0 1 0 -4.0 0" fill="#0000ff" clip-path="url(#c13)"/>
<polygon points="1030.45,495.28 1261.95,445.87 1261.95,394.57 1030.45,444.28" fill="#0000ff" fill-opacity="0.3" stroke="#0000ff" stroke-opacity="0.3" stroke-width="1" clip-path="url(#c13)"/>
<path d="M1030.45 465.92L1261.95 417.19" stroke="#0000ff" stroke-width="4.77" fill="none" stroke-linecap="square" clip-path="url(#c13)"/>
<path d="M1030.45 467.66L1261.95 446.63" stroke="#006400" stroke-width="4.77" fill="none" stroke-linecap="butt" stroke-dasharray="17.65 7.63" clip-path="url(#c13)"/>
<rect x="67.5" y="28.9" width="231.5" height="227.55" fill="none" stroke="#000" stroke-width="1.1"/>
<path d="M67.5 256.45v4.3 M125.38 256.45v4.3 M183.25 256.45v4.3 M241.12 256.45v4.3 M299 256.45v4.3 M67.5 225.2h-4.3 M67.5 185.94h-4.3 M67.5 146.68h-4.3 M67.5 107.42h-4.3 M67.5 68.16h-4.3 M67.5 28.9h-4.3" stroke="#000" stroke-width="1.1" fill="none"/>
<text x="64.42" y="274.95" font-size="12.34" fill="#000" textLength="6.43" lengthAdjust="spacingAndGlyphs">2</text>
<text x="123.01" y="274.95" font-size="12.34" fill="#000" textLength="6.65" lengthAdjust="spacingAndGlyphs">4</text>
<text x="180.35" y="274.95" font-size="12.34" fill="#000" textLength="6.16" lengthAdjust="spacingAndGlyphs">6</text>
<text x="238.03" y="274.95" font-size="12.34" fill="#000" textLength="6.91" lengthAdjust="spacingAndGlyphs">8</text>
<text x="292.62" y="274.95" font-size="12.34" fill="#000" textLength="14.12" lengthAdjust="spacingAndGlyphs">10</text>
<text x="32.52" y="230.51" font-size="12.34" fill="#000" textLength="26.16" lengthAdjust="spacingAndGlyphs">11.4</text>
<text x="32.47" y="191.25" font-size="12.34" fill="#000" textLength="26.4" lengthAdjust="spacingAndGlyphs">11.6</text>
<text x="32.5" y="151.99" font-size="12.34" fill="#000" textLength="25.7" lengthAdjust="spacingAndGlyphs">11.8</text>
<text x="32.52" y="112.73" font-size="12.34" fill="#000" textLength="25.92" lengthAdjust="spacingAndGlyphs">12.0</text>
<text x="32.52" y="73.47" font-size="12.34" fill="#000" textLength="25.81" lengthAdjust="spacingAndGlyphs">12.2</text>
<text x="32.52" y="34.21" font-size="12.34" fill="#000" textLength="26.16" lengthAdjust="spacingAndGlyphs">12.4</text>
<rect x="388.57" y="28.9" width="231.5" height="227.55" fill="none" stroke="#000" stroke-width="1.1"/>
<path d="M388.57 256.45v4.3 M446.44 256.45v4.3 M504.32 256.45v4.3 M562.19 256.45v4.3 M620.07 256.45v4.3 M388.57 231.58h-4.3 M388.57 200.65h-4.3 M388.57 169.71h-4.3 M388.57 138.78h-4.3 M388.57 107.84h-4.3 M388.57 76.91h-4.3 M388.57 45.98h-4.3" stroke="#000" stroke-width="1.1" fill="none"/>
<text x="385.35" y="274.95" font-size="12.34" fill="#000" textLength="6.43" lengthAdjust="spacingAndGlyphs">2</text>
<text x="443.92" y="274.95" font-size="12.34" fill="#000" textLength="6.65" lengthAdjust="spacingAndGlyphs">4</text>
<text x="501.18" y="274.95" font-size="12.34" fill="#000" textLength="7.4" lengthAdjust="spacingAndGlyphs">6</text>
<text x="558.92" y="274.95" font-size="12.34" fill="#000" textLength="6.91" lengthAdjust="spacingAndGlyphs">8</text>
<text x="613.53" y="274.95" font-size="12.34" fill="#000" textLength="14.2" lengthAdjust="spacingAndGlyphs">10</text>
<text x="345.45" y="236.89" font-size="12.34" fill="#000" textLength="34.11" lengthAdjust="spacingAndGlyphs">13.00</text>
<text x="346.49" y="205.96" font-size="12.34" fill="#000" textLength="32.53" lengthAdjust="spacingAndGlyphs">13.25</text>
<text x="345.45" y="175.02" font-size="12.34" fill="#000" textLength="34.11" lengthAdjust="spacingAndGlyphs">13.50</text>
<text x="346.49" y="144.09" font-size="12.34" fill="#000" textLength="32.53" lengthAdjust="spacingAndGlyphs">13.75</text>
<text x="345.45" y="113.15" font-size="12.34" fill="#000" textLength="34.11" lengthAdjust="spacingAndGlyphs">14.00</text>
<text x="346.49" y="82.22" font-size="12.34" fill="#000" textLength="32.53" lengthAdjust="spacingAndGlyphs">14.25</text>
<text x="345.45" y="51.29" font-size="12.34" fill="#000" textLength="34.11" lengthAdjust="spacingAndGlyphs">14.50</text>
<rect x="709.6" y="28.9" width="231.5" height="227.55" fill="none" stroke="#000" stroke-width="1.1"/>
<path d="M709.6 256.45v4.3 M767.48 256.45v4.3 M825.35 256.45v4.3 M883.23 256.45v4.3 M941.1 256.45v4.3 M709.6 223.1h-4.3 M709.6 181.97h-4.3 M709.6 140.84h-4.3 M709.6 99.72h-4.3 M709.6 58.59h-4.3" stroke="#000" stroke-width="1.1" fill="none"/>
<text x="707.2" y="274.95" font-size="12.34" fill="#000" textLength="5.51" lengthAdjust="spacingAndGlyphs">2</text>
<text x="764.81" y="274.95" font-size="12.34" fill="#000" textLength="6.65" lengthAdjust="spacingAndGlyphs">4</text>
<text x="822.05" y="274.95" font-size="12.34" fill="#000" textLength="7.19" lengthAdjust="spacingAndGlyphs">6</text>
<text x="879.85" y="274.95" font-size="12.34" fill="#000" textLength="6.71" lengthAdjust="spacingAndGlyphs">8</text>
<text x="934.35" y="274.95" font-size="12.34" fill="#000" textLength="14.12" lengthAdjust="spacingAndGlyphs">10</text>
<text x="693.37" y="228.41" font-size="12.34" fill="#000" textLength="6.86" lengthAdjust="spacingAndGlyphs">5</text>
<text x="686.63" y="187.28" font-size="12.34" fill="#000" textLength="14.2" lengthAdjust="spacingAndGlyphs">10</text>
<text x="686.67" y="146.16" font-size="12.34" fill="#000" textLength="13.58" lengthAdjust="spacingAndGlyphs">15</text>
<text x="686.22" y="105.03" font-size="12.34" fill="#000" textLength="14.65" lengthAdjust="spacingAndGlyphs">20</text>
<text x="686.24" y="63.9" font-size="12.34" fill="#000" textLength="14.03" lengthAdjust="spacingAndGlyphs">25</text>
<rect x="1030.45" y="28.9" width="231.5" height="227.55" fill="none" stroke="#000" stroke-width="1.1"/>
<path d="M1030.45 256.45v4.3 M1088.33 256.45v4.3 M1146.2 256.45v4.3 M1204.08 256.45v4.3 M1261.95 256.45v4.3 M1030.45 247.07h-4.3 M1030.45 201.55h-4.3 M1030.45 156.03h-4.3 M1030.45 110.52h-4.3 M1030.45 65h-4.3" stroke="#000" stroke-width="1.1" fill="none"/>
<text x="1027.27" y="274.95" font-size="12.34" fill="#000" textLength="6.43" lengthAdjust="spacingAndGlyphs">2</text>
<text x="1085.87" y="274.95" font-size="12.34" fill="#000" textLength="6.65" lengthAdjust="spacingAndGlyphs">4</text>
<text x="1143.19" y="274.95" font-size="12.34" fill="#000" textLength="7.19" lengthAdjust="spacingAndGlyphs">6</text>
<text x="1200.88" y="274.95" font-size="12.34" fill="#000" textLength="6.91" lengthAdjust="spacingAndGlyphs">8</text>
<text x="1255.47" y="274.95" font-size="12.34" fill="#000" textLength="14.12" lengthAdjust="spacingAndGlyphs">10</text>
<text x="1003.31" y="252.38" font-size="12.34" fill="#000" textLength="18.23" lengthAdjust="spacingAndGlyphs">1.5</text>
<text x="1002.92" y="206.86" font-size="12.34" fill="#000" textLength="18.18" lengthAdjust="spacingAndGlyphs">2.0</text>
<text x="1002.84" y="161.35" font-size="12.34" fill="#000" textLength="18.85" lengthAdjust="spacingAndGlyphs">2.5</text>
<text x="1003.26" y="115.83" font-size="12.34" fill="#000" textLength="17.86" lengthAdjust="spacingAndGlyphs">3.0</text>
<text x="1003.24" y="70.31" font-size="12.34" fill="#000" textLength="18.4" lengthAdjust="spacingAndGlyphs">3.5</text>
<rect x="67.5" y="315.95" width="231.5" height="227.5" fill="none" stroke="#000" stroke-width="1.1"/>
<path d="M93.22 543.45v4.3 M144.67 543.45v4.3 M196.11 543.45v4.3 M247.56 543.45v4.3 M299 543.45v4.3 M67.5 512.21h-4.3 M67.5 472.95h-4.3 M67.5 433.7h-4.3 M67.5 394.45h-4.3 M67.5 355.2h-4.3 M67.5 315.95h-4.3" stroke="#000" stroke-width="1.1" fill="none"/>
<text x="84.76" y="561.95" font-size="12.34" fill="#000" textLength="17.75" lengthAdjust="spacingAndGlyphs">0.8</text>
<text x="136.09" y="561.95" font-size="12.34" fill="#000" textLength="18.56" lengthAdjust="spacingAndGlyphs">0.9</text>
<text x="187.86" y="561.95" font-size="12.34" fill="#000" textLength="17.65" lengthAdjust="spacingAndGlyphs">1.0</text>
<text x="238.64" y="561.95" font-size="12.34" fill="#000" textLength="18.62" lengthAdjust="spacingAndGlyphs">1.1</text>
<text x="290.41" y="561.95" font-size="12.34" fill="#000" textLength="17.67" lengthAdjust="spacingAndGlyphs">1.2</text>
<text x="32.52" y="517.52" font-size="12.34" fill="#000" textLength="26.16" lengthAdjust="spacingAndGlyphs">11.4</text>
<text x="32.47" y="478.27" font-size="12.34" fill="#000" textLength="26.4" lengthAdjust="spacingAndGlyphs">11.6</text>
<text x="32.5" y="439.01" font-size="12.34" fill="#000" textLength="25.7" lengthAdjust="spacingAndGlyphs">11.8</text>
<text x="32.52" y="399.76" font-size="12.34" fill="#000" textLength="25.92" lengthAdjust="spacingAndGlyphs">12.0</text>
<text x="32.52" y="360.51" font-size="12.34" fill="#000" textLength="25.81" lengthAdjust="spacingAndGlyphs">12.2</text>
<text x="32.52" y="321.26" font-size="12.34" fill="#000" textLength="26.16" lengthAdjust="spacingAndGlyphs">12.4</text>
<rect x="388.57" y="315.95" width="231.5" height="227.5" fill="none" stroke="#000" stroke-width="1.1"/>
<path d="M414.29 543.45v4.3 M465.74 543.45v4.3 M517.18 543.45v4.3 M568.63 543.45v4.3 M620.07 543.45v4.3 M388.57 534.62h-4.3 M388.57 490.88h-4.3 M388.57 447.15h-4.3 M388.57 403.42h-4.3 M388.57 359.68h-4.3 M388.57 315.95h-4.3" stroke="#000" stroke-width="1.1" fill="none"/>
<text x="405.63" y="561.95" font-size="12.34" fill="#000" textLength="18.8" lengthAdjust="spacingAndGlyphs">0.8</text>
<text x="457.01" y="561.95" font-size="12.34" fill="#000" textLength="18.56" lengthAdjust="spacingAndGlyphs">0.9</text>
<text x="508.72" y="561.95" font-size="12.34" fill="#000" textLength="17.71" lengthAdjust="spacingAndGlyphs">1.0</text>
<text x="560.59" y="561.95" font-size="12.34" fill="#000" textLength="17.59" lengthAdjust="spacingAndGlyphs">1.1</text>
<text x="611.33" y="561.95" font-size="12.34" fill="#000" textLength="17.6" lengthAdjust="spacingAndGlyphs">1.2</text>
<text x="353.42" y="539.93" font-size="12.34" fill="#000" textLength="25.42" lengthAdjust="spacingAndGlyphs">12.5</text>
<text x="353.43" y="496.19" font-size="12.34" fill="#000" textLength="25.92" lengthAdjust="spacingAndGlyphs">13.0</text>
<text x="353.42" y="452.46" font-size="12.34" fill="#000" textLength="25.42" lengthAdjust="spacingAndGlyphs">13.5</text>
<text x="353.43" y="408.73" font-size="12.34" fill="#000" textLength="25.92" lengthAdjust="spacingAndGlyphs">14.0</text>
<text x="353.42" y="364.99" font-size="12.34" fill="#000" textLength="25.42" lengthAdjust="spacingAndGlyphs">14.5</text>
<text x="353.43" y="321.26" font-size="12.34" fill="#000" textLength="25.92" lengthAdjust="spacingAndGlyphs">15.0</text>
<rect x="709.6" y="315.95" width="231.5" height="227.5" fill="none" stroke="#000" stroke-width="1.1"/>
<path d="M735.32 543.45v4.3 M786.77 543.45v4.3 M838.21 543.45v4.3 M889.66 543.45v4.3 M941.1 543.45v4.3 M709.6 543.49h-4.3 M709.6 506.82h-4.3 M709.6 470.16h-4.3 M709.6 433.49h-4.3 M709.6 396.83h-4.3 M709.6 360.17h-4.3 M709.6 323.5h-4.3" stroke="#000" stroke-width="1.1" fill="none"/>
<text x="726.43" y="561.95" font-size="12.34" fill="#000" textLength="18.8" lengthAdjust="spacingAndGlyphs">0.8</text>
<text x="777.78" y="561.95" font-size="12.34" fill="#000" textLength="18.61" lengthAdjust="spacingAndGlyphs">0.9</text>
<text x="829.48" y="561.95" font-size="12.34" fill="#000" textLength="17.77" lengthAdjust="spacingAndGlyphs">1.0</text>
<text x="881.35" y="561.95" font-size="12.34" fill="#000" textLength="17.65" lengthAdjust="spacingAndGlyphs">1.1</text>
<text x="932.03" y="561.95" font-size="12.34" fill="#000" textLength="18.84" lengthAdjust="spacingAndGlyphs">1.2</text>
<text x="694.26" y="548.8" font-size="12.34" fill="#000" textLength="6.4" lengthAdjust="spacingAndGlyphs">0</text>
<text x="693.37" y="512.13" font-size="12.34" fill="#000" textLength="6.86" lengthAdjust="spacingAndGlyphs">5</text>
<text x="686.63" y="475.47" font-size="12.34" fill="#000" textLength="14.2" lengthAdjust="spacingAndGlyphs">10</text>
<text x="686.67" y="438.81" font-size="12.34" fill="#000" textLength="13.58" lengthAdjust="spacingAndGlyphs">15</text>
<text x="686.22" y="402.14" font-size="12.34" fill="#000" textLength="14.65" lengthAdjust="spacingAndGlyphs">20</text>
<text x="686.24" y="365.48" font-size="12.34" fill="#000" textLength="14.03" lengthAdjust="spacingAndGlyphs">25</text>
<text x="686.57" y="328.81" font-size="12.34" fill="#000" textLength="14.27" lengthAdjust="spacingAndGlyphs">30</text>
<rect x="1030.45" y="315.95" width="231.5" height="227.5" fill="none" stroke="#000" stroke-width="1.1"/>
<path d="M1056.17 543.45v4.3 M1107.62 543.45v4.3 M1159.06 543.45v4.3 M1210.51 543.45v4.3 M1261.95 543.45v4.3 M1030.45 535.54h-4.3 M1030.45 497.7h-4.3 M1030.45 459.87h-4.3 M1030.45 422.03h-4.3 M1030.45 384.2h-4.3 M1030.45 346.37h-4.3" stroke="#000" stroke-width="1.1" fill="none"/>
<text x="1047.59" y="561.95" font-size="12.34" fill="#000" textLength="18.8" lengthAdjust="spacingAndGlyphs">0.8</text>
<text x="1098.94" y="561.95" font-size="12.34" fill="#000" textLength="18.56" lengthAdjust="spacingAndGlyphs">0.9</text>
<text x="1150.71" y="561.95" font-size="12.34" fill="#000" textLength="17.65" lengthAdjust="spacingAndGlyphs">1.0</text>
<text x="1201.48" y="561.95" font-size="12.34" fill="#000" textLength="18.62" lengthAdjust="spacingAndGlyphs">1.1</text>
<text x="1253.26" y="561.95" font-size="12.34" fill="#000" textLength="17.67" lengthAdjust="spacingAndGlyphs">1.2</text>
<text x="1003.04" y="540.85" font-size="12.34" fill="#000" textLength="18" lengthAdjust="spacingAndGlyphs">0.0</text>
<text x="1003.01" y="503.01" font-size="12.34" fill="#000" textLength="18.68" lengthAdjust="spacingAndGlyphs">0.5</text>
<text x="1003.34" y="465.18" font-size="12.34" fill="#000" textLength="17.71" lengthAdjust="spacingAndGlyphs">1.0</text>
<text x="1003.31" y="427.35" font-size="12.34" fill="#000" textLength="18.23" lengthAdjust="spacingAndGlyphs">1.5</text>
<text x="1002.92" y="389.51" font-size="12.34" fill="#000" textLength="18.18" lengthAdjust="spacingAndGlyphs">2.0</text>
<text x="1002.84" y="351.68" font-size="12.34" fill="#000" textLength="18.85" lengthAdjust="spacingAndGlyphs">2.5</text>
<text x="132.29" y="22.1" font-size="17" fill="#000" textLength="102.18" lengthAdjust="spacingAndGlyphs">Stellar mass</text>
<text x="461.5" y="22.1" font-size="17" fill="#000" textLength="86.06" lengthAdjust="spacingAndGlyphs">Halo mass</text>
<text x="766.68" y="22.1" font-size="17" fill="#000" textLength="117.22" lengthAdjust="spacingAndGlyphs">Concentration</text>
<text x="1109.24" y="22.1" font-size="17" fill="#000" textLength="74.06" lengthAdjust="spacingAndGlyphs">Richness</text>
<text x="178.73" y="295.15" font-size="17" fill="#000" textLength="10.49" lengthAdjust="spacingAndGlyphs"><tspan font-style="italic">n</tspan></text>
<text x="499.57" y="295.15" font-size="17" fill="#000" textLength="10.62" lengthAdjust="spacingAndGlyphs"><tspan font-style="italic">n</tspan></text>
<text x="821.35" y="295.15" font-size="17" fill="#000" textLength="9.56" lengthAdjust="spacingAndGlyphs"><tspan font-style="italic">n</tspan></text>
<text x="1141.58" y="295.15" font-size="17" fill="#000" textLength="10.49" lengthAdjust="spacingAndGlyphs"><tspan font-style="italic">n</tspan></text>
<text x="178.73" y="582.15" font-size="17" fill="#000" textLength="10.49" lengthAdjust="spacingAndGlyphs"><tspan font-style="italic">n</tspan></text>
<text x="499.57" y="582.15" font-size="17" fill="#000" textLength="10.62" lengthAdjust="spacingAndGlyphs"><tspan font-style="italic">n</tspan></text>
<text x="821.35" y="582.15" font-size="17" fill="#000" textLength="9.56" lengthAdjust="spacingAndGlyphs"><tspan font-style="italic">n</tspan></text>
<text x="1141.58" y="582.15" font-size="17" fill="#000" textLength="10.49" lengthAdjust="spacingAndGlyphs"><tspan font-style="italic">n</tspan></text>
<text transform="translate(23,167) rotate(-90)" font-size="17" fill="#000" textLength="46.38" lengthAdjust="spacingAndGlyphs">log<tspan font-style="italic">M</tspan><tspan font-size="11.5" dy="3.5">*</tspan><tspan dy="-3.5"> </tspan></text>
<text transform="translate(23,454.01) rotate(-90)" font-size="17" fill="#000" textLength="46.43" lengthAdjust="spacingAndGlyphs">log<tspan font-style="italic">M</tspan><tspan font-size="11.5" dy="3.5">*</tspan><tspan dy="-3.5"> </tspan></text>
<text transform="translate(336.5,166.01) rotate(-90)" font-size="17" fill="#000" textLength="45.36" lengthAdjust="spacingAndGlyphs">log<tspan font-style="italic">M</tspan><tspan font-size="11.5" dy="3.2" font-style="italic">h</tspan><tspan dy="-3.2"> </tspan></text>
<text transform="translate(344.2,453.02) rotate(-90)" font-size="17" fill="#000" textLength="46.37" lengthAdjust="spacingAndGlyphs">log<tspan font-style="italic">M</tspan><tspan font-size="11.5" dy="3.2" font-style="italic">h</tspan><tspan dy="-3.2"> </tspan></text>
<text transform="translate(677.9,147.05) rotate(-90)" font-size="17" fill="#000" textLength="8.38" lengthAdjust="spacingAndGlyphs"><tspan font-style="italic">c</tspan></text>
<text transform="translate(677.9,434.1) rotate(-90)" font-size="17" fill="#000" textLength="9.43" lengthAdjust="spacingAndGlyphs"><tspan font-style="italic">c</tspan></text>
<text transform="translate(993.8,159.04) rotate(-90)" font-size="17" fill="#000" textLength="33" lengthAdjust="spacingAndGlyphs">log<tspan font-style="italic">λ</tspan></text>
<text transform="translate(993.7,447.05) rotate(-90)" font-size="17" fill="#000" textLength="34.06" lengthAdjust="spacingAndGlyphs">log<tspan font-style="italic">λ</tspan></text>
<text x="97.01" y="132.3" font-size="17" fill="#ff0000" textLength="153.52" lengthAdjust="spacingAndGlyphs">log<tspan font-style="italic">M</tspan><tspan font-size="11.5" dy="3.5">*</tspan><tspan dy="-3.5"> </tspan>= 0.000(2)<tspan font-style="italic">n</tspan></text>
<text x="156.01" y="152.8" font-size="17" fill="#ff0000" textLength="94.77" lengthAdjust="spacingAndGlyphs">+11.45(11)</text>
<text x="417.01" y="63.6" font-size="17" fill="#ff0000" textLength="151.45" lengthAdjust="spacingAndGlyphs">log<tspan font-style="italic">M</tspan><tspan font-size="11.5" dy="3.2" font-style="italic">h</tspan><tspan dy="-3.2"> </tspan>= 0.017(5)<tspan font-style="italic">n</tspan></text>
<text x="476.99" y="83.6" font-size="17" fill="#ff0000" textLength="73.16" lengthAdjust="spacingAndGlyphs">+13.4(2)</text>
<text x="730" y="62.7" font-size="17" fill="#ff0000" textLength="187.53" lengthAdjust="spacingAndGlyphs"><tspan font-style="italic">c</tspan> = − 0.02(6)<tspan font-style="italic">n</tspan> + 11(3)</text>
<text x="1040.02" y="64.8" font-size="17" fill="#ff0000" textLength="208.16" lengthAdjust="spacingAndGlyphs">log<tspan font-style="italic">λ</tspan> = 0.010(6)<tspan font-style="italic">n</tspan> + 2.4(2)</text>
<text x="93.01" y="419.6" font-size="17" fill="#0000ff" textLength="143.22" lengthAdjust="spacingAndGlyphs">log<tspan font-style="italic">M</tspan><tspan font-size="11.5" dy="3.5">*</tspan><tspan dy="-3.5"> </tspan>= 0.00(0)<tspan font-style="italic">n</tspan></text>
<text x="153" y="439.5" font-size="17" fill="#0000ff" textLength="84.48" lengthAdjust="spacingAndGlyphs">+11.43(9)</text>
<text x="399.02" y="382" font-size="17" fill="#0000ff" textLength="211.22" lengthAdjust="spacingAndGlyphs">log<tspan font-style="italic">M</tspan><tspan font-size="11.5" dy="3.2" font-style="italic">h</tspan><tspan dy="-3.2"> </tspan>= 1.3(3)<tspan font-style="italic">n</tspan> + 12.1(3)</text>
<text x="736" y="368.3" font-size="17" fill="#0000ff" textLength="172.1" lengthAdjust="spacingAndGlyphs"><tspan font-style="italic">c</tspan> = − 15(3)<tspan font-style="italic">n</tspan> + 24(3)</text>
<text x="1056.02" y="354.1" font-size="17" fill="#0000ff" textLength="186.49" lengthAdjust="spacingAndGlyphs">log<tspan font-style="italic">λ</tspan> = 1.5(4)<tspan font-style="italic">n</tspan> − 0.2(4)</text>
<rect x="76.5" y="37.2" width="198" height="55.5" rx="3.5" fill="#fff" fill-opacity="0.8" stroke="#cccccc" stroke-width="1.1"/>
<path d="M82.9 51.5H116.4" stroke="#ff0000" stroke-width="4.77" stroke-linecap="square"/>
<path d="M82.9 76.4H116.4" stroke="#000000" stroke-width="4.77" stroke-dasharray="17.65 7.63"/>
<text x="129.99" y="57.5" font-size="17" fill="#000" textLength="110.31" lengthAdjust="spacingAndGlyphs">TNG300, <tspan font-style="italic">z</tspan>=0</text>
<text x="129.99" y="81.9" font-size="17" fill="#000" textLength="137.08" lengthAdjust="spacingAndGlyphs">TNG300, <tspan font-style="italic">z</tspan>=0.55</text>
<rect x="76.2" y="324.7" width="173.4" height="55.3" rx="3.5" fill="#fff" fill-opacity="0.8" stroke="#cccccc" stroke-width="1.1"/>
<path d="M82.9 338.8H116.4" stroke="#0000ff" stroke-width="4.77" stroke-linecap="square"/>
<path d="M82.9 364H116.4" stroke="#006400" stroke-width="4.77" stroke-dasharray="17.65 7.63"/>
<text x="128.99" y="345" font-size="17" fill="#000" textLength="86.56" lengthAdjust="spacingAndGlyphs">S100, <tspan font-style="italic">z</tspan>=0</text>
<text x="129" y="370" font-size="17" fill="#000" textLength="113.35" lengthAdjust="spacingAndGlyphs">S100, <tspan font-style="italic">z</tspan>=0.55</text>
</svg>
</body></html>
